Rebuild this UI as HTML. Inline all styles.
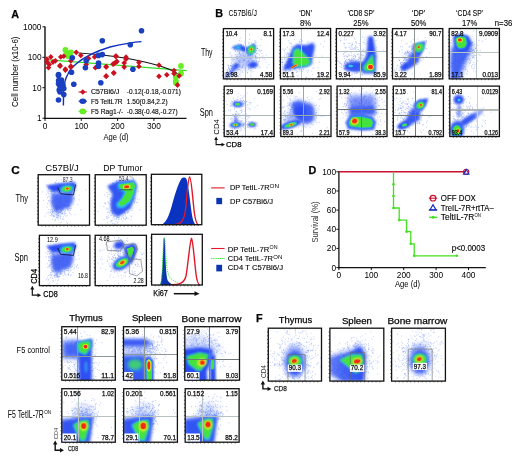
<!DOCTYPE html>
<html><head><meta charset="utf-8"><style>
html,body{margin:0;padding:0;background:#fff;width:520px;height:460px;overflow:hidden}
svg{display:block;font-family:"Liberation Sans", sans-serif;will-change:transform} text.q{stroke:#111;stroke-width:0.25px} text.l{stroke:#111;stroke-width:0.12px}
</style></head><body>
<svg width="520" height="460" viewBox="0 0 520 460">
<rect width="520" height="460" fill="#fff"/>
<defs><filter id="bl25" x="-50%" y="-50%" width="200%" height="200%"><feGaussianBlur stdDeviation="2.5"/></filter><filter id="bl12" x="-50%" y="-50%" width="200%" height="200%"><feGaussianBlur stdDeviation="1.2"/></filter><filter id="bl10" x="-50%" y="-50%" width="200%" height="200%"><feGaussianBlur stdDeviation="1.0"/></filter><filter id="bl11" x="-50%" y="-50%" width="200%" height="200%"><feGaussianBlur stdDeviation="1.1"/></filter><filter id="bl8" x="-50%" y="-50%" width="200%" height="200%"><feGaussianBlur stdDeviation="0.8"/></filter><filter id="bl9" x="-50%" y="-50%" width="200%" height="200%"><feGaussianBlur stdDeviation="0.9"/></filter><filter id="bl5" x="-50%" y="-50%" width="200%" height="200%"><feGaussianBlur stdDeviation="0.5"/></filter><filter id="bl4" x="-50%" y="-50%" width="200%" height="200%"><feGaussianBlur stdDeviation="0.4"/></filter><filter id="bl13" x="-50%" y="-50%" width="200%" height="200%"><feGaussianBlur stdDeviation="1.3"/></filter><filter id="bl16" x="-50%" y="-50%" width="200%" height="200%"><feGaussianBlur stdDeviation="1.6"/></filter><filter id="bl6" x="-50%" y="-50%" width="200%" height="200%"><feGaussianBlur stdDeviation="0.6"/></filter><filter id="bl18" x="-50%" y="-50%" width="200%" height="200%"><feGaussianBlur stdDeviation="1.8"/></filter><filter id="bl7" x="-50%" y="-50%" width="200%" height="200%"><feGaussianBlur stdDeviation="0.7"/></filter><filter id="bl20" x="-50%" y="-50%" width="200%" height="200%"><feGaussianBlur stdDeviation="2.0"/></filter><filter id="bl3" x="-50%" y="-50%" width="200%" height="200%"><feGaussianBlur stdDeviation="0.3"/></filter><filter id="bl15" x="-50%" y="-50%" width="200%" height="200%"><feGaussianBlur stdDeviation="1.5"/></filter><filter id="bl22" x="-50%" y="-50%" width="200%" height="200%"><feGaussianBlur stdDeviation="2.2"/></filter><filter id="bl14" x="-50%" y="-50%" width="200%" height="200%"><feGaussianBlur stdDeviation="1.4"/></filter><filter id="bl30" x="-50%" y="-50%" width="200%" height="200%"><feGaussianBlur stdDeviation="3"/></filter></defs>
<text x="11.2" y="17.9" font-size="10.8" class="q" font-weight="bold">A</text>
<line x1="45.0" y1="26.5" x2="45.0" y2="119.1" stroke="#111" stroke-width="1.4" />
<line x1="44.3" y1="118.4" x2="186.5" y2="118.4" stroke="#111" stroke-width="1.4" />
<line x1="42.5" y1="26.8" x2="45.0" y2="26.8" stroke="#111" stroke-width="1" />
<text x="41.5" y="29.8" font-size="8.3" text-anchor="end">1000</text>
<line x1="42.5" y1="57.3" x2="45.0" y2="57.3" stroke="#111" stroke-width="1" />
<text x="41.5" y="60.3" font-size="8.3" text-anchor="end">100</text>
<line x1="42.5" y1="87.7" x2="45.0" y2="87.7" stroke="#111" stroke-width="1" />
<text x="41.5" y="90.7" font-size="8.3" text-anchor="end">10</text>
<line x1="42.5" y1="118.2" x2="45.0" y2="118.2" stroke="#111" stroke-width="1" />
<text x="41.5" y="121.2" font-size="8.3" text-anchor="end">1</text>
<line x1="45.0" y1="118.4" x2="45.0" y2="120.9" stroke="#111" stroke-width="1" />
<text x="45.0" y="128.5" font-size="8.3" text-anchor="middle">0</text>
<line x1="81.3" y1="118.4" x2="81.3" y2="120.9" stroke="#111" stroke-width="1" />
<text x="81.3" y="128.5" font-size="8.3" text-anchor="middle">100</text>
<line x1="117.6" y1="118.4" x2="117.6" y2="120.9" stroke="#111" stroke-width="1" />
<text x="117.6" y="128.5" font-size="8.3" text-anchor="middle">200</text>
<line x1="153.9" y1="118.4" x2="153.9" y2="120.9" stroke="#111" stroke-width="1" />
<text x="153.9" y="128.5" font-size="8.3" text-anchor="middle">300</text>
<text x="103.5" y="139.6" font-size="8.6" textLength="25.0" lengthAdjust="spacingAndGlyphs">Age (d)</text>
<text x="17.9" y="107.0" font-size="8.4" textLength="70.5" lengthAdjust="spacingAndGlyphs" transform="rotate(-90 17.9 107.0)">Cell number (x10-6)</text>
<path d="M46,59.7 L186.7,70.6" stroke="#33dd22" stroke-width="1.2" fill="none"/>
<path d="M78.5,53 C110,55 140,60 160,66 C168,68.5 174,71 177.5,73.8" stroke="#111" stroke-width="1.2" fill="none"/>
<path d="M63.4,105.4 L63.6,90 C64.5,82 66,77 67.7,74.6 C70,69 72,67 75.4,64.6 C85,56 100,50 110,47 C125,43.5 135,42 141.5,41.6" stroke="#1030c0" stroke-width="1.4" fill="none"/>
<circle cx="65.4" cy="50" r="2.9" fill="#66ee22"/>
<circle cx="70.8" cy="52.3" r="2.9" fill="#66ee22"/>
<circle cx="68.5" cy="56.2" r="2.9" fill="#66ee22"/>
<circle cx="181" cy="66" r="2.9" fill="#66ee22"/>
<circle cx="181" cy="73.5" r="2.9" fill="#66ee22"/>
<circle cx="175.8" cy="76.9" r="2.9" fill="#66ee22"/>
<circle cx="175.8" cy="81" r="2.9" fill="#66ee22"/>
<circle cx="175.8" cy="82.7" r="2.9" fill="#66ee22"/>
<circle cx="67" cy="53" r="2.9" fill="#66ee22"/>
<path d="M46.9,56.300000000000004 L49.699999999999996,59.2 L46.9,62.1 L44.1,59.2 Z" fill="#cc1020"/>
<path d="M50.8,54.0 L53.599999999999994,56.9 L50.8,59.8 L48.0,56.9 Z" fill="#cc1020"/>
<path d="M49.2,61.699999999999996 L52.0,64.6 L49.2,67.5 L46.400000000000006,64.6 Z" fill="#cc1020"/>
<path d="M48.5,64.8 L51.3,67.7 L48.5,70.60000000000001 L45.7,67.7 Z" fill="#cc1020"/>
<path d="M55.4,57.9 L58.199999999999996,60.8 L55.4,63.699999999999996 L52.6,60.8 Z" fill="#cc1020"/>
<path d="M60,62.50000000000001 L62.8,65.4 L60,68.30000000000001 L57.2,65.4 Z" fill="#cc1020"/>
<path d="M60.8,54.0 L63.599999999999994,56.9 L60.8,59.8 L58.0,56.9 Z" fill="#cc1020"/>
<path d="M63.8,53.300000000000004 L66.6,56.2 L63.8,59.1 L61.0,56.2 Z" fill="#cc1020"/>
<path d="M65.4,66.3 L68.2,69.2 L65.4,72.10000000000001 L62.60000000000001,69.2 Z" fill="#cc1020"/>
<path d="M70.8,57.9 L73.6,60.8 L70.8,63.699999999999996 L68.0,60.8 Z" fill="#cc1020"/>
<path d="M70.8,63.300000000000004 L73.6,66.2 L70.8,69.10000000000001 L68.0,66.2 Z" fill="#cc1020"/>
<path d="M76.2,49.4 L79.0,52.3 L76.2,55.199999999999996 L73.4,52.3 Z" fill="#cc1020"/>
<path d="M80.8,52.5 L83.6,55.4 L80.8,58.3 L78.0,55.4 Z" fill="#cc1020"/>
<path d="M86.2,61.699999999999996 L89.0,64.6 L86.2,67.5 L83.4,64.6 Z" fill="#cc1020"/>
<path d="M88.5,55.6 L91.3,58.5 L88.5,61.4 L85.7,58.5 Z" fill="#cc1020"/>
<path d="M94.6,54.0 L97.39999999999999,56.9 L94.6,59.8 L91.8,56.9 Z" fill="#cc1020"/>
<path d="M95.4,64.8 L98.2,67.7 L95.4,70.60000000000001 L92.60000000000001,67.7 Z" fill="#cc1020"/>
<path d="M106.2,64.0 L109.0,66.9 L106.2,69.80000000000001 L103.4,66.9 Z" fill="#cc1020"/>
<path d="M106.2,73.3 L109.0,76.2 L106.2,79.10000000000001 L103.4,76.2 Z" fill="#cc1020"/>
<path d="M113.8,60.9 L116.6,63.8 L113.8,66.7 L111.0,63.8 Z" fill="#cc1020"/>
<path d="M113.8,70.19999999999999 L116.6,73.1 L113.8,76.0 L111.0,73.1 Z" fill="#cc1020"/>
<path d="M116.2,53.300000000000004 L119.0,56.2 L116.2,59.1 L113.4,56.2 Z" fill="#cc1020"/>
<path d="M116.9,58.6 L119.7,61.5 L116.9,64.4 L114.10000000000001,61.5 Z" fill="#cc1020"/>
<path d="M115.6,53.4 L118.39999999999999,56.3 L115.6,59.199999999999996 L112.8,56.3 Z" fill="#cc1020"/>
<path d="M126,54.300000000000004 L128.8,57.2 L126,60.1 L123.2,57.2 Z" fill="#cc1020"/>
<path d="M126,56.1 L128.8,59 L126,61.9 L123.2,59 Z" fill="#cc1020"/>
<path d="M115.6,59.5 L118.39999999999999,62.4 L115.6,65.3 L112.8,62.4 Z" fill="#cc1020"/>
<path d="M113,61.199999999999996 L115.8,64.1 L113,67.0 L110.2,64.1 Z" fill="#cc1020"/>
<path d="M124.2,60.0 L127.0,62.9 L124.2,65.8 L121.4,62.9 Z" fill="#cc1020"/>
<path d="M124.2,64.19999999999999 L127.0,67.1 L124.2,70.0 L121.4,67.1 Z" fill="#cc1020"/>
<path d="M106.1,63.800000000000004 L108.89999999999999,66.7 L106.1,69.60000000000001 L103.3,66.7 Z" fill="#cc1020"/>
<path d="M113.8,69.89999999999999 L116.6,72.8 L113.8,75.7 L111.0,72.8 Z" fill="#cc1020"/>
<path d="M106.1,73.3 L108.89999999999999,76.2 L106.1,79.10000000000001 L103.3,76.2 Z" fill="#cc1020"/>
<path d="M138.9,59.5 L141.70000000000002,62.4 L138.9,65.3 L136.1,62.4 Z" fill="#cc1020"/>
<path d="M138.9,63.50000000000001 L141.70000000000002,66.4 L138.9,69.30000000000001 L136.1,66.4 Z" fill="#cc1020"/>
<path d="M159,62.300000000000004 L161.8,65.2 L159,68.10000000000001 L156.2,65.2 Z" fill="#cc1020"/>
<path d="M159,73.39999999999999 L161.8,76.3 L159,79.2 L156.2,76.3 Z" fill="#cc1020"/>
<path d="M166.8,71.89999999999999 L169.60000000000002,74.8 L166.8,77.7 L164.0,74.8 Z" fill="#cc1020"/>
<path d="M174,67.69999999999999 L176.8,70.6 L174,73.5 L171.2,70.6 Z" fill="#cc1020"/>
<path d="M174,70.6 L176.8,73.5 L174,76.4 L171.2,73.5 Z" fill="#cc1020"/>
<path d="M179.2,72.89999999999999 L182.0,75.8 L179.2,78.7 L176.39999999999998,75.8 Z" fill="#cc1020"/>
<path d="M177.5,82.1 L180.3,85 L177.5,87.9 L174.7,85 Z" fill="#cc1020"/>
<path d="M60,63.300000000000004 L62.8,66.2 L60,69.10000000000001 L57.2,66.2 Z" fill="#cc1020"/>
<path d="M65.4,67.1 L68.2,70 L65.4,72.9 L62.60000000000001,70 Z" fill="#cc1020"/>
<path d="M70.8,64.1 L73.6,67 L70.8,69.9 L68.0,67 Z" fill="#cc1020"/>
<path d="M53,59.1 L55.8,62 L53,64.9 L50.2,62 Z" fill="#cc1020"/>
<path d="M47,59.1 L49.8,62 L47,64.9 L44.2,62 Z" fill="#cc1020"/>
<circle cx="102.3" cy="40.8" r="2.8" fill="#1a3fbf"/>
<circle cx="72.3" cy="57.7" r="2.8" fill="#1a3fbf"/>
<circle cx="71.5" cy="72.3" r="2.8" fill="#1a3fbf"/>
<circle cx="58.5" cy="74.6" r="2.8" fill="#1a3fbf"/>
<circle cx="86.2" cy="60.8" r="2.8" fill="#1a3fbf"/>
<circle cx="85.4" cy="67.7" r="2.8" fill="#1a3fbf"/>
<circle cx="98.5" cy="55.4" r="2.8" fill="#1a3fbf"/>
<circle cx="102.3" cy="54.6" r="2.8" fill="#1a3fbf"/>
<circle cx="98.5" cy="63" r="2.8" fill="#1a3fbf"/>
<circle cx="98.5" cy="66.2" r="2.8" fill="#1a3fbf"/>
<circle cx="58.5" cy="75.4" r="2.8" fill="#1a3fbf"/>
<circle cx="61.5" cy="80" r="2.8" fill="#1a3fbf"/>
<circle cx="58.5" cy="83.8" r="2.8" fill="#1a3fbf"/>
<circle cx="60" cy="86.2" r="2.8" fill="#1a3fbf"/>
<circle cx="63" cy="85.4" r="2.8" fill="#1a3fbf"/>
<circle cx="59.2" cy="90" r="2.8" fill="#1a3fbf"/>
<circle cx="63.8" cy="88.5" r="2.8" fill="#1a3fbf"/>
<circle cx="63.8" cy="94.6" r="2.8" fill="#1a3fbf"/>
<circle cx="58.5" cy="100" r="2.8" fill="#1a3fbf"/>
<circle cx="73.8" cy="84.3" r="2.8" fill="#1a3fbf"/>
<circle cx="100.8" cy="82.8" r="2.8" fill="#1a3fbf"/>
<circle cx="141.5" cy="30.7" r="2.8" fill="#1a3fbf"/>
<circle cx="130.3" cy="44.7" r="2.8" fill="#1a3fbf"/>
<circle cx="132.9" cy="69.3" r="2.8" fill="#1a3fbf"/>
<circle cx="62" cy="83" r="2.8" fill="#1a3fbf"/>
<circle cx="60" cy="92" r="2.8" fill="#1a3fbf"/>
<circle cx="61" cy="88" r="2.8" fill="#1a3fbf"/>
<circle cx="58.6" cy="80.5" r="2.8" fill="#1a3fbf"/>
<line x1="78.5" y1="92.0" x2="87.0" y2="92.0" stroke="#cc1020" stroke-width="1" />
<path d="M82.8,89.2 L85.6,92 L82.8,94.8 L80,92 Z" fill="#cc1020"/>
<text x="90.9" y="94.3" font-size="6.8" class="l" textLength="28.5" lengthAdjust="spacingAndGlyphs">C57Bl6/J</text>
<text x="126.8" y="94.3" font-size="6.8" class="l" textLength="54.0" lengthAdjust="spacingAndGlyphs">-0.12(-0.18,-0.071)</text>
<line x1="78.5" y1="101.2" x2="87.0" y2="101.2" stroke="#1a3fbf" stroke-width="1" />
<ellipse cx="82.8" cy="101.2" rx="3.4" ry="2.8" fill="#1a3fbf"/>
<text x="90.9" y="103.5" font-size="6.8" class="l" textLength="31.7" lengthAdjust="spacingAndGlyphs">F5 TeltL7R</text>
<text x="126.8" y="103.5" font-size="6.8" class="l" textLength="40.9" lengthAdjust="spacingAndGlyphs">1.50(0.84,2.2)</text>
<line x1="78.5" y1="111.4" x2="87.0" y2="111.4" stroke="#66ee22" stroke-width="1" />
<ellipse cx="82.8" cy="111.4" rx="3.4" ry="2.8" fill="#66ee22"/>
<text x="90.9" y="113.7" font-size="6.8" class="l" textLength="32.3" lengthAdjust="spacingAndGlyphs">F5 Rag1-/-</text>
<text x="126.8" y="113.7" font-size="6.8" class="l" textLength="50.8" lengthAdjust="spacingAndGlyphs">-0.38(-0.48,-0.27)</text>
<text x="308.5" y="173.5" font-size="10.8" class="q" font-weight="bold">D</text>
<line x1="338.9" y1="171.3" x2="338.9" y2="268.3" stroke="#111" stroke-width="1.3" />
<line x1="338.2" y1="267.6" x2="485.8" y2="267.6" stroke="#111" stroke-width="1.3" />
<line x1="336.4" y1="267.6" x2="338.9" y2="267.6" stroke="#111" stroke-width="1" />
<text x="336.0" y="270.6" font-size="8.3" text-anchor="end">0</text>
<line x1="336.4" y1="248.4" x2="338.9" y2="248.4" stroke="#111" stroke-width="1" />
<text x="336.0" y="251.4" font-size="8.3" text-anchor="end">20</text>
<line x1="336.4" y1="229.3" x2="338.9" y2="229.3" stroke="#111" stroke-width="1" />
<text x="336.0" y="232.3" font-size="8.3" text-anchor="end">40</text>
<line x1="336.4" y1="210.1" x2="338.9" y2="210.1" stroke="#111" stroke-width="1" />
<text x="336.0" y="213.1" font-size="8.3" text-anchor="end">60</text>
<line x1="336.4" y1="191.0" x2="338.9" y2="191.0" stroke="#111" stroke-width="1" />
<text x="336.0" y="194.0" font-size="8.3" text-anchor="end">80</text>
<line x1="336.4" y1="171.8" x2="338.9" y2="171.8" stroke="#111" stroke-width="1" />
<text x="336.0" y="174.8" font-size="8.3" text-anchor="end">100</text>
<line x1="338.9" y1="267.6" x2="338.9" y2="270.1" stroke="#111" stroke-width="1" />
<text x="338.9" y="277.8" font-size="8.3" text-anchor="middle">0</text>
<line x1="371.3" y1="267.6" x2="371.3" y2="270.1" stroke="#111" stroke-width="1" />
<text x="371.3" y="277.8" font-size="8.3" text-anchor="middle">100</text>
<line x1="403.7" y1="267.6" x2="403.7" y2="270.1" stroke="#111" stroke-width="1" />
<text x="403.7" y="277.8" font-size="8.3" text-anchor="middle">200</text>
<line x1="436.1" y1="267.6" x2="436.1" y2="270.1" stroke="#111" stroke-width="1" />
<text x="436.1" y="277.8" font-size="8.3" text-anchor="middle">300</text>
<line x1="468.5" y1="267.6" x2="468.5" y2="270.1" stroke="#111" stroke-width="1" />
<text x="468.5" y="277.8" font-size="8.3" text-anchor="middle">400</text>
<text x="395.0" y="287.3" font-size="8.6" textLength="25.0" lengthAdjust="spacingAndGlyphs">Age (d)</text>
<text x="317.6" y="242.5" font-size="8.4" fill="#333" textLength="41.0" lengthAdjust="spacingAndGlyphs" transform="rotate(-90 317.6 242.5)">Survival (%)</text>
<line x1="338.9" y1="171.8" x2="466.2" y2="171.8" stroke="#cc1030" stroke-width="1.4" />
<path d="M393.5,171.8 V208 H399.2 V220.1 H406.6 V231.6 H410.8 V243.8 H414.2 V255.8 H456.9" stroke="#44e020" stroke-width="1.3" fill="none"/>
<circle cx="393.5" cy="184.3" r="1.3" fill="#44e020"/>
<circle cx="393.5" cy="196" r="1.3" fill="#44e020"/>
<circle cx="393.5" cy="208" r="1.3" fill="#44e020"/>
<circle cx="399.2" cy="220.1" r="1.3" fill="#44e020"/>
<circle cx="406.6" cy="231.6" r="1.3" fill="#44e020"/>
<circle cx="410.8" cy="243.8" r="1.3" fill="#44e020"/>
<circle cx="414.2" cy="255.8" r="1.3" fill="#44e020"/>
<circle cx="456.9" cy="255.8" r="1.3" fill="#44e020"/>
<circle cx="466.2" cy="171.8" r="2.6" fill="none" stroke="#cc1030" stroke-width="1.1"/>
<path d="M463.4,174.3 L466.2,169.3 L469,174.3 Z" fill="none" stroke="#1a30c0" stroke-width="1.1"/>
<circle cx="433" cy="198.2" r="2.8" fill="none" stroke="#cc1030" stroke-width="1.2"/>
<line x1="428.8" y1="198.2" x2="437.2" y2="198.2" stroke="#cc1030" stroke-width="1.1" />
<text x="440.8" y="201.2" font-size="8.2" class="l" textLength="35.0" lengthAdjust="spacingAndGlyphs">OFF DOX</text>
<path d="M429.8,210.2 L433,204.8 L436.2,210.2 Z" fill="none" stroke="#1a30c0" stroke-width="1.2"/>
<line x1="428.8" y1="209.8" x2="437.2" y2="209.8" stroke="#1a30c0" stroke-width="1.1" />
<text x="440.8" y="210.8" font-size="8.2" class="l" textLength="53.0" lengthAdjust="spacingAndGlyphs">TreIL-7R+rtTA–</text>
<line x1="429.2" y1="217.3" x2="437.3" y2="217.3" stroke="#44e020" stroke-width="1.4" />
<circle cx="433.2" cy="217.3" r="1.5" fill="#44e020"/>
<text x="440.8" y="220.3" font-size="8.2" class="l" textLength="33.5" lengthAdjust="spacingAndGlyphs">TeltIL-7R</text>
<text x="474.5" y="217.3" font-size="4.8" textLength="6.5" lengthAdjust="spacingAndGlyphs">ON</text>
<text x="451.8" y="250.8" font-size="8.2" class="l" textLength="33.3" lengthAdjust="spacingAndGlyphs">p&lt;0.0003</text>
<text x="215.3" y="17.4" font-size="10.8" class="q" font-weight="bold">B</text>
<text x="228.5" y="15.8" font-size="9.8" textLength="28.4" lengthAdjust="spacingAndGlyphs">C57Bl6/J</text>
<text x="305.6" y="16.1" font-size="8.4" class="l" text-anchor="middle" textLength="12.9" lengthAdjust="spacingAndGlyphs">‘DN’</text>
<text x="305.6" y="25.8" font-size="8.4" class="l" text-anchor="middle" textLength="11.2" lengthAdjust="spacingAndGlyphs">8%</text>
<text x="360.9" y="16.1" font-size="8.4" class="l" text-anchor="middle" textLength="27.0" lengthAdjust="spacingAndGlyphs">‘CD8 SP’</text>
<text x="360.9" y="25.8" font-size="8.4" class="l" text-anchor="middle" textLength="15.3" lengthAdjust="spacingAndGlyphs">25%</text>
<text x="418.6" y="16.1" font-size="8.4" class="l" text-anchor="middle" textLength="13.5" lengthAdjust="spacingAndGlyphs">‘DP’</text>
<text x="418.6" y="25.8" font-size="8.4" class="l" text-anchor="middle" textLength="15.3" lengthAdjust="spacingAndGlyphs">50%</text>
<text x="469.6" y="16.1" font-size="8.4" class="l" text-anchor="middle" textLength="27.0" lengthAdjust="spacingAndGlyphs">‘CD4 SP’</text>
<text x="469.6" y="25.8" font-size="8.4" class="l" text-anchor="middle" textLength="15.3" lengthAdjust="spacingAndGlyphs">17%</text>
<text x="494.8" y="25.8" font-size="8.4" class="l" textLength="17.5" lengthAdjust="spacingAndGlyphs">n=36</text>
<text x="201.0" y="56.3" font-size="10.2" textLength="11.5" lengthAdjust="spacingAndGlyphs">Thy</text>
<text x="199.8" y="115.5" font-size="10.2" textLength="13.2" lengthAdjust="spacingAndGlyphs">Spn</text>
<text x="219.0" y="134.7" font-size="7" textLength="15.6" lengthAdjust="spacingAndGlyphs" transform="rotate(-90 219.0 134.7)">CD4</text>
<path d="M216.1,139.5 V144.6 H222" stroke="#111" stroke-width="1.1" fill="none"/>
<path d="M214.2,140 L216.1,136.6 L218,140 Z M221.5,142.7 L225,144.6 L221.5,146.5 Z" fill="#111"/>
<text x="226.0" y="147.4" font-size="7" class="q" textLength="15.5" lengthAdjust="spacingAndGlyphs">CD8</text>
<clipPath id="cp1"><rect x="223.4" y="28.6" width="50.2" height="50.3"/></clipPath>
<g clip-path="url(#cp1)">
<path d="M235.0 63.0h.9M255.0 55.9h.9M234.0 59.5h.9M250.3 68.8h.9M235.1 49.7h.9M252.4 63.8h.9M259.8 67.9h.9M245.1 57.8h.9M269.1 57.7h.9M238.9 50.9h.9M246.9 61.2h.9M242.9 59.5h.9M248.5 65.5h.9M255.9 61.7h.9M229.9 65.6h.9M233.2 58.6h.9M232.7 60.0h.9M239.0 61.7h.9M275.7 59.6h.9M253.6 49.4h.9M243.4 65.3h.9M245.2 63.0h.9M246.9 52.0h.9M251.1 53.5h.9M262.8 56.0h.9M252.2 60.0h.9M254.6 55.2h.9M255.0 59.0h.9M257.4 65.0h.9M247.3 53.8h.9M252.9 63.7h.9M260.8 57.0h.9M251.0 64.1h.9M248.5 61.7h.9M247.6 55.2h.9M236.9 56.8h.9M251.3 72.1h.9M254.8 68.4h.9M253.0 65.6h.9M247.7 66.2h.9M262.0 57.4h.9M239.8 75.7h.9M248.2 67.8h.9M253.9 50.9h.9M267.9 74.2h.9M247.6 66.0h.9M247.1 52.9h.9M245.0 63.0h.9M256.0 65.7h.9M246.5 70.8h.9M239.2 66.3h.9M256.0 57.7h.9M229.9 52.7h.9M248.1 64.2h.9M259.9 52.0h.9M246.0 65.2h.9M244.6 41.0h.9M253.3 78.5h.9M255.0 52.7h.9M242.3 61.8h.9M268.4 64.9h.9M247.0 72.5h.9M245.3 74.9h.9M239.8 56.2h.9M252.5 71.4h.9M251.9 62.4h.9M229.6 54.3h.9M240.5 55.7h.9M251.3 57.3h.9M253.1 60.7h.9M243.0 60.9h.9M249.9 66.9h.9M241.7 58.1h.9M233.7 72.8h.9M259.1 58.6h.9M241.7 50.1h.9M247.5 61.7h.9M265.6 62.0h.9M239.0 40.4h.9M258.7 61.5h.9M231.5 61.4h.9M231.5 87.8h.9M256.1 64.6h.9M244.4 42.9h.9M244.9 47.6h.9M251.4 42.9h.9M237.8 69.8h.9M260.8 50.6h.9M232.2 67.0h.9M253.7 52.1h.9M239.8 54.4h.9M235.3 54.6h.9M257.3 65.5h.9M264.5 59.3h.9M244.8 52.1h.9M244.9 49.5h.9M230.0 65.6h.9M259.0 66.7h.9M258.0 62.0h.9M239.5 60.7h.9M242.6 51.1h.9M230.8 48.1h.9M246.0 61.2h.9M241.7 71.4h.9M247.6 64.7h.9M257.0 53.4h.9M228.3 66.0h.9M239.8 70.5h.9M249.0 68.1h.9M252.9 43.4h.9M252.5 54.6h.9M239.2 56.5h.9M252.9 67.1h.9M255.1 46.7h.9M240.7 41.0h.9M245.1 64.8h.9M239.1 62.0h.9M248.1 68.1h.9M238.6 53.4h.9M239.1 74.0h.9M255.8 59.0h.9M248.0 60.9h.9M247.8 58.3h.9M243.0 49.9h.9M240.2 73.2h.9M250.8 60.5h.9M244.1 60.5h.9M249.2 54.8h.9M247.8 61.9h.9M239.3 53.7h.9M237.0 51.5h.9M254.0 41.1h.9M243.6 55.1h.9M240.4 60.8h.9M256.2 60.6h.9M244.7 55.1h.9M244.8 67.3h.9M242.5 50.8h.9M234.6 51.1h.9M233.5 68.8h.9M249.2 58.1h.9M259.1 54.7h.9M252.8 66.4h.9M232.1 47.5h.9M237.7 67.3h.9M257.7 50.2h.9M255.4 56.9h.9M242.5 55.6h.9M243.1 45.5h.9M237.0 50.1h.9M250.4 76.7h.9M270.6 57.3h.9M230.5 56.7h.9M237.5 75.9h.9M251.1 54.2h.9M254.4 64.3h.9M231.4 55.7h.9M243.8 60.2h.9M247.2 57.3h.9M247.7 55.3h.9M237.9 72.1h.9M249.2 63.5h.9M231.6 58.7h.9M253.4 49.7h.9M255.9 56.9h.9M249.6 58.9h.9M248.0 69.6h.9M242.4 72.5h.9M239.0 52.5h.9M252.4 51.5h.9M242.7 67.3h.9M256.9 45.8h.9M250.6 75.1h.9M256.8 58.1h.9M240.6 57.6h.9M235.6 57.9h.9M244.3 58.8h.9M256.6 58.2h.9M232.9 68.4h.9M236.3 56.4h.9M244.8 57.2h.9M237.0 58.0h.9M265.7 55.1h.9M244.8 69.0h.9M252.7 66.1h.9M253.8 44.3h.9M238.2 61.0h.9M250.5 70.4h.9M250.2 58.1h.9M246.4 58.3h.9M248.2 65.4h.9M242.9 53.5h.9M238.3 68.8h.9M257.5 67.9h.9M253.7 66.7h.9M246.0 65.3h.9M236.5 58.4h.9M239.4 65.8h.9M240.8 59.1h.9M249.6 70.8h.9M238.9 52.5h.9M253.4 51.1h.9M250.1 55.4h.9M245.0 45.4h.9M252.4 56.0h.9M237.9 76.6h.9M252.4 88.1h.9M249.7 57.2h.9M247.0 72.9h.9M245.8 63.6h.9M250.6 52.7h.9M247.2 56.0h.9M234.8 67.0h.9M252.0 60.6h.9M237.8 44.0h.9M250.4 59.2h.9M230.8 59.5h.9M232.3 59.8h.9M247.3 62.8h.9M248.0 61.4h.9M235.7 56.9h.9M241.4 58.1h.9M248.4 65.0h.9M260.7 39.5h.9M249.6 58.4h.9M266.5 67.5h.9M231.1 63.2h.9M241.3 67.9h.9M236.5 59.2h.9M244.8 59.2h.9M240.7 45.3h.9M250.1 68.0h.9M245.4 51.9h.9M247.8 64.5h.9M244.4 59.9h.9M258.7 51.1h.9M241.0 44.8h.9M239.7 54.1h.9M237.4 54.4h.9M262.2 58.4h.9M245.0 77.6h.9M245.5 46.1h.9M249.6 52.5h.9M260.7 50.0h.9M240.8 47.2h.9M246.9 51.9h.9M245.4 57.0h.9M240.5 67.5h.9M254.4 60.5h.9M237.9 51.4h.9M248.4 79.1h.9M241.9 53.7h.9M239.7 51.2h.9M237.2 58.4h.9M258.9 60.0h.9M241.4 47.1h.9M247.9 59.8h.9M235.0 51.3h.9M245.6 68.1h.9M251.6 61.6h.9" stroke="#5577f5" stroke-opacity="0.45" stroke-width="0.9" fill="none"/>
<path d="M231.1 72.0h.9M236.1 75.0h.9M226.1 73.5h.9M237.3 64.5h.9M238.5 64.4h.9M232.0 68.6h.9M223.8 73.1h.9M243.4 62.9h.9M236.6 69.9h.9M236.6 70.2h.9M230.3 70.5h.9M235.8 65.4h.9M225.4 74.6h.9M230.7 73.5h.9M226.6 70.3h.9M233.5 74.8h.9M232.1 70.6h.9M232.6 70.6h.9M239.0 69.6h.9M227.1 79.5h.9M231.4 69.3h.9M242.7 60.4h.9M242.8 64.7h.9M228.2 75.1h.9M235.1 66.9h.9M220.6 78.2h.9M229.0 68.2h.9M239.9 62.4h.9M229.6 70.8h.9M226.9 71.2h.9M233.0 70.4h.9M229.5 71.7h.9M226.6 76.6h.9M229.0 73.4h.9M226.8 72.3h.9M230.7 66.4h.9M243.3 60.4h.9M230.2 68.6h.9M242.0 67.0h.9M230.7 65.7h.9M230.9 73.4h.9M227.4 69.3h.9M225.1 72.8h.9M230.8 68.5h.9M237.5 76.3h.9M238.1 60.8h.9M233.7 68.9h.9M233.4 72.9h.9M229.8 70.5h.9M230.1 71.2h.9M239.4 66.8h.9M225.0 74.2h.9M229.9 75.0h.9M234.7 71.2h.9M228.0 65.9h.9M234.5 68.8h.9M231.8 65.0h.9M231.0 68.1h.9M229.5 73.5h.9M231.9 66.6h.9M219.4 70.9h.9M231.5 74.8h.9M227.4 65.0h.9M228.8 74.3h.9M241.9 66.2h.9M234.1 69.0h.9M226.3 73.0h.9M229.0 69.5h.9M231.5 68.9h.9M236.3 72.0h.9M236.2 68.1h.9M228.0 67.4h.9M232.5 71.7h.9M229.8 76.8h.9M231.2 72.1h.9M228.1 68.4h.9M239.3 59.4h.9M235.1 65.2h.9M231.7 67.1h.9M231.9 73.7h.9" stroke="#5577f5" stroke-opacity="0.55" stroke-width="0.9" fill="none"/>
<path d="M259.7 45.8h.9M250.1 54.7h.9M246.8 53.6h.9M246.1 53.0h.9M252.2 56.1h.9M251.8 44.0h.9M253.3 44.5h.9M253.8 57.6h.9M253.0 47.2h.9M256.0 50.8h.9M243.8 48.2h.9M257.1 48.5h.9M250.6 48.3h.9M241.6 47.4h.9M251.8 51.0h.9M249.1 39.3h.9M256.1 53.6h.9M255.1 56.5h.9M247.8 47.0h.9M251.6 58.4h.9M241.6 48.9h.9M246.4 52.8h.9M257.3 48.5h.9M243.8 50.2h.9M248.6 42.3h.9M254.4 47.4h.9M253.4 43.4h.9M255.5 42.8h.9M255.3 40.9h.9M256.9 48.1h.9M242.2 48.8h.9M251.7 45.0h.9M247.5 51.3h.9M249.2 34.7h.9M247.9 52.1h.9M251.5 55.0h.9M246.5 62.8h.9M254.0 51.6h.9M255.4 54.8h.9M250.5 46.9h.9M255.1 52.1h.9M240.5 44.5h.9M252.3 50.5h.9M251.4 53.2h.9M250.7 57.9h.9M247.1 48.0h.9M251.6 53.7h.9M253.9 57.4h.9M247.6 55.8h.9M252.3 44.8h.9M249.3 60.4h.9M253.9 47.7h.9M238.0 46.3h.9M246.5 50.4h.9M261.6 53.7h.9M251.6 45.3h.9M244.1 49.0h.9M247.7 65.0h.9M248.0 46.9h.9M255.6 50.4h.9M243.8 56.4h.9M248.4 43.4h.9M251.6 52.4h.9M248.3 53.5h.9M254.1 45.6h.9M239.7 38.0h.9M249.4 56.2h.9M255.0 57.0h.9M259.3 50.1h.9M255.3 42.4h.9M253.4 52.0h.9M249.5 47.8h.9M244.4 50.7h.9M256.4 48.2h.9M252.7 46.7h.9M251.3 45.0h.9M251.9 48.9h.9M251.6 47.0h.9M244.1 48.4h.9M255.2 57.9h.9" stroke="#5577f5" stroke-opacity="0.5" stroke-width="0.9" fill="none"/>
<ellipse cx="244.0" cy="60.0" rx="11.0" ry="8.0" transform="rotate(-30 244.0 60.0)" fill="#6a88f6" fill-opacity="0.45" filter="url(#bl25)"/>
<path d="M224.0,77.5 L233.0,67.5 L238.0,64.0 L239.0,67.0 L228.0,77.0 L225.0,79.0 Z" fill="#4060f2" fill-opacity="0.75" filter="url(#bl12)"/>
<ellipse cx="235.5" cy="65.8" rx="3.5" ry="2.0" transform="rotate(-30 235.5 65.8)" fill="#2a4cf2" fill-opacity="0.9" filter="url(#bl10)"/>
<path d="M233.0,46.5 L240.0,44.5 L246.0,47.5 L248.0,51.0 L241.0,50.0 L233.0,49.0 Z" fill="#2a4cf2" fill-opacity="1" filter="url(#bl11)"/>
<ellipse cx="238.0" cy="47.4" rx="3.2" ry="1.6" transform="rotate(5 238.0 47.4)" fill="#2ec4ea" fill-opacity="1" filter="url(#bl8)"/>
<path d="M245.7,48.5 L255.2,44.2 L255.0,50.5 L249.6,55.6 Z" fill="#3356f2" fill-opacity="1" filter="url(#bl12)"/>
<path d="M246.5,48.8 L254.8,44.8 L254.5,50.2 L249.8,55.0 Z" fill="#2a4cf2" fill-opacity="1" filter="url(#bl9)"/>
<ellipse cx="251.2" cy="49.8" rx="3.8" ry="4.8" transform="rotate(30 251.2 49.8)" fill="#2ec4ea" fill-opacity="1" filter="url(#bl9)"/>
<ellipse cx="251.2" cy="49.8" rx="3.1" ry="4.1" transform="rotate(30 251.2 49.8)" fill="#44e23e" fill-opacity="1" filter="url(#bl8)"/>
<ellipse cx="244.0" cy="49.5" rx="3.0" ry="1.8" transform="rotate(15 244.0 49.5)" fill="#2a4cf2" fill-opacity="0.85" filter="url(#bl10)"/>
<ellipse cx="251.3" cy="49.3" rx="1.4" ry="1.5" transform="rotate(0 251.3 49.3)" fill="#e6ee22" fill-opacity="1" filter="url(#bl5)"/>
<ellipse cx="251.3" cy="49.3" rx="1.0" ry="1.1" transform="rotate(0 251.3 49.3)" fill="#f22a14" fill-opacity="1" filter="url(#bl4)"/>
<ellipse cx="253.0" cy="64.8" rx="5.0" ry="3.2" transform="rotate(-10 253.0 64.8)" fill="#4a6cf4" fill-opacity="0.85" filter="url(#bl13)"/>
<ellipse cx="253.0" cy="65.0" rx="3.5" ry="2.2" transform="rotate(-10 253.0 65.0)" fill="#2a4cf2" fill-opacity="1" filter="url(#bl10)"/>
<line x1="245.5" y1="28.6" x2="245.5" y2="78.9" stroke="#b8c6c6" stroke-width="1" />
<line x1="223.4" y1="57.5" x2="273.6" y2="57.5" stroke="#b8c6c6" stroke-width="1" />
</g>
<rect x="223.4" y="28.6" width="50.2" height="50.3" fill="none" stroke="#111" stroke-width="1.3"/>
<path d="M222.1 32.2h1.3M222.1 35.8h1.3M222.1 39.4h1.3M222.1 43.0h1.3M222.1 46.6h1.3M222.1 50.2h1.3M222.1 53.8h1.3M222.1 57.3h1.3M222.1 60.9h1.3M222.1 64.5h1.3M222.1 68.1h1.3M222.1 71.7h1.3M222.1 75.3h1.3M227.0 78.9v1.3M230.6 78.9v1.3M234.2 78.9v1.3M237.7 78.9v1.3M241.3 78.9v1.3M244.9 78.9v1.3M248.5 78.9v1.3M252.1 78.9v1.3M255.7 78.9v1.3M259.3 78.9v1.3M262.8 78.9v1.3M266.4 78.9v1.3M270.0 78.9v1.3" stroke="#222" stroke-width="0.7"/>
<text x="225.4" y="36.0" font-size="6.6" class="q" textLength="12.2" lengthAdjust="spacingAndGlyphs">10.4</text>
<text x="272.3" y="36.0" font-size="6.6" class="q" text-anchor="end" textLength="8.7" lengthAdjust="spacingAndGlyphs">8.1</text>
<text x="225.4" y="77.1" font-size="6.6" class="q" textLength="12.2" lengthAdjust="spacingAndGlyphs">3.98</text>
<text x="272.3" y="77.1" font-size="6.6" class="q" text-anchor="end" textLength="12.2" lengthAdjust="spacingAndGlyphs">4.58</text>
<clipPath id="cp2"><rect x="280.4" y="28.5" width="50.2" height="50.4"/></clipPath>
<g clip-path="url(#cp2)">
<path d="M294.8 66.0h.9M305.6 61.9h.9M282.5 61.2h.9M288.3 69.8h.9M305.9 64.2h.9M272.6 64.2h.9M305.0 45.2h.9M307.7 58.8h.9M296.2 50.9h.9M287.8 53.7h.9M328.9 60.0h.9M300.1 51.5h.9M291.8 52.5h.9M289.1 66.8h.9M295.3 66.7h.9M286.4 67.3h.9M297.7 64.7h.9M297.0 49.1h.9M310.1 53.6h.9M296.5 49.1h.9M300.0 54.1h.9M300.8 61.4h.9M291.1 43.9h.9M302.3 67.2h.9M305.0 46.5h.9M304.1 61.8h.9M300.8 62.3h.9M294.8 60.1h.9M307.3 53.0h.9M283.6 57.0h.9M300.0 39.6h.9M291.2 63.9h.9M296.5 58.9h.9M285.4 67.1h.9M315.5 56.0h.9M290.7 46.4h.9M306.9 59.0h.9M290.1 70.1h.9M305.6 64.0h.9M280.4 57.0h.9M304.3 45.8h.9M307.3 72.3h.9M308.3 50.8h.9M290.9 67.4h.9M307.9 70.3h.9M310.0 57.0h.9M293.9 39.4h.9M305.8 80.8h.9M293.4 53.2h.9M304.5 61.7h.9M284.3 50.9h.9M287.0 78.2h.9M290.8 66.5h.9M317.2 76.9h.9M312.3 74.3h.9M285.6 54.5h.9M290.7 55.1h.9M324.2 41.2h.9M303.6 45.6h.9M311.4 71.0h.9M292.9 78.7h.9M298.7 71.0h.9M301.1 52.4h.9M294.2 56.8h.9M304.2 59.3h.9M321.6 56.1h.9M293.3 50.8h.9M290.2 43.6h.9M288.1 67.1h.9M298.6 56.3h.9M301.5 68.7h.9M304.2 65.7h.9M292.4 55.4h.9M290.2 57.0h.9M289.8 54.3h.9M296.3 55.8h.9M295.3 53.1h.9M311.1 54.6h.9M287.9 59.9h.9M287.1 47.3h.9M298.8 41.3h.9M265.8 60.9h.9M308.3 41.3h.9M289.0 63.8h.9M278.1 49.3h.9M286.0 56.0h.9M278.3 66.9h.9M296.6 61.0h.9M294.7 36.8h.9M296.5 44.6h.9M298.1 49.5h.9M294.8 55.9h.9M305.7 65.7h.9M287.9 57.8h.9M312.6 62.9h.9M290.7 56.8h.9M294.5 67.4h.9M298.3 61.8h.9M320.1 44.2h.9M287.9 40.7h.9M282.1 66.6h.9M300.9 74.3h.9M278.3 49.2h.9M312.4 68.3h.9M306.8 66.7h.9M298.3 57.9h.9M298.3 66.4h.9M296.4 61.2h.9M312.5 46.7h.9M290.5 63.6h.9M295.4 56.4h.9M319.0 62.2h.9M293.8 69.0h.9M323.2 46.9h.9M291.3 59.2h.9M291.6 79.7h.9M303.3 54.0h.9M302.9 50.0h.9M291.9 59.1h.9M321.9 35.5h.9M302.2 71.5h.9M305.4 77.2h.9M302.5 59.5h.9M296.7 49.4h.9M314.4 46.2h.9M296.8 52.8h.9M290.1 35.8h.9M294.2 59.4h.9M299.4 66.4h.9M296.4 51.6h.9M301.1 64.6h.9M289.0 42.8h.9M287.7 68.6h.9M308.0 49.1h.9M299.1 66.4h.9M311.3 51.4h.9M295.6 72.1h.9M322.1 73.3h.9M286.6 62.5h.9M295.0 57.4h.9M291.4 53.2h.9M297.9 76.0h.9M305.0 62.3h.9M298.3 50.5h.9M295.7 70.4h.9M306.3 77.6h.9M300.6 57.8h.9M281.8 62.0h.9M280.8 73.3h.9M291.7 58.0h.9M284.5 53.0h.9M288.7 69.3h.9M300.5 46.2h.9M278.7 57.3h.9M293.1 46.9h.9M303.9 56.1h.9M299.1 52.1h.9M292.3 53.4h.9M282.0 64.3h.9M302.0 40.8h.9M299.0 69.5h.9M300.4 71.0h.9M295.3 58.0h.9M285.0 48.9h.9M279.8 49.0h.9M300.4 63.2h.9M309.6 59.3h.9M288.1 62.3h.9M296.5 75.8h.9M317.6 67.6h.9M286.6 52.7h.9M299.9 50.9h.9M303.2 64.9h.9M306.4 60.3h.9M289.2 49.6h.9M296.8 71.3h.9M313.7 67.8h.9M301.6 64.8h.9M306.2 70.9h.9M306.6 42.6h.9M307.5 61.9h.9M293.4 63.3h.9M300.9 57.5h.9M281.1 59.1h.9M303.6 57.5h.9M282.1 62.6h.9M305.2 59.8h.9M302.3 54.5h.9M291.4 63.2h.9M294.5 59.8h.9M330.6 65.1h.9M299.4 41.8h.9M299.0 65.6h.9M291.0 55.6h.9M275.5 63.6h.9M292.0 64.8h.9M311.6 56.4h.9M307.8 60.5h.9M296.0 55.2h.9M289.5 70.8h.9M306.8 47.9h.9M306.4 50.7h.9M282.9 70.0h.9M285.2 69.8h.9M300.0 67.0h.9M303.1 69.5h.9M301.5 63.8h.9M300.5 69.0h.9M294.1 68.2h.9M313.1 57.4h.9M302.4 52.9h.9M295.1 60.6h.9M294.6 49.1h.9M297.7 59.9h.9M301.2 65.1h.9M280.3 72.1h.9M296.3 50.3h.9M294.3 62.4h.9M306.7 54.3h.9M299.6 42.0h.9" stroke="#5577f5" stroke-opacity="0.45" stroke-width="0.9" fill="none"/>
<path d="M291.0 61.3h.9M287.4 67.3h.9M300.8 68.2h.9M285.3 71.2h.9M288.0 61.8h.9M286.5 64.7h.9M293.3 62.9h.9M288.7 61.1h.9M287.6 67.8h.9M286.9 61.1h.9M288.7 57.5h.9M288.6 53.2h.9M292.4 65.2h.9M288.2 71.3h.9M285.1 65.3h.9M292.9 58.8h.9M288.6 67.3h.9M290.4 63.7h.9M298.4 63.3h.9M280.0 57.6h.9M295.0 61.2h.9M283.6 50.2h.9M291.9 71.0h.9M282.5 49.1h.9M293.0 58.8h.9M288.2 60.1h.9M284.6 64.6h.9M295.5 64.2h.9M286.7 68.2h.9M289.3 65.5h.9M284.4 65.9h.9M294.4 69.7h.9M290.2 64.6h.9M286.6 67.3h.9M294.6 68.4h.9M287.7 54.7h.9M289.6 60.8h.9M285.6 65.6h.9M295.6 64.4h.9M296.6 64.4h.9M284.2 58.5h.9M287.9 66.1h.9M295.5 62.8h.9M296.0 57.1h.9M289.3 70.9h.9M292.6 68.2h.9M278.8 52.1h.9M284.9 68.0h.9M299.6 58.3h.9M284.2 56.0h.9M284.7 65.3h.9M288.2 73.1h.9M294.3 58.0h.9M291.4 61.1h.9M294.7 67.4h.9M288.0 67.3h.9M293.4 61.5h.9M291.5 66.0h.9M288.1 58.0h.9M297.5 62.0h.9M286.5 64.7h.9M281.3 62.3h.9M282.0 59.5h.9M279.5 57.8h.9M295.3 60.9h.9M282.9 72.3h.9M286.3 70.8h.9M286.9 53.4h.9M300.9 59.5h.9M294.5 69.0h.9M282.3 62.5h.9M286.6 65.6h.9M290.0 54.6h.9M290.4 66.5h.9M288.3 65.3h.9M286.9 61.7h.9M292.1 62.9h.9M297.5 67.6h.9M295.0 66.3h.9M291.0 55.2h.9M296.3 72.3h.9M291.4 60.5h.9M289.8 69.1h.9M291.7 56.3h.9M289.0 57.5h.9M288.9 56.8h.9M284.9 70.8h.9M296.2 52.6h.9M284.3 59.4h.9M287.8 53.9h.9M295.3 52.6h.9M294.1 66.1h.9M287.9 58.2h.9M290.4 62.9h.9M277.7 54.7h.9M293.2 61.4h.9M287.6 56.2h.9M285.9 57.6h.9M306.4 54.7h.9M299.0 64.9h.9" stroke="#5577f5" stroke-opacity="0.5" stroke-width="0.9" fill="none"/>
<path d="M282.2,70.5 L290.0,53.5 L292.3,47.4 L297.7,44.0 L305.5,45.2 L313.8,42.2 L315.0,47.4 L312.8,56.8 L311.6,64.6 L304.4,67.4 L296.6,68.5 L286.7,70.0 Z" fill="#5575f5" fill-opacity="0.7" filter="url(#bl16)"/>
<path d="M283.5,69.8 L291.0,53.5 L293.3,47.8 L297.7,45.0 L305.5,46.0 L313.0,43.5 L314.0,47.4 L312.0,56.8 L310.8,64.2 L304.4,66.5 L296.6,67.5 L287.0,69.0 Z" fill="#2a4cf2" fill-opacity="0.95" filter="url(#bl10)"/>
<path d="M293.0,50.0 L298.0,47.5 L303.0,52.0 L311.0,61.0 L308.5,66.0 L296.6,67.0 L292.5,64.0 Z" fill="#2ec4ea" fill-opacity="1" filter="url(#bl9)"/>
<path d="M294.0,51.5 L298.0,49.0 L302.5,53.0 L310.0,61.3 L307.7,65.1 L296.6,66.2 L293.3,63.5 Z" fill="#44e23e" fill-opacity="1" filter="url(#bl8)"/>
<path d="M290.5,67.6 L296.6,63.8 L297.8,65.4 L291.8,68.8 Z" fill="#e6ee22" fill-opacity="1" filter="url(#bl6)"/>
<path d="M291.0,67.5 L296.4,64.2 L297.2,65.3 L291.6,68.4 Z" fill="#f22a14" fill-opacity="1" filter="url(#bl4)"/>
<line x1="301.5" y1="28.5" x2="301.5" y2="78.9" stroke="#b8c6c6" stroke-width="1" />
<line x1="280.4" y1="57.5" x2="330.6" y2="57.5" stroke="#b8c6c6" stroke-width="1" />
</g>
<rect x="280.4" y="28.5" width="50.2" height="50.4" fill="none" stroke="#111" stroke-width="1.3"/>
<path d="M279.1 32.1h1.3M279.1 35.7h1.3M279.1 39.3h1.3M279.1 42.9h1.3M279.1 46.5h1.3M279.1 50.1h1.3M279.1 53.7h1.3M279.1 57.3h1.3M279.1 60.9h1.3M279.1 64.5h1.3M279.1 68.1h1.3M279.1 71.7h1.3M279.1 75.3h1.3M284.0 78.9v1.3M287.6 78.9v1.3M291.2 78.9v1.3M294.7 78.9v1.3M298.3 78.9v1.3M301.9 78.9v1.3M305.5 78.9v1.3M309.1 78.9v1.3M312.7 78.9v1.3M316.3 78.9v1.3M319.8 78.9v1.3M323.4 78.9v1.3M327.0 78.9v1.3" stroke="#222" stroke-width="0.7"/>
<text x="282.4" y="35.9" font-size="6.6" class="q" textLength="12.2" lengthAdjust="spacingAndGlyphs">17.3</text>
<text x="329.3" y="35.9" font-size="6.6" class="q" text-anchor="end" textLength="12.2" lengthAdjust="spacingAndGlyphs">12.4</text>
<text x="282.4" y="77.1" font-size="6.6" class="q" textLength="12.2" lengthAdjust="spacingAndGlyphs">51.1</text>
<text x="329.3" y="77.1" font-size="6.6" class="q" text-anchor="end" textLength="12.2" lengthAdjust="spacingAndGlyphs">19.2</text>
<clipPath id="cp3"><rect x="336.4" y="28.6" width="50.6" height="50.3"/></clipPath>
<g clip-path="url(#cp3)">
<path d="M358.2 57.0h.9M352.4 70.8h.9M361.1 54.8h.9M354.9 57.0h.9M344.9 52.0h.9M350.0 61.1h.9M362.0 36.9h.9M353.9 64.7h.9M343.4 43.5h.9M365.9 53.8h.9M351.7 43.2h.9M357.7 49.6h.9M358.2 59.2h.9M363.0 51.9h.9M350.9 55.4h.9M355.1 56.8h.9M350.9 52.8h.9M350.4 49.3h.9M357.6 66.4h.9M350.8 60.8h.9M359.5 56.2h.9M362.7 49.6h.9M361.6 58.0h.9M321.9 58.6h.9M361.9 74.2h.9M345.7 56.0h.9M359.5 45.6h.9M367.8 59.5h.9M348.3 43.4h.9M352.0 78.3h.9M377.2 30.8h.9M338.3 61.6h.9M355.0 48.9h.9M362.0 56.0h.9M358.9 57.7h.9M345.4 68.0h.9M351.6 66.2h.9M362.9 55.5h.9M357.4 54.6h.9M338.0 51.9h.9M360.3 39.3h.9M341.5 65.7h.9M364.0 39.9h.9M360.6 54.6h.9M365.7 51.9h.9M353.9 47.7h.9M357.8 53.8h.9M349.6 51.7h.9M348.7 61.2h.9M345.9 39.8h.9M346.6 65.7h.9M351.1 61.4h.9M363.3 50.1h.9M363.5 60.0h.9M355.6 48.1h.9M355.5 42.4h.9M353.3 49.3h.9M360.4 58.4h.9M349.7 63.6h.9M367.8 55.7h.9M348.8 60.0h.9M332.0 49.3h.9M361.8 74.8h.9M348.8 70.1h.9M379.0 73.6h.9M332.8 65.9h.9M357.9 65.1h.9M354.3 49.0h.9M353.8 69.9h.9M364.3 52.2h.9M359.8 63.6h.9M361.7 54.6h.9M349.5 47.7h.9M351.7 49.6h.9M340.4 41.0h.9M364.7 44.0h.9M343.1 54.6h.9M370.4 67.5h.9M351.9 44.8h.9M350.7 46.0h.9M350.6 59.8h.9M345.5 47.3h.9M353.5 54.8h.9M348.4 47.2h.9M344.8 47.6h.9M361.2 52.6h.9M325.2 61.1h.9M355.3 46.4h.9M353.5 24.9h.9M339.6 66.6h.9M377.2 76.7h.9M348.7 55.4h.9M363.8 42.8h.9M373.4 47.8h.9M359.5 43.6h.9M359.7 54.9h.9M366.8 43.5h.9M355.9 73.1h.9M344.1 58.5h.9M360.4 50.1h.9M353.3 69.1h.9M367.4 60.7h.9M358.7 43.7h.9M356.9 72.9h.9M366.5 41.4h.9M335.3 48.4h.9M357.7 49.5h.9M352.9 58.4h.9M365.0 57.1h.9M368.5 40.8h.9M360.7 59.3h.9M341.1 67.5h.9M340.0 40.5h.9M382.7 68.0h.9M359.8 68.6h.9M367.5 43.7h.9M360.9 69.0h.9M354.4 55.7h.9M351.4 62.4h.9M350.5 49.1h.9M343.7 45.7h.9M358.2 59.7h.9M352.1 44.5h.9M359.4 58.6h.9M368.8 50.0h.9M351.9 60.2h.9M371.3 54.5h.9M355.2 45.6h.9M352.2 64.5h.9M364.6 66.2h.9M339.5 63.4h.9M346.7 61.0h.9M332.2 54.0h.9M347.1 67.8h.9M357.2 68.1h.9M351.6 74.8h.9M351.5 74.1h.9M351.1 45.1h.9M365.1 51.0h.9M355.4 41.5h.9M352.5 56.2h.9M348.9 59.0h.9M332.8 64.0h.9M351.9 69.9h.9M352.5 48.4h.9M351.5 57.8h.9M362.0 50.3h.9M348.0 59.4h.9M364.4 37.4h.9M345.4 48.2h.9M373.3 67.5h.9M364.1 60.0h.9M344.7 66.4h.9M351.5 47.0h.9M375.6 40.4h.9M370.0 57.1h.9M346.7 56.8h.9M347.5 56.9h.9M349.5 43.0h.9M382.9 49.9h.9M366.0 54.5h.9M362.9 42.2h.9M345.5 21.9h.9M366.2 59.5h.9M344.1 63.5h.9M362.0 84.7h.9M358.4 64.3h.9M362.2 62.8h.9M355.8 50.8h.9M363.2 67.5h.9M344.2 43.5h.9M355.6 73.3h.9M353.9 37.8h.9M364.2 62.7h.9M375.7 57.0h.9M376.0 47.7h.9M365.2 56.4h.9M344.0 52.2h.9M369.5 66.4h.9M352.2 66.3h.9M365.2 64.1h.9M359.0 58.1h.9M347.7 54.4h.9M357.3 47.6h.9M353.1 56.7h.9M358.2 65.7h.9M345.6 51.0h.9M358.8 51.2h.9M359.4 50.3h.9M368.0 52.7h.9M344.5 62.6h.9M372.9 35.6h.9M354.7 55.8h.9M366.5 70.2h.9M354.5 39.3h.9M362.8 65.2h.9M360.8 55.9h.9M347.8 79.7h.9M343.9 39.8h.9M365.9 58.0h.9M362.9 58.7h.9M373.1 69.5h.9M350.5 65.2h.9M344.2 37.8h.9M368.2 50.7h.9M334.4 54.9h.9M349.4 60.2h.9M355.5 47.3h.9M348.9 62.8h.9M346.7 56.4h.9M346.1 59.6h.9M374.1 60.8h.9M367.3 59.6h.9M346.3 52.0h.9M356.8 59.5h.9M350.0 61.3h.9M348.8 55.7h.9M356.0 43.4h.9M366.2 55.6h.9M357.2 54.7h.9" stroke="#5577f5" stroke-opacity="0.45" stroke-width="0.9" fill="none"/>
<path d="M337.2 58.4h.9M345.7 68.0h.9M348.0 66.5h.9M344.8 60.6h.9M348.7 68.3h.9M340.3 63.3h.9M354.9 64.6h.9M351.9 67.2h.9M354.1 60.0h.9M356.5 60.9h.9M349.6 69.9h.9M369.3 69.9h.9M355.1 60.9h.9M346.7 70.7h.9M354.4 58.4h.9M363.1 66.4h.9M361.4 65.7h.9M336.8 61.1h.9M351.0 63.3h.9M362.7 61.3h.9M351.4 63.8h.9M351.4 59.8h.9M343.4 53.6h.9M354.4 63.2h.9M353.5 59.8h.9M352.1 60.1h.9M344.9 65.4h.9M356.5 66.4h.9M351.7 62.5h.9M361.9 69.0h.9M347.6 59.6h.9M354.7 65.3h.9M345.6 73.2h.9M337.3 60.7h.9M353.8 68.0h.9M339.0 62.3h.9M362.2 69.7h.9M350.3 64.2h.9M345.8 65.6h.9M344.6 55.8h.9M341.3 64.2h.9M342.7 68.5h.9M361.1 68.0h.9M356.7 68.6h.9M353.9 67.5h.9M355.3 67.2h.9M344.9 61.4h.9M345.0 67.4h.9M355.6 60.8h.9M345.1 61.7h.9M358.2 63.6h.9M350.3 61.2h.9M351.2 70.5h.9M347.2 62.6h.9M364.0 66.9h.9M344.0 68.4h.9M343.1 66.3h.9M334.2 60.0h.9M358.5 61.6h.9M346.9 64.2h.9M352.1 62.1h.9M347.3 71.3h.9M362.6 65.4h.9M343.9 61.9h.9M350.0 66.0h.9M363.3 61.9h.9M353.1 62.3h.9M353.0 61.3h.9M354.7 68.7h.9M349.3 62.7h.9M352.9 58.7h.9M364.8 58.6h.9M349.5 60.5h.9M362.6 62.1h.9M348.5 71.6h.9M351.2 60.9h.9M352.0 64.8h.9M346.8 63.3h.9M350.6 66.9h.9M357.5 67.4h.9M351.2 67.2h.9M350.6 68.7h.9M354.9 62.3h.9M360.7 57.9h.9M345.2 60.8h.9M351.1 59.1h.9M343.6 56.4h.9M352.9 60.9h.9M367.5 67.1h.9M344.0 69.3h.9M352.8 68.4h.9M344.2 68.7h.9M359.8 62.4h.9M346.1 62.5h.9M353.9 73.7h.9M364.8 70.1h.9M350.5 62.7h.9M354.6 62.9h.9M348.8 63.2h.9M358.0 63.8h.9" stroke="#5577f5" stroke-opacity="0.5" stroke-width="0.9" fill="none"/>
<ellipse cx="354.0" cy="66.0" rx="10.0" ry="5.0" transform="rotate(-5 354.0 66.0)" fill="#5575f5" fill-opacity="0.6" filter="url(#bl18)"/>
<path d="M345.0,64.0 L356.0,61.5 L364.0,63.0 L364.0,71.0 L356.0,72.0 L345.0,70.0 Z" fill="#2a4cf2" fill-opacity="0.9" filter="url(#bl13)"/>
<ellipse cx="350.7" cy="66.0" rx="2.5" ry="1.3" transform="rotate(0 350.7 66.0)" fill="#2ec4ea" fill-opacity="1" filter="url(#bl7)"/>
<path d="M368.0,36.0 L373.0,36.0 L377.0,56.0 L376.0,74.0 L362.0,74.0 L360.0,66.0 L366.0,56.0 Z" fill="#5575f5" fill-opacity="0.65" filter="url(#bl16)"/>
<path d="M368.8,37.0 L372.5,37.0 L375.5,56.0 L375.0,72.5 L364.0,72.5 L361.5,66.5 L367.0,56.0 Z" fill="#2a4cf2" fill-opacity="1" filter="url(#bl10)"/>
<path d="M363.0,67.5 L372.7,53.5 L374.5,71.0 L364.8,71.2 Z" fill="#2ec4ea" fill-opacity="1" filter="url(#bl9)"/>
<path d="M363.7,67.4 L372.7,55.1 L373.9,70.4 L365.4,70.4 Z" fill="#44e23e" fill-opacity="1" filter="url(#bl8)"/>
<ellipse cx="370.3" cy="67.0" rx="3.3" ry="2.9" transform="rotate(0 370.3 67.0)" fill="#e6ee22" fill-opacity="1" filter="url(#bl6)"/>
<ellipse cx="370.5" cy="67.0" rx="2.5" ry="2.2" transform="rotate(0 370.5 67.0)" fill="#f22a14" fill-opacity="1" filter="url(#bl4)"/>
<line x1="360.5" y1="28.6" x2="360.5" y2="78.9" stroke="#b0c0c0" stroke-width="1" />
<line x1="336.4" y1="51.5" x2="387.0" y2="51.5" stroke="#b0c0c0" stroke-width="1" />
</g>
<rect x="336.4" y="28.6" width="50.6" height="50.3" fill="none" stroke="#111" stroke-width="1.3"/>
<path d="M335.1 32.2h1.3M335.1 35.8h1.3M335.1 39.4h1.3M335.1 43.0h1.3M335.1 46.6h1.3M335.1 50.2h1.3M335.1 53.8h1.3M335.1 57.3h1.3M335.1 60.9h1.3M335.1 64.5h1.3M335.1 68.1h1.3M335.1 71.7h1.3M335.1 75.3h1.3M340.0 78.9v1.3M343.6 78.9v1.3M347.2 78.9v1.3M350.9 78.9v1.3M354.5 78.9v1.3M358.1 78.9v1.3M361.7 78.9v1.3M365.3 78.9v1.3M368.9 78.9v1.3M372.5 78.9v1.3M376.2 78.9v1.3M379.8 78.9v1.3M383.4 78.9v1.3" stroke="#222" stroke-width="0.7"/>
<text x="338.4" y="36.0" font-size="6.6" class="q" textLength="15.7" lengthAdjust="spacingAndGlyphs">0.227</text>
<text x="385.7" y="36.0" font-size="6.6" class="q" text-anchor="end" textLength="12.2" lengthAdjust="spacingAndGlyphs">3.92</text>
<text x="338.4" y="77.1" font-size="6.6" class="q" textLength="12.2" lengthAdjust="spacingAndGlyphs">9.94</text>
<text x="385.7" y="77.1" font-size="6.6" class="q" text-anchor="end" textLength="12.2" lengthAdjust="spacingAndGlyphs">85.9</text>
<clipPath id="cp4"><rect x="392.5" y="28.6" width="50.3" height="50.3"/></clipPath>
<g clip-path="url(#cp4)">
<path d="M413.2 55.0h.9M411.7 53.3h.9M415.1 61.2h.9M417.9 59.3h.9M421.8 50.0h.9M409.6 54.5h.9M408.9 53.5h.9M407.9 52.3h.9M408.3 54.1h.9M414.4 48.6h.9M409.2 55.1h.9M405.3 53.0h.9M417.2 58.2h.9M410.4 61.8h.9M401.6 62.5h.9M426.1 56.6h.9M423.1 57.6h.9M425.4 48.3h.9M415.0 60.3h.9M409.5 46.9h.9M410.8 47.1h.9M413.4 56.0h.9M402.1 46.8h.9M412.5 58.0h.9M426.4 48.8h.9M411.9 57.0h.9M420.2 49.3h.9M406.4 51.2h.9M419.7 44.4h.9M412.5 57.1h.9M426.1 41.0h.9M417.2 51.7h.9M405.4 59.8h.9M417.3 62.0h.9M404.5 64.4h.9M408.0 52.5h.9M413.5 48.1h.9M402.4 70.1h.9M409.7 60.1h.9M405.7 63.4h.9M415.8 50.8h.9M404.8 65.8h.9M405.1 63.7h.9M401.4 69.2h.9M409.1 61.2h.9M405.9 60.7h.9M416.9 45.7h.9M417.8 49.0h.9M413.4 65.6h.9M407.9 60.7h.9M393.2 58.7h.9M405.2 58.6h.9M429.0 52.8h.9M407.7 57.1h.9M420.5 46.1h.9M400.3 63.2h.9M406.0 58.0h.9M409.6 46.1h.9M402.2 52.6h.9M415.3 60.0h.9M408.8 56.9h.9M414.3 55.5h.9M404.3 70.5h.9M422.8 58.7h.9M396.9 65.1h.9M409.4 66.9h.9M414.5 56.3h.9M409.9 66.3h.9M420.9 52.3h.9M416.9 56.7h.9M407.9 57.4h.9M398.9 70.4h.9M412.1 59.5h.9M409.1 57.2h.9M407.4 59.3h.9M410.7 64.1h.9M407.4 50.3h.9M417.0 48.3h.9M413.2 56.2h.9M409.5 58.8h.9M401.2 64.6h.9M417.8 55.5h.9M409.5 62.3h.9M409.5 51.5h.9M425.8 41.1h.9M404.0 54.5h.9M417.8 51.8h.9M404.3 73.2h.9M412.0 56.4h.9M416.0 49.6h.9M412.4 58.9h.9M407.5 67.7h.9M410.3 57.4h.9M404.3 68.5h.9M405.0 51.9h.9M407.8 55.1h.9M414.1 59.0h.9M413.2 59.5h.9M411.1 49.7h.9M404.3 53.6h.9M405.5 60.5h.9M419.1 53.1h.9M403.7 57.0h.9M406.4 55.0h.9M415.3 55.3h.9M421.9 56.1h.9M414.6 54.6h.9M399.9 46.7h.9M407.7 59.5h.9M413.8 50.9h.9M410.3 52.6h.9M415.4 56.5h.9M412.1 65.3h.9M403.2 60.8h.9M401.6 49.8h.9M407.4 52.6h.9M415.7 59.4h.9M404.4 64.1h.9M411.7 48.5h.9M412.2 63.0h.9M404.4 53.0h.9M415.0 57.3h.9M408.7 55.8h.9M415.1 52.1h.9M421.7 48.1h.9M400.8 70.0h.9M406.8 52.8h.9M405.5 44.1h.9M406.0 53.2h.9M400.5 66.8h.9M407.3 53.3h.9M408.9 61.0h.9M421.9 48.4h.9M421.4 60.4h.9M415.6 43.2h.9M417.3 43.2h.9M414.5 52.7h.9M416.0 51.8h.9M401.0 70.9h.9M415.1 60.5h.9M400.2 62.9h.9M410.5 41.9h.9M419.1 55.9h.9M413.9 63.7h.9M411.7 74.1h.9M416.3 53.6h.9M407.0 67.0h.9M424.9 37.5h.9M411.1 52.6h.9M412.4 53.6h.9M421.5 51.0h.9M421.9 44.3h.9M406.7 43.2h.9M412.0 48.0h.9M405.3 58.1h.9M413.0 58.2h.9M415.0 52.1h.9M413.5 43.9h.9M414.5 47.4h.9M406.3 59.9h.9M407.1 66.3h.9M417.3 38.9h.9M397.3 65.9h.9M415.9 55.2h.9M418.3 57.1h.9M419.7 58.2h.9M406.1 59.4h.9M407.1 51.6h.9M416.9 64.5h.9M407.6 51.2h.9M414.4 51.0h.9M406.9 65.4h.9M407.1 62.0h.9M411.6 57.8h.9M403.5 60.2h.9M418.6 56.9h.9M405.0 56.9h.9M406.2 63.7h.9M413.6 56.6h.9M402.5 56.1h.9M417.2 48.0h.9M413.3 39.7h.9M415.6 54.9h.9M401.4 40.7h.9M408.9 53.4h.9M412.7 53.9h.9M409.3 64.8h.9M402.8 65.7h.9M414.5 49.9h.9M418.2 47.0h.9M414.6 48.2h.9M408.3 56.0h.9M399.1 51.5h.9M413.1 55.3h.9M412.4 60.3h.9M414.1 48.3h.9M410.5 63.1h.9M408.3 47.0h.9M402.3 58.0h.9M414.4 46.1h.9M415.1 63.3h.9M410.8 58.3h.9M410.1 55.7h.9M412.6 61.4h.9M408.7 55.3h.9M421.2 57.7h.9M405.1 52.9h.9M394.2 69.9h.9M410.9 61.6h.9M403.4 70.0h.9M407.1 52.7h.9M398.4 59.3h.9M402.5 67.4h.9M414.7 48.3h.9M404.4 59.2h.9M406.4 55.3h.9M411.3 49.2h.9M401.2 65.0h.9M405.1 54.9h.9M417.7 53.3h.9" stroke="#5577f5" stroke-opacity="0.45" stroke-width="0.9" fill="none"/>
<path d="M403.2 72.4h.9M409.8 59.9h.9M402.9 70.1h.9M403.2 63.2h.9M399.1 60.5h.9M400.1 64.3h.9M402.0 69.8h.9M409.1 68.2h.9M395.4 70.4h.9M404.9 70.2h.9M408.4 62.6h.9M403.8 63.0h.9M402.5 65.3h.9M400.8 75.9h.9M411.2 67.9h.9M409.7 63.0h.9M404.2 58.9h.9M403.5 69.6h.9M400.6 62.2h.9M402.4 62.0h.9M408.0 68.6h.9M400.5 66.9h.9M406.6 63.5h.9M403.8 62.6h.9M399.2 60.4h.9M406.9 68.4h.9M401.1 67.5h.9M409.5 66.0h.9M406.8 59.9h.9M407.0 70.2h.9M404.0 66.9h.9M401.0 65.7h.9M394.6 71.5h.9M396.1 68.4h.9M404.5 70.7h.9M408.0 64.0h.9M400.6 63.1h.9M404.8 61.8h.9M406.4 67.5h.9M404.2 65.4h.9M403.8 70.0h.9M407.9 65.3h.9M406.7 57.0h.9M406.2 66.4h.9M406.5 64.9h.9M403.3 60.2h.9M406.9 67.9h.9M404.3 64.7h.9M404.1 58.7h.9M409.1 67.5h.9M402.5 63.8h.9M405.6 62.6h.9M402.6 67.5h.9M401.0 70.9h.9M400.1 66.8h.9M407.1 63.0h.9M408.4 67.5h.9M413.7 65.9h.9M405.0 68.6h.9M401.3 71.2h.9" stroke="#5577f5" stroke-opacity="0.5" stroke-width="0.9" fill="none"/>
<path d="M411.0,51.0 L419.0,54.0 L420.0,61.0 L413.0,67.0 L405.0,71.0 L401.0,68.5 L407.0,61.0 Z" fill="#5f7ef6" fill-opacity="0.6" filter="url(#bl16)"/>
<path d="M412.0,53.0 L418.0,55.0 L418.5,61.0 L412.5,66.0 L405.0,70.0 L402.0,68.0 L408.0,61.0 Z" fill="#2a4cf2" fill-opacity="0.85" filter="url(#bl11)"/>
<ellipse cx="404.4" cy="66.6" rx="4.2" ry="2.4" transform="rotate(-40 404.4 66.6)" fill="#2a4cf2" fill-opacity="1" filter="url(#bl9)"/>
<path d="M412.5,44.5 L426.0,41.0 L423.0,51.0 L419.5,57.0 L414.5,55.0 L412.5,50.6 Z" fill="#5575f5" fill-opacity="0.7" filter="url(#bl13)"/>
<path d="M413.5,45.0 L425.3,41.6 L422.5,50.6 L419.1,56.3 L415.2,54.0 L413.5,50.6 Z" fill="#2a4cf2" fill-opacity="1" filter="url(#bl9)"/>
<ellipse cx="419.0" cy="47.6" rx="5.6" ry="4.3" transform="rotate(-30 419.0 47.6)" fill="#2ec4ea" fill-opacity="1" filter="url(#bl9)"/>
<ellipse cx="419.0" cy="47.6" rx="4.8" ry="3.7" transform="rotate(-30 419.0 47.6)" fill="#44e23e" fill-opacity="1" filter="url(#bl8)"/>
<ellipse cx="418.7" cy="47.1" rx="1.9" ry="1.6" transform="rotate(-20 418.7 47.1)" fill="#e6ee22" fill-opacity="1" filter="url(#bl5)"/>
<ellipse cx="418.7" cy="47.1" rx="1.3" ry="1.1" transform="rotate(-20 418.7 47.1)" fill="#f22a14" fill-opacity="1" filter="url(#bl4)"/>
<line x1="414.5" y1="28.6" x2="414.5" y2="78.9" stroke="#909898" stroke-width="1" />
<line x1="392.5" y1="57.5" x2="442.8" y2="57.5" stroke="#909898" stroke-width="1" />
</g>
<rect x="392.5" y="28.6" width="50.3" height="50.3" fill="none" stroke="#111" stroke-width="1.3"/>
<path d="M391.2 32.2h1.3M391.2 35.8h1.3M391.2 39.4h1.3M391.2 43.0h1.3M391.2 46.6h1.3M391.2 50.2h1.3M391.2 53.8h1.3M391.2 57.3h1.3M391.2 60.9h1.3M391.2 64.5h1.3M391.2 68.1h1.3M391.2 71.7h1.3M391.2 75.3h1.3M396.1 78.9v1.3M399.7 78.9v1.3M403.3 78.9v1.3M406.9 78.9v1.3M410.5 78.9v1.3M414.1 78.9v1.3M417.6 78.9v1.3M421.2 78.9v1.3M424.8 78.9v1.3M428.4 78.9v1.3M432.0 78.9v1.3M435.6 78.9v1.3M439.2 78.9v1.3" stroke="#222" stroke-width="0.7"/>
<text x="394.5" y="36.0" font-size="6.6" class="q" textLength="12.2" lengthAdjust="spacingAndGlyphs">4.17</text>
<text x="441.5" y="36.0" font-size="6.6" class="q" text-anchor="end" textLength="12.2" lengthAdjust="spacingAndGlyphs">90.7</text>
<text x="394.5" y="77.1" font-size="6.6" class="q" textLength="12.2" lengthAdjust="spacingAndGlyphs">3.22</text>
<text x="441.5" y="77.1" font-size="6.6" class="q" text-anchor="end" textLength="12.2" lengthAdjust="spacingAndGlyphs">1.89</text>
<clipPath id="cp5"><rect x="449.2" y="28.5" width="50.2" height="50.4"/></clipPath>
<g clip-path="url(#cp5)">
<path d="M474.2 51.6h.9M463.1 66.7h.9M462.5 49.5h.9M477.5 45.6h.9M460.4 67.3h.9M459.1 74.2h.9M472.1 64.8h.9M473.6 68.5h.9M453.2 50.6h.9M463.4 59.3h.9M442.0 77.9h.9M452.9 41.2h.9M464.8 59.8h.9M473.3 62.3h.9M462.7 65.3h.9M459.9 41.2h.9M455.3 66.7h.9M456.0 69.6h.9M455.4 63.7h.9M459.7 65.8h.9M461.4 58.9h.9M454.6 69.2h.9M460.2 62.0h.9M469.6 48.5h.9M455.5 54.5h.9M474.9 48.0h.9M456.8 44.0h.9M461.9 44.4h.9M454.0 60.7h.9M453.4 54.4h.9M453.3 52.1h.9M471.8 36.3h.9M461.7 59.3h.9M460.7 59.4h.9M468.9 43.7h.9M459.1 63.5h.9M475.9 44.8h.9M461.2 40.8h.9M464.8 45.2h.9M452.0 63.0h.9M485.4 39.3h.9M477.4 50.4h.9M466.2 62.0h.9M472.2 57.1h.9M455.6 54.4h.9M470.6 48.8h.9M465.1 57.6h.9M463.3 57.3h.9M464.3 66.7h.9M460.7 52.4h.9M447.7 42.9h.9M448.1 60.9h.9M455.5 47.0h.9M463.2 68.6h.9M473.9 50.2h.9M460.7 68.8h.9M456.0 52.6h.9M454.2 47.4h.9M467.2 59.3h.9M460.7 50.1h.9M471.6 68.1h.9M446.0 77.5h.9M459.1 54.3h.9M459.7 49.7h.9M471.1 42.6h.9M463.1 53.4h.9M474.4 64.7h.9M463.8 63.4h.9M466.2 59.4h.9M441.6 56.3h.9M457.4 63.7h.9M465.9 51.6h.9M457.9 44.1h.9M464.5 56.3h.9M456.1 51.1h.9M466.6 50.5h.9M462.7 50.1h.9M441.5 52.4h.9M460.1 65.7h.9M474.2 51.8h.9M465.8 61.0h.9M460.2 65.9h.9M472.4 45.1h.9M473.9 58.0h.9M458.7 48.1h.9M463.4 44.4h.9M469.2 63.7h.9M452.6 63.8h.9M463.5 58.2h.9M469.7 57.9h.9M458.5 61.7h.9M451.1 40.2h.9M462.8 69.4h.9M448.8 53.5h.9M457.6 52.5h.9M462.3 74.1h.9M472.9 70.7h.9M466.5 59.7h.9M446.3 57.2h.9M455.9 42.5h.9M467.4 40.3h.9M474.0 67.0h.9M463.4 62.8h.9M463.6 58.1h.9M469.4 51.2h.9M463.6 59.2h.9M471.1 46.7h.9M464.2 56.0h.9M465.3 64.0h.9M462.1 62.2h.9M461.5 72.4h.9M462.8 63.2h.9M455.3 52.8h.9M464.9 69.7h.9M454.5 54.4h.9M459.7 56.9h.9M459.4 51.4h.9M461.1 58.1h.9M472.3 49.9h.9M452.2 63.3h.9M466.4 55.9h.9M450.0 65.7h.9M450.4 66.7h.9M464.3 55.8h.9M458.3 65.3h.9M467.0 38.4h.9M462.7 32.6h.9M462.4 67.6h.9M473.8 44.7h.9M473.2 80.7h.9M466.8 35.5h.9M452.2 66.2h.9M479.5 55.5h.9M450.4 42.8h.9M476.8 60.8h.9M457.1 31.7h.9M464.6 66.8h.9M458.8 53.8h.9M463.5 53.4h.9M459.3 49.6h.9M453.8 68.8h.9M462.1 68.6h.9M482.7 36.4h.9M458.7 66.9h.9M462.0 50.1h.9M466.5 52.1h.9M456.3 51.9h.9M462.3 57.1h.9M468.9 59.0h.9M449.6 88.3h.9M461.0 53.5h.9M462.8 49.1h.9M449.2 55.7h.9M478.5 40.5h.9M454.9 59.8h.9M455.2 61.1h.9M464.7 45.0h.9M461.8 50.9h.9M473.4 31.0h.9M461.3 71.9h.9M462.4 59.7h.9M456.9 59.3h.9M464.5 42.9h.9M459.4 29.7h.9M464.8 59.6h.9M469.7 61.9h.9M471.1 44.0h.9M449.1 46.9h.9M458.4 60.0h.9M461.4 54.8h.9M461.6 59.7h.9M462.6 60.7h.9M458.3 54.8h.9M453.7 41.9h.9M458.6 60.9h.9M460.1 40.3h.9M471.7 50.0h.9M451.4 43.0h.9M459.7 28.6h.9M454.1 74.0h.9M458.5 46.6h.9M470.6 60.2h.9M457.3 71.1h.9M453.0 53.8h.9M465.3 60.1h.9M455.5 44.5h.9M476.0 59.5h.9M456.8 67.8h.9M448.2 52.6h.9M444.3 68.0h.9M454.0 56.0h.9M454.5 56.3h.9M464.4 57.6h.9M458.8 58.9h.9M461.5 51.0h.9M464.4 67.3h.9M454.4 43.4h.9M455.1 58.4h.9M446.7 70.5h.9M461.8 58.6h.9M470.8 50.8h.9M463.7 62.0h.9M474.9 48.4h.9M471.0 66.1h.9M460.9 68.8h.9M460.6 54.4h.9M469.4 54.9h.9M466.4 73.8h.9M463.2 59.3h.9M459.6 45.9h.9M476.0 49.0h.9M461.8 60.3h.9M457.0 47.9h.9M450.5 78.0h.9M460.9 72.5h.9M474.8 71.9h.9M473.4 55.1h.9M452.6 71.0h.9M476.2 49.2h.9M470.0 62.6h.9M465.4 69.0h.9M478.5 54.4h.9M458.5 70.5h.9M458.5 62.4h.9M466.3 38.9h.9M455.3 65.4h.9M462.2 39.7h.9M457.9 57.2h.9M464.9 61.7h.9M469.1 47.1h.9M459.6 47.8h.9M457.4 61.0h.9M473.0 57.5h.9M467.1 71.2h.9M455.6 46.2h.9M467.2 42.9h.9M481.9 41.2h.9M450.4 63.0h.9M454.3 63.3h.9M451.5 66.4h.9" stroke="#5577f5" stroke-opacity="0.5" stroke-width="0.9" fill="none"/>
<path d="M465.8 53.7h.9M472.1 42.6h.9M464.6 41.4h.9M463.7 54.7h.9M468.0 54.4h.9M473.8 55.3h.9M471.0 48.0h.9M466.6 51.7h.9M471.6 55.6h.9M469.3 48.7h.9M467.8 58.4h.9M469.2 60.1h.9M465.3 54.5h.9M469.0 54.0h.9M465.1 51.8h.9M467.9 48.8h.9M463.4 43.1h.9M466.8 52.9h.9M469.2 51.4h.9M469.4 43.4h.9M472.4 50.5h.9M465.1 47.5h.9M472.1 51.1h.9M461.5 60.7h.9M462.2 58.7h.9M471.5 45.2h.9M473.1 56.5h.9M472.3 53.4h.9M469.4 51.3h.9M466.0 51.6h.9M473.2 49.7h.9M476.0 42.5h.9M468.3 42.8h.9M461.2 51.5h.9M466.9 47.4h.9M463.9 49.0h.9M461.7 49.2h.9M466.1 44.0h.9M469.8 40.9h.9M469.9 51.5h.9M470.3 50.9h.9M471.3 48.9h.9M463.8 52.1h.9M465.0 48.4h.9M468.6 45.6h.9M472.1 42.6h.9M473.0 50.0h.9M474.9 55.7h.9M470.9 51.7h.9M468.6 43.4h.9M465.9 45.5h.9M465.3 49.6h.9M465.0 50.9h.9M467.1 47.9h.9M469.7 52.5h.9M462.8 48.6h.9M479.8 50.3h.9M470.0 45.8h.9M472.1 57.9h.9M470.5 49.5h.9" stroke="#5577f5" stroke-opacity="0.5" stroke-width="0.9" fill="none"/>
<path d="M451.0,45.0 L470.0,38.0 L474.0,47.0 L470.0,56.0 L464.0,70.0 L461.0,79.5 L451.0,79.5 L450.0,60.0 Z" fill="#5f7ef6" fill-opacity="0.6" filter="url(#bl20)"/>
<path d="M452.0,48.0 L468.0,46.0 L470.0,52.0 L465.0,60.0 L461.0,70.0 L459.0,79.5 L451.0,79.5 L451.0,62.0 Z" fill="#2a4cf2" fill-opacity="0.75" filter="url(#bl16)"/>
<path d="M453.0,36.5 L460.4,33.5 L468.5,36.0 L472.0,44.0 L467.5,50.5 L459.3,51.5 L454.5,48.0 Z" fill="#2a4cf2" fill-opacity="1" filter="url(#bl12)"/>
<path d="M455.3,38.2 L460.4,35.9 L466.1,37.6 L467.2,43.8 L465.0,47.8 L459.3,48.9 L456.5,46.1 Z" fill="#2ec4ea" fill-opacity="1" filter="url(#bl8)"/>
<path d="M455.8,38.5 L460.4,36.5 L465.6,38.0 L466.5,43.6 L464.5,47.2 L459.5,48.2 L457.0,45.8 Z" fill="#44e23e" fill-opacity="1" filter="url(#bl7)"/>
<ellipse cx="459.9" cy="40.0" rx="2.8" ry="2.3" transform="rotate(0 459.9 40.0)" fill="#e6ee22" fill-opacity="1" filter="url(#bl6)"/>
<ellipse cx="459.9" cy="39.9" rx="2.0" ry="1.7" transform="rotate(0 459.9 39.9)" fill="#f22a14" fill-opacity="1" filter="url(#bl4)"/>
<line x1="476.5" y1="28.5" x2="476.5" y2="78.9" stroke="#b8c6c6" stroke-width="1" />
<line x1="449.2" y1="52.5" x2="499.4" y2="52.5" stroke="#b8c6c6" stroke-width="1" />
</g>
<rect x="449.2" y="28.5" width="50.2" height="50.4" fill="none" stroke="#111" stroke-width="1.3"/>
<path d="M447.9 32.1h1.3M447.9 35.7h1.3M447.9 39.3h1.3M447.9 42.9h1.3M447.9 46.5h1.3M447.9 50.1h1.3M447.9 53.7h1.3M447.9 57.3h1.3M447.9 60.9h1.3M447.9 64.5h1.3M447.9 68.1h1.3M447.9 71.7h1.3M447.9 75.3h1.3M452.8 78.9v1.3M456.4 78.9v1.3M460.0 78.9v1.3M463.5 78.9v1.3M467.1 78.9v1.3M470.7 78.9v1.3M474.3 78.9v1.3M477.9 78.9v1.3M481.5 78.9v1.3M485.1 78.9v1.3M488.6 78.9v1.3M492.2 78.9v1.3M495.8 78.9v1.3" stroke="#222" stroke-width="0.7"/>
<text x="451.2" y="35.9" font-size="6.6" class="q" textLength="12.2" lengthAdjust="spacingAndGlyphs">82.8</text>
<text x="498.1" y="35.9" font-size="6.6" class="q" text-anchor="end" textLength="19.2" lengthAdjust="spacingAndGlyphs">9.0909</text>
<text x="451.2" y="77.1" font-size="6.6" class="q" textLength="12.2" lengthAdjust="spacingAndGlyphs">17.1</text>
<text x="498.1" y="77.1" font-size="6.6" class="q" text-anchor="end" textLength="15.7" lengthAdjust="spacingAndGlyphs">0.013</text>
<clipPath id="cp6"><rect x="224.2" y="86.1" width="50.1" height="50.4"/></clipPath>
<g clip-path="url(#cp6)">
<path d="M240.6 95.6h.9M245.1 111.4h.9M243.5 118.1h.9M242.0 135.3h.9M247.7 107.9h.9M245.2 120.7h.9M240.6 128.4h.9M237.4 97.0h.9M231.8 118.3h.9M232.5 115.9h.9M228.3 118.2h.9M238.3 105.4h.9M235.9 111.7h.9M247.6 116.8h.9M238.7 116.0h.9M247.4 119.0h.9M254.3 107.2h.9M246.9 115.6h.9M235.3 120.3h.9M247.0 124.1h.9M244.2 105.7h.9M241.7 118.2h.9M253.6 115.6h.9M241.5 129.9h.9M240.8 110.0h.9M242.6 122.1h.9M241.5 97.8h.9M237.1 124.4h.9M234.5 122.9h.9M241.7 106.5h.9M246.7 93.1h.9M223.7 99.0h.9M244.5 111.7h.9M245.3 113.6h.9M241.4 109.2h.9M237.2 124.2h.9M246.4 101.2h.9M244.9 134.5h.9M246.3 105.1h.9M246.2 116.6h.9M237.8 124.0h.9M250.1 109.3h.9M241.3 110.5h.9M240.4 130.2h.9M236.9 120.1h.9M242.4 115.2h.9M231.4 120.6h.9M231.7 121.6h.9M239.6 115.8h.9M236.7 106.0h.9M232.2 114.5h.9M239.7 117.2h.9M238.1 122.1h.9M241.5 115.6h.9M238.4 114.2h.9M245.5 107.5h.9M230.8 118.2h.9M243.7 114.7h.9M242.2 101.6h.9M232.7 114.4h.9M240.1 102.2h.9M244.0 95.7h.9M250.1 104.0h.9M235.9 104.1h.9M229.7 111.3h.9M225.4 111.1h.9M241.6 111.5h.9M240.1 100.2h.9M225.7 101.3h.9M248.6 117.5h.9M226.2 131.2h.9M245.3 125.1h.9M248.3 127.2h.9M227.0 115.1h.9M234.2 133.4h.9M245.7 114.3h.9M238.3 93.6h.9M241.1 106.1h.9M251.0 121.7h.9M239.7 110.5h.9M249.0 109.1h.9M248.9 116.4h.9M238.0 118.0h.9M254.0 98.6h.9M246.2 121.6h.9M238.2 128.8h.9M245.6 119.7h.9M232.3 120.0h.9M230.1 119.3h.9M257.2 105.5h.9" stroke="#5577f5" stroke-opacity="0.4" stroke-width="0.9" fill="none"/>
<path d="M245.3 101.4h.9M238.0 105.9h.9M230.5 104.9h.9M233.9 102.6h.9M241.8 103.9h.9M239.7 104.1h.9M239.5 107.9h.9M238.3 103.4h.9M237.8 105.9h.9M239.9 98.8h.9M237.3 105.2h.9M250.5 102.6h.9M236.3 101.2h.9M237.3 99.7h.9M233.5 103.9h.9M230.2 103.4h.9M234.3 107.2h.9M245.5 109.3h.9M238.4 105.7h.9M249.4 102.5h.9M246.1 101.8h.9M242.9 100.2h.9M235.7 103.6h.9M236.4 99.3h.9M238.3 103.4h.9M245.0 105.5h.9M226.9 104.4h.9M242.9 103.8h.9M234.2 100.7h.9M235.8 101.8h.9M236.3 103.3h.9M244.0 101.6h.9M239.3 101.4h.9M239.0 106.6h.9M234.8 101.1h.9M237.8 104.1h.9M234.5 105.1h.9M238.0 105.8h.9M230.8 105.9h.9M243.9 102.0h.9M247.5 104.7h.9M231.2 101.4h.9M234.0 102.5h.9M236.5 104.8h.9M236.6 103.3h.9M232.9 99.0h.9M234.1 101.0h.9M242.0 98.1h.9M243.3 97.0h.9M236.7 104.1h.9M232.1 101.7h.9M242.0 101.4h.9M237.2 104.2h.9M240.9 100.9h.9M244.2 103.7h.9M242.7 100.6h.9M243.1 103.8h.9M241.5 102.5h.9M241.9 104.2h.9M228.2 110.3h.9M234.3 105.2h.9M236.7 102.9h.9M235.8 106.4h.9M242.3 106.4h.9M229.5 106.1h.9M230.2 109.8h.9M239.6 106.9h.9M237.6 104.4h.9M234.1 109.0h.9M236.0 106.8h.9" stroke="#5577f5" stroke-opacity="0.5" stroke-width="0.9" fill="none"/>
<path d="M234.4 120.4h.9M235.3 120.6h.9M235.0 124.3h.9M237.4 113.1h.9M235.2 114.6h.9M238.2 114.9h.9M237.0 121.9h.9M235.9 111.4h.9M239.4 120.4h.9M237.4 126.4h.9M234.1 116.2h.9M239.5 130.8h.9M234.4 120.7h.9M238.0 120.4h.9M238.7 124.2h.9M235.9 124.5h.9M235.1 127.5h.9M234.7 127.7h.9M241.1 112.4h.9M239.5 113.8h.9M235.9 130.3h.9M238.2 124.5h.9M236.8 122.0h.9M237.0 120.2h.9M235.5 115.0h.9M239.6 121.1h.9M239.9 124.9h.9M237.0 115.7h.9M235.6 121.4h.9M235.8 119.7h.9M231.5 119.1h.9M235.6 118.8h.9M235.4 113.4h.9M234.4 128.5h.9M234.2 118.5h.9M234.4 120.4h.9M235.0 131.2h.9M234.0 128.0h.9M235.1 123.4h.9M241.1 121.1h.9M236.1 106.8h.9M235.4 120.0h.9M236.3 122.4h.9M233.9 116.5h.9M237.6 119.8h.9M236.1 124.5h.9M236.3 122.0h.9M233.9 121.2h.9M232.7 130.1h.9M234.5 129.6h.9" stroke="#5577f5" stroke-opacity="0.5" stroke-width="0.9" fill="none"/>
<path d="M242.3 124.8h.9M253.1 125.5h.9M246.4 124.5h.9M243.7 123.6h.9M240.6 121.5h.9M244.4 123.5h.9M253.7 129.3h.9M256.7 122.7h.9M243.1 124.8h.9M236.1 128.2h.9M249.6 125.7h.9M256.9 126.1h.9M243.5 125.7h.9M242.5 126.1h.9M237.4 126.1h.9M243.5 124.2h.9M243.0 124.9h.9M234.8 126.3h.9M244.1 128.7h.9M245.2 127.0h.9M245.1 124.8h.9M238.0 124.2h.9M241.8 120.3h.9M243.5 123.7h.9M247.2 127.2h.9M243.5 127.5h.9M252.8 126.6h.9M243.3 125.3h.9M255.2 128.2h.9M252.2 121.6h.9M231.7 128.7h.9M249.6 127.8h.9M248.8 124.5h.9M248.1 125.0h.9M254.4 126.8h.9M239.6 123.6h.9M251.5 126.9h.9M247.1 125.8h.9M237.8 123.4h.9M248.5 121.4h.9" stroke="#5577f5" stroke-opacity="0.45" stroke-width="0.9" fill="none"/>
<ellipse cx="237.7" cy="104.2" rx="5.8" ry="3.0" transform="rotate(0 237.7 104.2)" fill="#5f7ef6" fill-opacity="0.6" filter="url(#bl13)"/>
<ellipse cx="237.7" cy="104.2" rx="4.4" ry="2.2" transform="rotate(0 237.7 104.2)" fill="#2a4cf2" fill-opacity="1" filter="url(#bl9)"/>
<ellipse cx="237.7" cy="104.2" rx="2.8" ry="1.5" transform="rotate(0 237.7 104.2)" fill="#2ec4ea" fill-opacity="1" filter="url(#bl6)"/>
<ellipse cx="237.7" cy="104.2" rx="2.3" ry="1.2" transform="rotate(0 237.7 104.2)" fill="#44e23e" fill-opacity="1" filter="url(#bl5)"/>
<ellipse cx="235.8" cy="119.0" rx="1.3" ry="5.0" transform="rotate(0 235.8 119.0)" fill="#4a6cf4" fill-opacity="0.8" filter="url(#bl8)"/>
<ellipse cx="236.5" cy="125.0" rx="7.5" ry="2.8" transform="rotate(-3 236.5 125.0)" fill="#5f7ef6" fill-opacity="0.65" filter="url(#bl12)"/>
<ellipse cx="235.6" cy="124.8" rx="5.2" ry="2.3" transform="rotate(-5 235.6 124.8)" fill="#2a4cf2" fill-opacity="1" filter="url(#bl9)"/>
<ellipse cx="235.5" cy="124.8" rx="3.4" ry="1.7" transform="rotate(-5 235.5 124.8)" fill="#2ec4ea" fill-opacity="1" filter="url(#bl6)"/>
<ellipse cx="235.5" cy="124.9" rx="2.8" ry="1.4" transform="rotate(-5 235.5 124.9)" fill="#44e23e" fill-opacity="1" filter="url(#bl5)"/>
<ellipse cx="235.4" cy="125.0" rx="1.4" ry="1.1" transform="rotate(0 235.4 125.0)" fill="#e6ee22" fill-opacity="1" filter="url(#bl4)"/>
<ellipse cx="235.4" cy="125.0" rx="1.0" ry="0.8" transform="rotate(0 235.4 125.0)" fill="#f22a14" fill-opacity="1" filter="url(#bl3)"/>
<ellipse cx="252.2" cy="124.6" rx="4.4" ry="2.4" transform="rotate(0 252.2 124.6)" fill="#5f7ef6" fill-opacity="0.7" filter="url(#bl11)"/>
<ellipse cx="252.2" cy="124.6" rx="3.5" ry="1.9" transform="rotate(0 252.2 124.6)" fill="#2a4cf2" fill-opacity="1" filter="url(#bl8)"/>
<ellipse cx="252.2" cy="124.6" rx="2.3" ry="1.3" transform="rotate(0 252.2 124.6)" fill="#44e23e" fill-opacity="1" filter="url(#bl5)"/>
<line x1="245.5" y1="86.1" x2="245.5" y2="136.5" stroke="#a8b6b6" stroke-width="1" />
<line x1="224.2" y1="115.5" x2="274.3" y2="115.5" stroke="#a8b6b6" stroke-width="1" />
</g>
<rect x="224.2" y="86.1" width="50.1" height="50.4" fill="none" stroke="#111" stroke-width="1.3"/>
<path d="M222.9 89.7h1.3M222.9 93.3h1.3M222.9 96.9h1.3M222.9 100.5h1.3M222.9 104.1h1.3M222.9 107.7h1.3M222.9 111.3h1.3M222.9 114.9h1.3M222.9 118.5h1.3M222.9 122.1h1.3M222.9 125.7h1.3M222.9 129.3h1.3M222.9 132.9h1.3M227.8 136.5v1.3M231.4 136.5v1.3M234.9 136.5v1.3M238.5 136.5v1.3M242.1 136.5v1.3M245.7 136.5v1.3M249.2 136.5v1.3M252.8 136.5v1.3M256.4 136.5v1.3M260.0 136.5v1.3M263.6 136.5v1.3M267.1 136.5v1.3M270.7 136.5v1.3" stroke="#222" stroke-width="0.7"/>
<text x="226.2" y="93.5" font-size="6.6" class="q" textLength="7.0" lengthAdjust="spacingAndGlyphs">29</text>
<text x="273.0" y="93.5" font-size="6.6" class="q" text-anchor="end" textLength="15.7" lengthAdjust="spacingAndGlyphs">0.169</text>
<text x="226.2" y="134.7" font-size="6.6" class="q" textLength="12.2" lengthAdjust="spacingAndGlyphs">53.4</text>
<text x="273.0" y="134.7" font-size="6.6" class="q" text-anchor="end" textLength="12.2" lengthAdjust="spacingAndGlyphs">17.4</text>
<clipPath id="cp7"><rect x="280.8" y="86.1" width="50.2" height="50.4"/></clipPath>
<g clip-path="url(#cp7)">
<path d="M307.5 118.8h.9M309.2 121.2h.9M321.8 116.2h.9M294.4 98.1h.9M280.0 114.4h.9M311.6 98.4h.9M304.4 107.1h.9M300.1 115.5h.9M303.0 102.8h.9M310.2 112.4h.9M283.8 120.6h.9M318.5 110.1h.9M318.8 99.3h.9M300.1 125.3h.9M315.8 118.3h.9M313.3 109.9h.9M309.9 122.3h.9M312.2 117.0h.9M311.1 117.5h.9M308.8 99.6h.9M308.7 105.1h.9M298.9 114.1h.9M305.2 101.7h.9M297.3 115.8h.9M298.5 113.8h.9M305.0 115.5h.9M297.2 115.2h.9M308.4 102.1h.9M310.5 104.5h.9M306.3 119.1h.9M309.1 102.9h.9M293.4 102.9h.9M308.4 114.8h.9M284.5 120.2h.9M314.5 108.8h.9M301.8 115.8h.9M292.4 109.7h.9M308.2 110.4h.9M302.5 114.5h.9M319.9 115.9h.9M306.0 109.2h.9M315.0 114.1h.9M302.3 125.4h.9M316.1 105.1h.9M299.4 125.1h.9M297.8 127.7h.9M301.0 131.1h.9M292.8 95.9h.9M288.0 131.4h.9M295.3 109.6h.9M296.8 106.8h.9M304.2 114.7h.9M296.3 108.7h.9M316.0 122.2h.9M312.5 124.7h.9M300.6 121.5h.9M319.1 106.0h.9M316.2 91.3h.9M283.4 100.2h.9M292.5 104.7h.9M297.6 120.9h.9M295.2 110.1h.9M289.5 99.0h.9M300.7 106.7h.9M311.4 114.5h.9M284.3 120.0h.9M290.4 109.8h.9M292.0 106.0h.9M296.4 102.7h.9M295.1 110.9h.9M309.7 119.8h.9M320.3 98.7h.9M298.5 124.3h.9M291.1 111.9h.9M309.7 127.3h.9M308.2 116.3h.9M300.8 119.0h.9M303.4 116.4h.9M295.9 112.2h.9M293.5 103.5h.9M293.9 105.7h.9M295.6 108.1h.9M287.1 116.1h.9M305.5 127.3h.9M278.7 100.5h.9M292.6 105.4h.9M302.9 105.6h.9M294.6 119.9h.9M300.5 98.7h.9M311.8 133.5h.9M313.6 111.8h.9M315.9 112.6h.9M298.8 115.5h.9M315.3 114.3h.9M299.3 100.8h.9M304.2 103.6h.9M301.3 100.8h.9M293.6 104.5h.9M295.6 103.0h.9M314.6 120.3h.9M299.0 103.9h.9M313.2 111.1h.9M308.0 122.3h.9M298.2 117.2h.9M306.8 109.4h.9M300.6 107.7h.9M268.3 109.7h.9M318.8 122.4h.9M329.5 113.9h.9M311.2 107.7h.9M294.8 105.4h.9M306.8 120.2h.9M283.2 119.6h.9M311.4 120.4h.9M289.5 115.0h.9M305.6 101.3h.9M290.9 133.1h.9M295.5 108.8h.9M282.8 107.7h.9M315.8 116.7h.9M293.8 113.6h.9M305.9 118.5h.9M292.3 116.6h.9M295.6 108.7h.9M293.7 106.0h.9M307.1 97.4h.9M304.2 137.6h.9M293.3 110.7h.9M301.5 127.2h.9M288.0 118.3h.9M301.3 130.8h.9M300.2 131.1h.9M292.6 116.4h.9M291.3 107.9h.9M289.8 109.6h.9M317.7 108.4h.9M326.8 127.7h.9M305.3 113.3h.9M305.3 106.4h.9M308.1 114.0h.9M282.7 113.5h.9M308.0 113.7h.9M305.3 113.2h.9M297.4 122.6h.9M316.2 110.5h.9M310.2 103.5h.9M314.6 105.8h.9M302.6 121.7h.9M297.2 113.6h.9M312.2 108.3h.9M305.6 123.0h.9M304.7 106.2h.9M298.3 110.9h.9M302.3 118.8h.9M286.8 112.5h.9M304.2 126.6h.9M287.7 105.3h.9M311.0 112.8h.9M313.0 112.8h.9M295.8 112.7h.9M314.4 119.6h.9M304.1 114.4h.9M312.8 118.7h.9M304.6 119.6h.9M303.2 103.3h.9M311.1 123.8h.9M315.9 112.6h.9M290.3 116.8h.9M296.4 96.6h.9M303.7 106.4h.9M302.9 108.9h.9M310.2 120.7h.9M307.1 123.6h.9M296.9 134.1h.9M285.2 119.7h.9M312.3 109.6h.9M303.4 102.6h.9M297.8 115.7h.9M289.7 95.9h.9M298.7 105.7h.9M292.7 111.7h.9M288.6 122.8h.9M313.5 113.4h.9M296.4 112.6h.9M301.1 106.2h.9M295.8 116.9h.9M293.3 107.5h.9M297.7 104.3h.9M304.7 101.9h.9M311.2 119.4h.9M301.8 120.6h.9M312.8 109.7h.9M301.6 107.8h.9M298.6 109.7h.9M302.9 117.6h.9M323.6 116.0h.9M311.3 111.1h.9M318.2 114.2h.9M300.4 110.7h.9M302.4 109.7h.9" stroke="#5577f5" stroke-opacity="0.45" stroke-width="0.9" fill="none"/>
<path d="M283.9 124.4h.9M293.2 107.2h.9M282.6 106.9h.9M288.8 104.4h.9M289.3 114.8h.9M287.5 121.0h.9M288.6 105.3h.9M290.2 103.2h.9M290.5 104.8h.9M297.0 106.5h.9M307.2 103.5h.9M299.6 103.5h.9M292.7 102.7h.9M288.2 115.2h.9M290.8 106.6h.9M289.1 103.9h.9M289.1 105.4h.9M286.8 118.0h.9M294.9 96.7h.9M285.3 116.5h.9M284.3 111.9h.9M290.1 100.6h.9M298.1 100.0h.9M298.8 92.7h.9M284.2 111.8h.9M290.6 105.8h.9M295.8 106.9h.9M286.8 106.2h.9M289.1 112.5h.9M284.7 119.3h.9M292.9 112.2h.9M305.7 106.8h.9M294.0 107.1h.9M297.9 118.8h.9M291.9 116.3h.9M298.3 111.6h.9M300.4 102.4h.9M288.0 120.7h.9M291.3 117.8h.9M281.8 107.7h.9M282.7 121.1h.9M289.7 117.3h.9M293.4 118.4h.9M287.4 103.0h.9M276.5 114.7h.9M294.1 102.6h.9M293.7 110.0h.9M283.7 119.6h.9M287.1 96.8h.9M290.5 109.7h.9M296.1 112.0h.9M285.5 124.5h.9M289.8 98.8h.9M287.8 108.5h.9M284.4 110.7h.9M282.4 117.4h.9M289.5 117.4h.9M290.1 113.5h.9M284.0 106.2h.9M277.4 116.2h.9M288.8 102.8h.9M279.6 125.2h.9M278.9 120.1h.9M280.5 129.3h.9M291.2 107.4h.9M292.0 107.8h.9M284.3 114.6h.9M284.7 116.5h.9M288.9 119.3h.9M292.5 122.5h.9M280.8 118.3h.9M274.7 114.1h.9M299.2 107.4h.9M302.6 102.1h.9M295.8 111.3h.9M289.5 109.8h.9M284.8 115.2h.9M290.0 111.2h.9M291.6 109.3h.9M283.4 113.2h.9" stroke="#5577f5" stroke-opacity="0.45" stroke-width="0.9" fill="none"/>
<path d="M283.0,122.0 L292.0,108.0 L290.5,102.5 L298.1,99.5 L313.5,104.5 L315.5,115.5 L313.5,122.0 L307.1,124.5 L300.3,123.5 L294.0,121.0 Z" fill="#6a88f6" fill-opacity="0.6" filter="url(#bl20)"/>
<path d="M291.8,103.5 L298.1,101.0 L312.5,105.5 L314.0,115.5 L312.3,121.0 L307.1,123.0 L300.3,122.3 L295.0,115.5 L292.8,108.7 Z" fill="#2a4cf2" fill-opacity="0.8" filter="url(#bl15)"/>
<ellipse cx="300.0" cy="112.0" rx="6.0" ry="6.0" transform="rotate(0 300.0 112.0)" fill="#2a4cf2" fill-opacity="1" filter="url(#bl15)"/>
<ellipse cx="290.8" cy="124.5" rx="11.5" ry="3.8" transform="rotate(-18 290.8 124.5)" fill="#5f7ef6" fill-opacity="0.7" filter="url(#bl12)"/>
<ellipse cx="290.8" cy="124.5" rx="10.2" ry="3.0" transform="rotate(-18 290.8 124.5)" fill="#2a4cf2" fill-opacity="1" filter="url(#bl8)"/>
<ellipse cx="290.5" cy="124.8" rx="6.8" ry="2.1" transform="rotate(-18 290.5 124.8)" fill="#2ec4ea" fill-opacity="1" filter="url(#bl7)"/>
<ellipse cx="290.5" cy="124.8" rx="5.5" ry="1.6" transform="rotate(-18 290.5 124.8)" fill="#44e23e" fill-opacity="1" filter="url(#bl6)"/>
<ellipse cx="291.3" cy="124.8" rx="1.9" ry="1.2" transform="rotate(-18 291.3 124.8)" fill="#e6ee22" fill-opacity="1" filter="url(#bl5)"/>
<ellipse cx="291.3" cy="124.8" rx="1.3" ry="0.9" transform="rotate(-18 291.3 124.8)" fill="#f22a14" fill-opacity="1" filter="url(#bl4)"/>
<line x1="303.5" y1="86.1" x2="303.5" y2="136.5" stroke="#98a8a8" stroke-width="1" />
<line x1="280.8" y1="115.5" x2="331.0" y2="115.5" stroke="#98a8a8" stroke-width="1" />
</g>
<rect x="280.8" y="86.1" width="50.2" height="50.4" fill="none" stroke="#111" stroke-width="1.3"/>
<path d="M279.5 89.7h1.3M279.5 93.3h1.3M279.5 96.9h1.3M279.5 100.5h1.3M279.5 104.1h1.3M279.5 107.7h1.3M279.5 111.3h1.3M279.5 114.9h1.3M279.5 118.5h1.3M279.5 122.1h1.3M279.5 125.7h1.3M279.5 129.3h1.3M279.5 132.9h1.3M284.4 136.5v1.3M288.0 136.5v1.3M291.6 136.5v1.3M295.1 136.5v1.3M298.7 136.5v1.3M302.3 136.5v1.3M305.9 136.5v1.3M309.5 136.5v1.3M313.1 136.5v1.3M316.7 136.5v1.3M320.2 136.5v1.3M323.8 136.5v1.3M327.4 136.5v1.3" stroke="#222" stroke-width="0.7"/>
<text x="282.8" y="93.5" font-size="6.4" class="q" textLength="10.5" lengthAdjust="spacingAndGlyphs">5.56</text>
<text x="329.7" y="93.5" font-size="6.4" class="q" text-anchor="end" textLength="10.5" lengthAdjust="spacingAndGlyphs">2.92</text>
<text x="282.8" y="134.7" font-size="6.4" class="q" textLength="10.5" lengthAdjust="spacingAndGlyphs">89.3</text>
<text x="329.7" y="134.7" font-size="6.4" class="q" text-anchor="end" textLength="10.5" lengthAdjust="spacingAndGlyphs">2.21</text>
<clipPath id="cp8"><rect x="337.1" y="86.1" width="49.9" height="50.4"/></clipPath>
<g clip-path="url(#cp8)">
<path d="M369.5 97.0h.9M370.8 123.0h.9M362.4 125.2h.9M337.5 124.2h.9M352.7 112.8h.9M350.8 135.7h.9M356.2 116.7h.9M345.0 106.4h.9M365.2 108.4h.9M352.6 125.5h.9M344.1 110.5h.9M358.8 105.7h.9M367.5 112.1h.9M358.7 116.6h.9M359.8 115.3h.9M374.2 112.2h.9M361.3 103.5h.9M375.7 119.9h.9M366.3 112.9h.9M351.8 110.5h.9M363.8 97.2h.9M350.5 108.4h.9M381.1 113.5h.9M345.2 123.2h.9M370.2 117.2h.9M354.8 108.4h.9M384.0 121.6h.9M409.6 90.2h.9M343.8 105.1h.9M350.9 102.5h.9M368.4 123.9h.9M345.5 115.8h.9M369.9 112.4h.9M375.2 122.1h.9M352.0 111.2h.9M363.6 96.9h.9M358.2 120.6h.9M364.9 110.0h.9M388.4 116.4h.9M371.0 100.5h.9M373.8 105.0h.9M358.8 105.3h.9M347.1 115.9h.9M347.5 118.7h.9M352.1 123.4h.9M364.3 122.3h.9M348.9 115.9h.9M368.7 112.8h.9M359.6 103.5h.9M325.9 115.2h.9M347.2 98.6h.9M364.8 81.3h.9M352.6 117.2h.9M361.1 107.5h.9M352.4 111.7h.9M344.3 103.8h.9M369.4 100.0h.9M359.4 105.8h.9M347.4 88.6h.9M351.4 101.5h.9M349.7 109.2h.9M364.1 116.6h.9M364.7 97.3h.9M375.8 113.6h.9M368.7 96.0h.9M372.5 134.5h.9M366.4 121.9h.9M354.6 111.6h.9M360.3 117.0h.9M362.6 112.8h.9M351.1 97.1h.9M360.7 137.1h.9M350.2 115.6h.9M375.3 103.0h.9M343.2 113.9h.9M360.4 100.6h.9M377.2 117.6h.9M360.8 95.1h.9M374.5 122.2h.9M369.9 127.5h.9M349.7 99.2h.9M370.3 114.8h.9M360.4 104.7h.9M372.0 112.7h.9M370.3 97.6h.9M361.6 114.5h.9M372.0 91.9h.9M358.7 102.9h.9M361.0 108.5h.9M365.5 118.5h.9M363.9 109.2h.9M370.5 125.2h.9M361.7 101.3h.9M380.1 119.9h.9M384.6 105.5h.9M356.8 108.1h.9M360.0 94.1h.9M370.1 93.8h.9M330.9 109.5h.9M349.4 112.8h.9M348.4 95.3h.9M338.7 96.3h.9M357.8 133.2h.9M368.3 103.0h.9M375.7 112.7h.9M340.6 90.9h.9M344.5 103.7h.9M361.4 103.3h.9M355.1 99.8h.9M362.9 118.6h.9M349.3 123.6h.9M351.8 106.9h.9M379.2 116.6h.9M361.5 89.1h.9M361.9 106.1h.9M358.6 122.0h.9M355.0 129.6h.9M361.5 111.8h.9M357.6 111.1h.9M375.8 112.7h.9M350.1 101.6h.9M373.8 116.0h.9M351.7 108.7h.9M362.1 116.3h.9M350.5 111.1h.9M346.8 101.6h.9M358.5 124.8h.9M360.0 128.2h.9M365.2 124.2h.9M359.3 90.4h.9M337.2 105.3h.9M380.4 108.3h.9M355.5 116.7h.9M357.0 105.9h.9M363.2 114.4h.9M354.6 101.2h.9M378.6 100.6h.9M351.2 108.0h.9M359.5 113.3h.9M378.1 124.3h.9M360.6 111.4h.9M371.7 108.7h.9M362.9 98.1h.9M365.4 109.1h.9M345.3 112.7h.9M385.3 113.8h.9M352.3 124.1h.9M364.9 112.1h.9M377.6 120.0h.9M383.9 101.3h.9M356.3 109.1h.9M363.2 97.1h.9M364.2 94.7h.9M354.8 107.3h.9M363.8 113.6h.9M352.7 113.8h.9M364.3 109.0h.9M361.3 104.5h.9M380.8 125.0h.9M363.8 124.5h.9M351.4 104.4h.9M357.4 114.9h.9M357.4 100.0h.9M344.6 98.0h.9M371.3 115.3h.9M345.6 130.4h.9M355.7 105.0h.9M359.2 110.5h.9M356.8 109.6h.9M369.5 120.0h.9M353.6 108.2h.9M352.8 105.2h.9M359.9 106.6h.9M367.5 99.9h.9M365.2 118.1h.9M357.6 106.5h.9M367.6 105.9h.9M357.4 112.3h.9M334.0 117.6h.9M363.7 116.4h.9M346.0 105.4h.9M365.8 116.1h.9M354.5 105.0h.9M377.7 112.9h.9M374.5 95.3h.9M365.7 104.0h.9M355.5 123.8h.9M349.5 99.7h.9M353.4 107.4h.9M361.3 114.6h.9M374.6 115.1h.9M380.3 121.6h.9M367.0 108.4h.9M376.0 106.7h.9M371.8 110.4h.9M354.9 117.2h.9M368.5 113.4h.9M372.9 111.3h.9M353.1 110.9h.9M381.4 99.5h.9M341.2 110.1h.9M349.9 124.6h.9M362.8 99.9h.9M360.4 99.8h.9M366.3 120.2h.9M374.2 121.5h.9M360.9 122.9h.9M366.4 96.1h.9M375.9 100.4h.9M354.6 93.1h.9M352.0 87.0h.9M347.6 100.9h.9M348.1 105.8h.9M369.7 106.6h.9M365.8 122.1h.9M354.4 126.1h.9M360.5 109.5h.9M364.9 124.8h.9M347.8 120.1h.9M355.8 111.0h.9M350.0 82.5h.9M373.8 118.3h.9M349.5 100.1h.9M347.9 109.6h.9M383.3 108.5h.9M342.5 118.0h.9M351.1 92.7h.9M365.2 109.9h.9M362.9 117.8h.9M371.4 87.3h.9M362.9 122.5h.9M374.5 98.7h.9M341.1 97.9h.9M365.3 107.8h.9M369.9 108.1h.9M347.2 97.9h.9M358.4 119.1h.9M377.1 99.1h.9M365.8 109.3h.9M348.4 97.1h.9" stroke="#5577f5" stroke-opacity="0.45" stroke-width="0.9" fill="none"/>
<path d="M374.4 101.8h.9M361.3 106.3h.9M364.9 107.4h.9M355.6 102.1h.9M364.0 105.7h.9M356.2 95.6h.9M368.9 108.2h.9M369.5 103.4h.9M347.7 102.0h.9M378.1 105.5h.9M364.0 95.9h.9M356.9 108.9h.9M364.7 103.4h.9M371.9 107.5h.9M366.3 103.2h.9M365.3 109.1h.9M364.5 97.8h.9M360.6 102.6h.9M365.3 110.3h.9M361.4 101.8h.9M367.9 106.3h.9M355.8 106.3h.9M363.5 105.7h.9M349.9 94.2h.9M350.1 95.6h.9M369.7 108.9h.9M351.8 111.3h.9M353.0 100.0h.9M379.2 97.6h.9M367.6 108.1h.9M370.8 107.3h.9M364.0 111.6h.9M361.4 104.5h.9M365.2 102.3h.9M360.9 110.0h.9M374.9 107.0h.9M361.2 101.6h.9M359.0 102.2h.9M358.5 103.6h.9M360.3 109.4h.9M350.8 102.0h.9M368.5 102.0h.9M358.8 106.8h.9M361.4 99.2h.9M363.2 107.2h.9M348.6 108.6h.9M348.4 107.5h.9M351.6 105.2h.9M361.7 109.1h.9M361.5 101.9h.9M356.1 105.1h.9M360.2 108.4h.9M365.4 110.2h.9M367.7 104.9h.9M361.6 107.1h.9M368.2 97.4h.9M365.3 102.3h.9M364.6 108.0h.9M346.9 103.5h.9M370.0 95.5h.9M363.9 104.1h.9M357.6 108.5h.9M369.4 104.2h.9M373.3 111.3h.9M363.7 108.2h.9M369.1 112.6h.9M368.5 107.5h.9M363.1 107.7h.9M374.7 103.7h.9M361.4 99.3h.9M382.5 102.2h.9M358.2 101.3h.9M371.6 105.9h.9M346.1 104.8h.9M376.7 103.9h.9M363.1 118.4h.9M360.3 103.1h.9M367.3 116.2h.9M365.7 96.1h.9M361.1 103.1h.9M368.2 102.4h.9M363.3 97.8h.9M352.2 104.5h.9M375.2 99.4h.9M349.7 110.0h.9M365.4 108.1h.9M360.9 105.4h.9M361.6 104.2h.9M376.5 102.2h.9M359.2 104.2h.9M360.9 112.6h.9M361.0 106.1h.9M352.6 106.9h.9M367.5 107.5h.9M349.6 101.1h.9M341.4 112.5h.9M361.5 112.3h.9M377.6 109.3h.9M357.3 103.1h.9M368.6 94.5h.9M373.3 111.5h.9M369.3 102.8h.9M365.2 96.3h.9M354.8 102.0h.9M356.3 112.5h.9M365.9 92.2h.9M371.5 106.7h.9M360.5 100.6h.9M378.8 105.4h.9M364.4 96.2h.9M357.7 108.7h.9M363.4 102.0h.9M359.9 96.3h.9M342.8 106.9h.9M350.8 96.4h.9M364.8 108.8h.9M359.5 109.7h.9M362.6 88.6h.9M375.2 98.8h.9M374.9 102.8h.9M361.7 101.8h.9M354.2 107.2h.9M375.6 110.6h.9M357.8 106.7h.9M370.6 107.1h.9M351.9 114.4h.9M356.4 100.0h.9M363.4 105.3h.9M357.8 97.6h.9M352.5 104.2h.9M347.3 109.8h.9M367.5 105.2h.9M363.9 99.8h.9M357.8 108.6h.9M358.2 112.1h.9M370.4 107.6h.9M360.4 99.5h.9M361.0 99.4h.9M359.3 102.4h.9M357.8 109.8h.9M355.2 100.4h.9M371.7 105.4h.9M366.2 101.0h.9M364.9 110.7h.9M362.4 106.3h.9M372.0 107.1h.9M372.1 98.2h.9M348.2 98.6h.9M365.7 100.8h.9M346.2 113.2h.9" stroke="#5577f5" stroke-opacity="0.5" stroke-width="0.9" fill="none"/>
<path d="M348.0,94.5 L375.0,94.5 L377.0,114.0 L348.0,116.0 Z" fill="#6a88f6" fill-opacity="0.45" filter="url(#bl22)"/>
<path d="M350.0,97.0 L373.5,96.5 L375.0,113.0 L350.0,114.0 Z" fill="#2a4cf2" fill-opacity="0.45" filter="url(#bl20)"/>
<path d="M350.0,107.0 L374.0,106.0 L375.0,115.0 L350.0,116.0 Z" fill="#2a4cf2" fill-opacity="0.7" filter="url(#bl18)"/>
<path d="M345.5,122.3 L350.0,114.5 L361.0,113.6 L372.5,116.2 L376.5,122.3 L374.5,130.0 L362.0,130.7 L347.5,129.5 Z" fill="#5f7ef6" fill-opacity="0.7" filter="url(#bl12)"/>
<path d="M346.7,122.3 L350.7,115.5 L360.9,114.6 L372.2,117.2 L375.0,122.3 L373.3,129.1 L362.0,129.7 L348.4,128.0 Z" fill="#2a4cf2" fill-opacity="1" filter="url(#bl9)"/>
<path d="M348.2,122.3 L351.5,116.8 L361.0,116.0 L371.5,118.5 L373.5,122.5 L372.0,127.7 L362.0,128.3 L349.5,126.8 Z" fill="#2ec4ea" fill-opacity="1" filter="url(#bl8)"/>
<path d="M349.0,122.3 L352.0,117.5 L361.0,117.0 L371.0,119.2 L372.8,122.6 L371.3,127.0 L362.0,127.5 L350.3,126.0 Z" fill="#44e23e" fill-opacity="1" filter="url(#bl7)"/>
<ellipse cx="354.7" cy="121.2" rx="3.9" ry="3.5" transform="rotate(-20 354.7 121.2)" fill="#e6ee22" fill-opacity="1" filter="url(#bl6)"/>
<ellipse cx="354.7" cy="121.1" rx="2.7" ry="2.5" transform="rotate(-20 354.7 121.1)" fill="#f22a14" fill-opacity="1" filter="url(#bl4)"/>
<line x1="361.5" y1="86.1" x2="361.5" y2="136.5" stroke="#707878" stroke-width="1" />
<line x1="337.1" y1="109.5" x2="387.0" y2="109.5" stroke="#707878" stroke-width="1" />
</g>
<rect x="337.1" y="86.1" width="49.9" height="50.4" fill="none" stroke="#111" stroke-width="1.3"/>
<path d="M335.8 89.7h1.3M335.8 93.3h1.3M335.8 96.9h1.3M335.8 100.5h1.3M335.8 104.1h1.3M335.8 107.7h1.3M335.8 111.3h1.3M335.8 114.9h1.3M335.8 118.5h1.3M335.8 122.1h1.3M335.8 125.7h1.3M335.8 129.3h1.3M335.8 132.9h1.3M340.7 136.5v1.3M344.2 136.5v1.3M347.8 136.5v1.3M351.4 136.5v1.3M354.9 136.5v1.3M358.5 136.5v1.3M362.1 136.5v1.3M365.6 136.5v1.3M369.2 136.5v1.3M372.7 136.5v1.3M376.3 136.5v1.3M379.9 136.5v1.3M383.4 136.5v1.3" stroke="#222" stroke-width="0.7"/>
<text x="339.1" y="93.5" font-size="6.4" class="q" textLength="10.5" lengthAdjust="spacingAndGlyphs">1.32</text>
<text x="385.7" y="93.5" font-size="6.4" class="q" text-anchor="end" textLength="10.5" lengthAdjust="spacingAndGlyphs">2.55</text>
<text x="339.1" y="134.7" font-size="6.4" class="q" textLength="10.5" lengthAdjust="spacingAndGlyphs">57.9</text>
<text x="385.7" y="134.7" font-size="6.4" class="q" text-anchor="end" textLength="10.5" lengthAdjust="spacingAndGlyphs">38.3</text>
<clipPath id="cp9"><rect x="393.3" y="86.1" width="50.1" height="50.4"/></clipPath>
<g clip-path="url(#cp9)">
<path d="M414.3 103.6h.9M401.3 112.6h.9M416.4 113.5h.9M418.2 122.8h.9M397.4 110.0h.9M409.1 113.7h.9M412.3 116.4h.9M409.1 132.9h.9M400.3 125.5h.9M416.3 117.9h.9M405.9 107.2h.9M400.2 105.6h.9M407.0 113.3h.9M410.6 138.8h.9M408.8 120.9h.9M417.2 107.1h.9M400.4 108.5h.9M400.6 112.9h.9M413.0 120.3h.9M419.2 123.4h.9M413.1 113.6h.9M389.7 128.6h.9M402.3 102.5h.9M404.9 109.5h.9M407.8 114.9h.9M407.3 115.1h.9M413.3 114.4h.9M410.5 123.8h.9M411.8 116.3h.9M429.6 116.6h.9M421.3 101.2h.9M414.6 115.2h.9M409.1 112.5h.9M421.0 117.6h.9M419.7 99.1h.9M407.8 106.5h.9M394.0 99.1h.9M413.1 92.2h.9M399.7 101.2h.9M401.3 108.7h.9M390.4 117.6h.9M407.2 114.4h.9M401.1 128.4h.9M400.8 107.9h.9M414.5 101.4h.9M419.4 123.3h.9M409.0 113.0h.9M412.6 106.1h.9M408.8 112.6h.9M411.2 121.2h.9M419.1 122.4h.9M403.5 102.3h.9M410.0 110.0h.9M413.3 122.0h.9M402.5 100.9h.9M420.7 102.8h.9M397.3 120.1h.9M405.7 103.8h.9M393.6 106.1h.9M407.8 109.0h.9M420.1 108.1h.9M407.2 108.6h.9M407.3 99.5h.9M413.7 115.9h.9M397.6 109.9h.9M426.8 120.7h.9M422.2 124.7h.9M410.9 110.4h.9M399.7 107.7h.9M411.5 105.4h.9M407.4 119.8h.9M407.9 106.4h.9M409.6 111.9h.9M409.2 112.4h.9M392.6 99.5h.9M412.4 125.3h.9M408.2 116.9h.9M407.1 104.0h.9M408.0 111.8h.9M414.9 116.3h.9M408.4 112.2h.9M415.7 110.0h.9M407.3 130.3h.9M408.5 107.6h.9M403.3 107.8h.9M401.5 103.2h.9M418.0 112.1h.9M405.9 122.6h.9M397.2 117.8h.9M407.0 123.9h.9M405.6 101.2h.9M413.1 116.5h.9M421.1 132.5h.9M407.2 131.3h.9M416.3 103.9h.9M409.1 128.1h.9M393.7 126.5h.9M400.2 121.2h.9M398.1 108.0h.9M419.2 119.1h.9M404.5 125.5h.9M405.7 108.8h.9M409.0 120.6h.9M414.3 106.3h.9M398.6 132.2h.9M400.3 98.6h.9M405.8 116.6h.9M409.0 117.6h.9M407.3 123.0h.9M394.2 130.6h.9M404.7 116.2h.9M420.9 120.0h.9M402.1 118.5h.9M402.9 119.6h.9M398.4 108.7h.9M417.9 110.7h.9M416.6 123.1h.9M401.2 125.2h.9M416.7 103.2h.9M399.0 113.0h.9M422.6 115.0h.9M416.3 118.7h.9M402.6 114.8h.9M408.5 103.2h.9M410.1 112.7h.9M404.9 119.8h.9M397.3 116.1h.9M389.4 115.4h.9M405.5 121.0h.9M401.6 105.2h.9M420.3 130.8h.9M411.6 116.4h.9M392.9 121.4h.9M407.5 98.2h.9M398.9 113.4h.9M411.4 118.8h.9M402.0 127.7h.9M387.2 121.2h.9M404.5 103.8h.9M400.4 114.6h.9M412.6 98.7h.9M426.0 122.6h.9M401.5 110.3h.9M402.7 107.0h.9M400.1 108.4h.9M390.1 110.5h.9M410.2 104.4h.9M407.6 127.3h.9M405.4 112.5h.9M403.8 117.8h.9M404.0 112.5h.9M411.8 120.2h.9M414.8 124.0h.9M408.5 101.7h.9M394.9 110.0h.9M407.9 122.8h.9M403.4 112.2h.9M396.2 98.2h.9M409.2 110.9h.9M410.7 108.4h.9M420.7 116.1h.9M409.8 119.4h.9M398.6 113.6h.9M400.3 118.1h.9M394.4 112.6h.9M398.4 104.9h.9M406.5 104.4h.9M404.9 113.0h.9M418.0 112.8h.9M403.3 111.0h.9M412.7 108.5h.9M402.5 120.2h.9M411.9 110.4h.9M417.1 123.8h.9M409.4 121.9h.9M427.8 117.6h.9M404.2 123.5h.9M423.0 129.8h.9M422.0 114.3h.9M418.8 111.6h.9M414.8 134.8h.9M402.3 128.0h.9M414.2 111.2h.9M414.4 108.5h.9M414.7 111.4h.9M409.5 124.5h.9M408.5 121.2h.9M403.2 121.0h.9M418.4 119.1h.9M398.4 115.8h.9M402.2 106.8h.9M425.9 127.2h.9M416.2 114.7h.9M406.5 122.1h.9M423.1 124.8h.9M413.4 124.3h.9M404.6 113.8h.9M407.3 118.0h.9M397.0 119.1h.9M407.0 93.6h.9M418.3 114.7h.9M401.2 110.7h.9M413.4 105.6h.9M409.0 110.8h.9M407.5 126.9h.9M407.0 104.0h.9M407.9 99.5h.9M405.5 126.5h.9M405.7 116.2h.9M412.0 98.1h.9M409.8 107.9h.9M407.7 111.9h.9M403.8 118.4h.9M402.8 118.8h.9M400.9 116.9h.9M401.0 103.5h.9M412.1 119.1h.9M414.5 119.8h.9M405.7 123.1h.9M394.3 93.1h.9" stroke="#5577f5" stroke-opacity="0.45" stroke-width="0.9" fill="none"/>
<path d="M412.0,107.0 L421.0,111.0 L420.0,120.0 L411.0,125.0 L403.0,130.0 L397.0,128.0 L405.0,120.0 Z" fill="#5f7ef6" fill-opacity="0.6" filter="url(#bl16)"/>
<path d="M413.0,108.5 L420.0,112.0 L419.0,119.5 L411.0,124.0 L404.0,128.0 L399.0,127.0 L406.0,120.0 Z" fill="#2a4cf2" fill-opacity="0.85" filter="url(#bl12)"/>
<path d="M413.6,103.5 L419.1,99.5 L428.5,98.0 L426.0,105.3 L421.8,111.5 L415.8,111.5 L413.6,107.6 Z" fill="#5f7ef6" fill-opacity="0.7" filter="url(#bl12)"/>
<path d="M414.6,103.7 L419.1,100.3 L427.6,99.1 L425.3,105.3 L421.4,110.4 L416.3,110.4 L414.6,107.6 Z" fill="#2a4cf2" fill-opacity="1" filter="url(#bl9)"/>
<ellipse cx="420.3" cy="105.3" rx="4.6" ry="3.6" transform="rotate(-30 420.3 105.3)" fill="#2ec4ea" fill-opacity="1" filter="url(#bl8)"/>
<ellipse cx="420.3" cy="105.3" rx="3.9" ry="3.0" transform="rotate(-30 420.3 105.3)" fill="#44e23e" fill-opacity="1" filter="url(#bl7)"/>
<ellipse cx="420.9" cy="105.0" rx="1.9" ry="1.6" transform="rotate(-20 420.9 105.0)" fill="#e6ee22" fill-opacity="1" filter="url(#bl5)"/>
<ellipse cx="420.9" cy="105.0" rx="1.3" ry="1.1" transform="rotate(-20 420.9 105.0)" fill="#f22a14" fill-opacity="1" filter="url(#bl4)"/>
<ellipse cx="403.9" cy="125.0" rx="7.2" ry="3.3" transform="rotate(-22 403.9 125.0)" fill="#5f7ef6" fill-opacity="0.7" filter="url(#bl11)"/>
<ellipse cx="403.9" cy="125.0" rx="6.2" ry="2.7" transform="rotate(-22 403.9 125.0)" fill="#2a4cf2" fill-opacity="1" filter="url(#bl8)"/>
<ellipse cx="404.5" cy="124.9" rx="2.9" ry="1.5" transform="rotate(-15 404.5 124.9)" fill="#2ec4ea" fill-opacity="1" filter="url(#bl5)"/>
<ellipse cx="404.5" cy="124.9" rx="2.4" ry="1.2" transform="rotate(-15 404.5 124.9)" fill="#44e23e" fill-opacity="1" filter="url(#bl4)"/>
<line x1="415.5" y1="86.1" x2="415.5" y2="136.5" stroke="#707878" stroke-width="1" />
<line x1="393.3" y1="115.5" x2="443.4" y2="115.5" stroke="#707878" stroke-width="1" />
</g>
<rect x="393.3" y="86.1" width="50.1" height="50.4" fill="none" stroke="#111" stroke-width="1.3"/>
<path d="M392.0 89.7h1.3M392.0 93.3h1.3M392.0 96.9h1.3M392.0 100.5h1.3M392.0 104.1h1.3M392.0 107.7h1.3M392.0 111.3h1.3M392.0 114.9h1.3M392.0 118.5h1.3M392.0 122.1h1.3M392.0 125.7h1.3M392.0 129.3h1.3M392.0 132.9h1.3M396.9 136.5v1.3M400.5 136.5v1.3M404.0 136.5v1.3M407.6 136.5v1.3M411.2 136.5v1.3M414.8 136.5v1.3M418.4 136.5v1.3M421.9 136.5v1.3M425.5 136.5v1.3M429.1 136.5v1.3M432.7 136.5v1.3M436.2 136.5v1.3M439.8 136.5v1.3" stroke="#222" stroke-width="0.7"/>
<text x="395.3" y="93.5" font-size="6.4" class="q" textLength="10.5" lengthAdjust="spacingAndGlyphs">2.15</text>
<text x="442.1" y="93.5" font-size="6.4" class="q" text-anchor="end" textLength="10.5" lengthAdjust="spacingAndGlyphs">81.4</text>
<text x="395.3" y="134.7" font-size="6.4" class="q" textLength="10.5" lengthAdjust="spacingAndGlyphs">15.7</text>
<text x="442.1" y="134.7" font-size="6.4" class="q" text-anchor="end" textLength="13.5" lengthAdjust="spacingAndGlyphs">0.792</text>
<clipPath id="cp10"><rect x="449.8" y="86.1" width="49.6" height="50.4"/></clipPath>
<g clip-path="url(#cp10)">
<path d="M468.7 125.5h.9M464.0 118.4h.9M462.5 117.0h.9M452.7 116.6h.9M457.6 146.0h.9M465.3 119.8h.9M471.8 119.4h.9M455.8 104.4h.9M463.4 137.9h.9M471.0 121.6h.9M453.7 118.4h.9M462.5 109.8h.9M469.9 105.7h.9M455.1 109.7h.9M473.6 127.4h.9M466.0 116.7h.9M465.5 126.4h.9M473.2 133.1h.9M460.3 115.7h.9M450.6 103.5h.9M466.8 117.9h.9M445.9 114.8h.9M454.4 119.9h.9M460.2 129.0h.9M470.4 106.7h.9M459.2 108.4h.9M469.2 102.4h.9M458.2 121.4h.9M471.4 144.8h.9M461.6 116.5h.9M456.2 121.5h.9M457.4 116.9h.9M469.1 108.1h.9M464.4 110.4h.9M468.4 106.6h.9M455.5 120.0h.9M472.1 108.6h.9M456.7 120.4h.9M460.1 123.3h.9M460.6 123.6h.9M473.8 118.0h.9M477.6 113.6h.9M485.1 120.5h.9M466.1 125.8h.9M457.6 119.3h.9M459.7 111.4h.9M466.3 115.6h.9M483.7 115.5h.9M459.1 113.1h.9M456.7 114.3h.9M458.6 121.2h.9M452.3 121.2h.9M465.2 110.6h.9M453.1 118.5h.9M467.2 107.3h.9M468.1 96.4h.9M461.1 126.7h.9M473.8 110.0h.9M450.1 122.8h.9M453.8 115.9h.9M458.4 114.3h.9M464.7 119.2h.9M453.2 103.7h.9M449.9 96.0h.9M462.8 113.8h.9M467.5 140.0h.9M483.9 121.9h.9M463.6 112.6h.9M476.0 129.8h.9M462.9 116.9h.9M459.4 119.8h.9M466.3 106.2h.9M473.2 114.2h.9M482.6 109.5h.9M469.2 103.6h.9M483.6 107.7h.9M471.2 131.1h.9M459.5 106.5h.9M471.9 119.8h.9M462.0 113.9h.9M460.2 139.5h.9M462.8 122.9h.9M457.0 113.9h.9M462.2 108.9h.9M463.7 99.8h.9M474.9 125.3h.9M462.1 121.7h.9M468.7 110.4h.9M461.8 117.2h.9M481.5 98.6h.9M460.9 114.8h.9M455.6 112.3h.9M460.2 122.1h.9M481.6 126.6h.9M449.7 115.2h.9M459.4 109.6h.9M457.4 119.4h.9M456.0 113.1h.9M462.3 110.2h.9M464.0 121.8h.9M471.1 116.4h.9M473.7 114.3h.9M460.4 137.1h.9M490.6 112.1h.9M482.4 120.2h.9M464.2 125.2h.9M456.4 116.0h.9M469.4 116.1h.9M452.4 108.6h.9M470.8 114.3h.9M461.3 109.6h.9M458.3 120.9h.9M456.2 136.6h.9M470.2 127.2h.9M469.2 108.7h.9M463.0 106.0h.9M464.2 133.4h.9M456.6 113.6h.9M468.4 116.0h.9M465.8 102.6h.9M457.3 109.8h.9M463.5 115.4h.9M448.7 107.1h.9M458.8 132.0h.9M456.4 110.1h.9M460.4 107.5h.9M476.1 121.2h.9M462.1 112.8h.9M452.9 130.2h.9M481.3 110.5h.9M464.4 127.2h.9M455.6 109.1h.9M466.8 123.5h.9M455.6 135.0h.9M477.1 110.4h.9M453.9 107.8h.9M467.4 113.1h.9M481.8 125.9h.9M475.2 113.9h.9M457.1 137.4h.9M458.5 115.9h.9M475.3 117.2h.9M454.9 119.7h.9M461.7 117.9h.9M463.0 136.0h.9M466.9 124.1h.9M483.6 131.8h.9M466.7 108.4h.9M465.6 127.3h.9M470.2 98.0h.9M476.8 104.5h.9M461.1 115.0h.9M468.3 113.6h.9M459.8 110.2h.9M477.8 114.5h.9M475.0 136.4h.9M476.6 126.8h.9M463.4 120.3h.9M467.9 126.1h.9M458.6 102.1h.9M468.1 113.5h.9M471.5 125.1h.9M465.8 124.6h.9M464.5 117.1h.9M460.3 119.3h.9M466.3 126.1h.9M449.8 133.1h.9M459.0 109.3h.9M470.7 114.1h.9M475.8 127.0h.9M458.6 103.3h.9M452.2 124.6h.9M466.1 141.7h.9M455.2 103.0h.9M445.3 123.0h.9M448.5 132.9h.9M451.3 135.8h.9M466.6 129.7h.9M453.5 119.2h.9M465.3 99.2h.9M477.2 127.4h.9M456.3 121.1h.9M485.0 123.3h.9M476.9 109.8h.9M461.2 118.1h.9M466.0 126.7h.9M474.0 118.6h.9M463.5 127.8h.9M469.9 117.8h.9M472.5 109.2h.9M471.3 126.9h.9M463.5 128.9h.9M478.1 127.6h.9M472.1 107.2h.9M476.5 106.0h.9M454.4 120.9h.9M457.8 111.8h.9M475.1 118.0h.9M462.9 103.4h.9M481.4 113.9h.9" stroke="#5577f5" stroke-opacity="0.45" stroke-width="0.9" fill="none"/>
<ellipse cx="458.7" cy="99.6" rx="5.5" ry="5.0" transform="rotate(0 458.7 99.6)" fill="#5f7ef6" fill-opacity="0.7" filter="url(#bl13)"/>
<ellipse cx="458.7" cy="99.6" rx="4.3" ry="3.9" transform="rotate(0 458.7 99.6)" fill="#2a4cf2" fill-opacity="1" filter="url(#bl9)"/>
<ellipse cx="459.0" cy="100.0" rx="1.6" ry="1.6" transform="rotate(0 459.0 100.0)" fill="#2ec4ea" fill-opacity="1" filter="url(#bl6)"/>
<ellipse cx="459.0" cy="111.0" rx="2.3" ry="7.0" transform="rotate(0 459.0 111.0)" fill="#4a6cf4" fill-opacity="0.6" filter="url(#bl13)"/>
<ellipse cx="470.0" cy="118.5" rx="16.0" ry="3.4" transform="rotate(-33 470.0 118.5)" fill="#5f7ef6" fill-opacity="0.65" filter="url(#bl13)"/>
<ellipse cx="467.0" cy="120.5" rx="11.0" ry="2.8" transform="rotate(-33 467.0 120.5)" fill="#2a4cf2" fill-opacity="0.9" filter="url(#bl10)"/>
<ellipse cx="457.2" cy="129.5" rx="7.5" ry="9.0" transform="rotate(0 457.2 129.5)" fill="#5f7ef6" fill-opacity="0.7" filter="url(#bl13)"/>
<ellipse cx="457.0" cy="130.0" rx="6.2" ry="7.8" transform="rotate(0 457.0 130.0)" fill="#2a4cf2" fill-opacity="1" filter="url(#bl9)"/>
<ellipse cx="457.0" cy="130.5" rx="4.5" ry="5.5" transform="rotate(0 457.0 130.5)" fill="#2ec4ea" fill-opacity="1" filter="url(#bl8)"/>
<ellipse cx="457.0" cy="130.5" rx="3.9" ry="4.9" transform="rotate(0 457.0 130.5)" fill="#44e23e" fill-opacity="1" filter="url(#bl7)"/>
<ellipse cx="458.0" cy="130.8" rx="1.7" ry="2.5" transform="rotate(0 458.0 130.8)" fill="#e6ee22" fill-opacity="1" filter="url(#bl5)"/>
<ellipse cx="458.0" cy="130.8" rx="1.1" ry="1.8" transform="rotate(0 458.0 130.8)" fill="#f22a14" fill-opacity="1" filter="url(#bl4)"/>
<line x1="477.5" y1="86.1" x2="477.5" y2="136.5" stroke="#c8d2d2" stroke-width="1" />
<line x1="449.8" y1="109.5" x2="499.4" y2="109.5" stroke="#c8d2d2" stroke-width="1" />
</g>
<rect x="449.8" y="86.1" width="49.6" height="50.4" fill="none" stroke="#111" stroke-width="1.3"/>
<path d="M448.5 89.7h1.3M448.5 93.3h1.3M448.5 96.9h1.3M448.5 100.5h1.3M448.5 104.1h1.3M448.5 107.7h1.3M448.5 111.3h1.3M448.5 114.9h1.3M448.5 118.5h1.3M448.5 122.1h1.3M448.5 125.7h1.3M448.5 129.3h1.3M448.5 132.9h1.3M453.3 136.5v1.3M456.9 136.5v1.3M460.4 136.5v1.3M464.0 136.5v1.3M467.5 136.5v1.3M471.1 136.5v1.3M474.6 136.5v1.3M478.1 136.5v1.3M481.7 136.5v1.3M485.2 136.5v1.3M488.8 136.5v1.3M492.3 136.5v1.3M495.9 136.5v1.3" stroke="#222" stroke-width="0.7"/>
<line x1="449.8" y1="110.1" x2="499.4" y2="110.1" stroke="#8a9090" stroke-width="1" />
<text x="451.8" y="93.5" font-size="6.4" class="q" textLength="10.5" lengthAdjust="spacingAndGlyphs">6.43</text>
<text x="498.1" y="93.5" font-size="6.4" class="q" text-anchor="end" textLength="16.4" lengthAdjust="spacingAndGlyphs">0.0129</text>
<text x="451.8" y="134.7" font-size="6.4" class="q" textLength="10.5" lengthAdjust="spacingAndGlyphs">93.4</text>
<text x="498.1" y="134.7" font-size="6.4" class="q" text-anchor="end" textLength="13.5" lengthAdjust="spacingAndGlyphs">0.126</text>
<text x="11.2" y="174.2" font-size="11.8" class="q" font-weight="bold">C</text>
<text x="45.3" y="170.8" font-size="9.2" textLength="33.5" lengthAdjust="spacingAndGlyphs">C57Bl/J</text>
<text x="103.3" y="171.3" font-size="9" textLength="39.0" lengthAdjust="spacingAndGlyphs">DP Tumor</text>
<text x="15.5" y="201.5" font-size="10.2" textLength="12.5" lengthAdjust="spacingAndGlyphs">Thy</text>
<text x="14.5" y="260.5" font-size="10.2" textLength="13.5" lengthAdjust="spacingAndGlyphs">Spn</text>
<text x="36.6" y="283.8" font-size="8.5" class="q" textLength="15.0" lengthAdjust="spacingAndGlyphs" transform="rotate(-90 36.6 283.8)">CD4</text>
<path d="M32.3,289 V295.2 H38" stroke="#111" stroke-width="1.2" fill="none"/>
<path d="M30.3,289.5 L32.3,285.8 L34.3,289.5 Z M37.5,293.2 L41.2,295.2 L37.5,297.2 Z" fill="#111"/>
<text x="43.3" y="297.1" font-size="8.2" class="q" textLength="14.4" lengthAdjust="spacingAndGlyphs">CD8</text>
<clipPath id="cp11"><rect x="38.2" y="174.7" width="51.3" height="50.5"/></clipPath>
<g clip-path="url(#cp11)">
<path d="M66.7 208.4h.9M60.4 209.6h.9M57.3 213.7h.9M62.2 186.6h.9M57.7 202.1h.9M62.4 204.7h.9M61.6 207.4h.9M57.4 206.7h.9M65.8 198.6h.9M48.0 200.5h.9M60.4 212.2h.9M66.5 207.9h.9M69.2 201.6h.9M53.3 212.0h.9M52.3 200.1h.9M56.5 191.6h.9M78.7 195.0h.9M72.8 203.9h.9M59.6 188.9h.9M59.8 208.2h.9M66.3 197.7h.9M70.2 208.5h.9M61.9 208.7h.9M64.6 202.1h.9M64.3 198.6h.9M64.3 196.5h.9M52.4 195.3h.9M60.9 197.7h.9M59.6 198.3h.9M55.6 216.2h.9M61.6 210.8h.9M64.2 211.9h.9M60.5 210.4h.9M67.5 204.5h.9M58.3 202.4h.9M58.5 206.5h.9M58.3 199.0h.9M60.3 207.3h.9M63.4 191.9h.9M56.2 208.8h.9M55.2 211.8h.9M57.4 200.1h.9M62.1 213.6h.9M54.2 213.3h.9M60.2 206.5h.9M69.5 213.6h.9M58.9 202.2h.9M51.2 209.3h.9M57.4 217.8h.9M67.9 206.2h.9M57.0 199.4h.9M68.5 205.2h.9M64.2 215.0h.9M69.1 208.6h.9M68.1 195.5h.9M62.2 204.3h.9M70.8 192.5h.9M51.9 219.4h.9M62.4 200.1h.9M61.1 202.5h.9M56.3 206.9h.9M58.8 212.3h.9M74.4 214.5h.9M58.4 214.9h.9M46.3 213.3h.9M54.0 197.1h.9M64.1 193.6h.9M55.6 203.0h.9M66.5 194.0h.9M39.0 201.1h.9M48.5 201.9h.9M61.0 210.2h.9M58.1 197.5h.9M80.3 209.8h.9M57.0 191.2h.9M53.8 215.3h.9M67.0 198.3h.9M52.8 195.4h.9M59.2 205.3h.9M60.3 212.6h.9M55.6 188.7h.9M57.9 207.4h.9M55.8 203.9h.9M56.4 211.5h.9M59.9 199.3h.9M60.7 211.8h.9M56.2 200.9h.9M58.4 193.2h.9M77.4 204.5h.9M58.9 200.0h.9M55.1 200.3h.9M58.5 205.8h.9M60.3 191.5h.9M57.3 208.1h.9M68.5 205.6h.9M60.3 197.1h.9M71.3 202.3h.9M56.9 201.6h.9M58.4 203.2h.9M58.2 216.7h.9M62.2 207.5h.9M44.6 216.1h.9M61.1 211.0h.9M58.2 201.8h.9M58.1 201.1h.9M55.4 208.1h.9M67.1 205.4h.9M55.9 208.7h.9M57.2 206.8h.9M52.1 212.1h.9M55.6 206.3h.9M70.1 210.2h.9M56.4 208.1h.9M75.9 190.5h.9M58.0 201.2h.9M69.7 194.2h.9M65.1 205.6h.9M66.5 197.0h.9M61.4 225.6h.9M59.3 208.0h.9M60.9 179.8h.9M60.2 201.4h.9M64.3 205.3h.9M57.5 183.5h.9M64.6 213.1h.9M59.9 201.1h.9M66.0 201.0h.9M48.3 209.5h.9M52.1 196.9h.9M67.2 209.8h.9M63.1 216.9h.9M65.4 192.8h.9M54.9 182.7h.9M68.8 194.3h.9M59.0 203.7h.9M62.4 203.9h.9M67.5 208.8h.9M67.3 205.2h.9M59.8 204.6h.9M61.1 210.3h.9M55.2 206.7h.9M85.5 189.8h.9M64.6 203.9h.9M60.3 198.3h.9M51.7 202.3h.9M51.0 213.4h.9M57.4 217.1h.9M64.8 192.8h.9M62.3 205.8h.9M72.2 187.3h.9M56.6 214.4h.9M66.2 188.1h.9M61.5 207.9h.9M67.7 210.8h.9M50.3 209.7h.9M61.4 214.0h.9M56.1 210.6h.9M50.0 188.1h.9M59.7 216.8h.9M63.4 205.9h.9M60.2 199.7h.9M72.3 192.5h.9M57.8 215.3h.9M55.3 182.4h.9M53.6 200.9h.9M65.2 200.3h.9M66.7 201.2h.9M46.7 207.1h.9M61.9 198.3h.9M56.2 180.2h.9M51.1 206.2h.9M57.8 190.9h.9M53.3 205.9h.9M60.6 213.9h.9M50.2 212.5h.9M69.4 210.4h.9M62.4 218.4h.9M65.0 197.7h.9M62.6 207.4h.9M57.5 224.9h.9M61.1 201.6h.9M68.2 206.6h.9M51.0 202.8h.9M71.2 193.4h.9M66.1 222.0h.9M52.0 202.5h.9M61.2 208.5h.9M60.0 209.4h.9M55.7 199.6h.9M58.3 206.5h.9M70.6 214.7h.9M52.2 203.7h.9M67.1 223.5h.9M71.1 208.2h.9M64.6 206.6h.9M52.5 201.1h.9M61.0 192.7h.9M60.2 200.1h.9M56.5 208.3h.9M52.9 201.4h.9M61.8 206.5h.9M61.7 204.7h.9M55.4 183.8h.9M57.4 198.9h.9M56.2 195.2h.9M52.7 215.4h.9M57.2 209.2h.9M64.1 206.3h.9M68.1 201.4h.9M62.1 194.0h.9M56.9 209.8h.9M54.5 200.6h.9M58.6 202.3h.9M56.6 204.5h.9M51.5 201.3h.9M74.3 199.0h.9M67.4 200.0h.9M51.4 215.7h.9M62.9 209.7h.9M69.2 212.3h.9M65.8 185.7h.9M60.1 217.9h.9M60.6 193.1h.9M47.1 203.7h.9M43.2 200.4h.9M66.8 201.8h.9M53.9 198.6h.9M73.6 198.3h.9M53.4 205.3h.9M52.3 211.7h.9M58.6 192.3h.9M50.8 198.0h.9M67.4 206.1h.9M60.5 190.3h.9M63.7 198.7h.9M78.7 199.8h.9M54.6 190.2h.9M59.7 208.1h.9M58.3 212.7h.9M66.4 200.4h.9" stroke="#5577f5" stroke-opacity="0.45" stroke-width="0.9" fill="none"/>
<path d="M64.8 210.8h.9M57.8 212.6h.9M61.5 213.5h.9M61.7 203.3h.9M56.5 212.7h.9M65.8 206.0h.9M51.1 214.5h.9M65.6 216.0h.9M52.1 200.8h.9M57.2 207.4h.9M57.1 217.8h.9M61.7 208.7h.9M54.7 210.3h.9M57.7 215.4h.9M53.8 216.5h.9M60.3 211.7h.9M55.1 220.0h.9M60.0 211.6h.9M54.1 216.2h.9M58.3 213.3h.9M54.7 209.9h.9M54.6 220.7h.9M51.9 210.9h.9M55.9 204.3h.9M67.9 209.3h.9M59.9 218.7h.9M58.7 213.0h.9M56.0 214.4h.9M57.6 215.4h.9M62.3 205.3h.9M52.3 210.2h.9M59.2 205.7h.9M59.8 215.8h.9M56.4 217.5h.9M59.6 212.5h.9M52.8 216.8h.9M56.5 208.0h.9M52.3 214.1h.9M58.3 211.8h.9M62.1 209.5h.9M61.1 210.8h.9M56.8 211.0h.9M55.5 219.0h.9M53.0 216.2h.9M62.0 213.1h.9M56.6 205.9h.9M51.8 225.7h.9M56.1 212.5h.9M52.7 212.9h.9M56.3 217.2h.9M63.2 219.8h.9M54.1 210.4h.9M52.9 208.4h.9M49.8 215.6h.9M47.8 212.0h.9M60.2 205.0h.9M57.8 219.4h.9M64.2 213.4h.9M59.6 214.1h.9M62.5 214.1h.9M63.0 208.9h.9M56.4 206.1h.9M58.5 205.9h.9M58.6 209.6h.9M51.4 211.3h.9M60.5 216.1h.9M58.8 211.5h.9M59.1 204.3h.9M67.4 206.9h.9M55.5 206.0h.9M52.7 211.4h.9M55.2 208.5h.9M60.5 206.9h.9M52.0 212.7h.9M58.3 202.7h.9M61.8 206.1h.9M57.0 212.1h.9M57.7 213.8h.9M55.5 211.4h.9M50.3 211.1h.9M48.6 212.9h.9M52.7 215.2h.9M55.9 214.4h.9M55.7 210.2h.9M57.7 215.8h.9M60.3 198.6h.9M56.3 215.6h.9M62.3 212.6h.9M67.2 196.6h.9M56.6 208.5h.9M65.3 213.7h.9M66.8 215.8h.9M56.4 208.7h.9M53.6 211.5h.9M59.3 207.5h.9M61.9 219.5h.9M54.9 214.1h.9M57.2 209.4h.9M54.9 207.7h.9M60.8 222.5h.9" stroke="#5577f5" stroke-opacity="0.45" stroke-width="0.9" fill="none"/>
<path d="M51.5 191.0h.9M56.6 189.5h.9M55.0 187.4h.9M53.7 194.3h.9M55.4 196.8h.9M56.9 190.7h.9M46.5 184.9h.9M47.7 191.6h.9M49.7 200.6h.9M53.9 193.4h.9M52.6 191.4h.9M53.6 195.5h.9M52.3 194.9h.9M57.9 192.7h.9M55.0 193.1h.9M57.0 194.8h.9M53.0 195.7h.9M57.1 192.8h.9M47.2 197.5h.9M53.2 194.4h.9M53.0 191.2h.9M47.4 192.2h.9M51.4 193.8h.9M51.0 192.0h.9M55.3 192.1h.9M49.8 193.6h.9M51.0 189.0h.9M47.9 189.5h.9M49.7 185.3h.9M46.3 190.3h.9M50.5 191.6h.9M54.5 188.8h.9M58.4 193.2h.9M42.3 191.9h.9M48.1 193.7h.9M59.3 187.8h.9M52.6 188.8h.9M46.1 194.0h.9M55.5 190.0h.9M50.5 188.3h.9M49.4 191.3h.9M51.4 194.3h.9M52.9 191.9h.9M52.5 194.0h.9M54.4 187.9h.9M51.3 193.3h.9M48.9 187.6h.9M48.0 188.3h.9M51.2 191.6h.9M54.3 186.2h.9M53.9 194.6h.9M62.9 191.2h.9M55.1 186.7h.9M56.5 197.1h.9M53.2 190.2h.9M58.2 189.1h.9M59.4 188.8h.9M54.0 193.0h.9M52.8 190.3h.9M47.9 196.3h.9" stroke="#5577f5" stroke-opacity="0.45" stroke-width="0.9" fill="none"/>
<path d="M46.0,185.5 L60.0,183.0 L75.0,181.5 L76.5,186.0 L74.0,192.0 L52.0,192.5 Z" fill="#5f7ef6" fill-opacity="0.7" filter="url(#bl13)"/>
<path d="M47.0,186.0 L60.0,184.0 L74.2,182.8 L75.5,186.0 L73.0,191.0 L53.0,191.5 Z" fill="#2a4cf2" fill-opacity="1" filter="url(#bl10)"/>
<path d="M51.0,194.0 L73.0,190.0 L73.5,201.0 L70.0,207.5 L64.6,209.5 L57.0,213.0 L53.0,210.0 L51.0,203.0 Z" fill="#5f7ef6" fill-opacity="0.65" filter="url(#bl16)"/>
<path d="M52.5,195.0 L72.5,191.0 L72.5,200.0 L69.1,206.8 L64.6,208.0 L57.0,211.3 L54.0,209.0 L52.0,203.4 Z" fill="#2a4cf2" fill-opacity="0.7" filter="url(#bl15)"/>
<ellipse cx="66.8" cy="188.6" rx="6.8" ry="3.6" transform="rotate(-8 66.8 188.6)" fill="#2ec4ea" fill-opacity="1" filter="url(#bl9)"/>
<ellipse cx="66.8" cy="188.8" rx="4.8" ry="2.6" transform="rotate(-8 66.8 188.8)" fill="#44e23e" fill-opacity="1" filter="url(#bl7)"/>
<ellipse cx="67.3" cy="188.6" rx="2.2" ry="1.6" transform="rotate(-5 67.3 188.6)" fill="#e6ee22" fill-opacity="1" filter="url(#bl5)"/>
<ellipse cx="67.3" cy="188.6" rx="1.5" ry="1.1" transform="rotate(-5 67.3 188.6)" fill="#f22a14" fill-opacity="1" filter="url(#bl4)"/>
<path d="M57.8,187.6 L60.5,193.8 L73.5,194.9 L75.5,184.5" transform="translate(0 0)" fill="none" stroke="#0a1850" stroke-width="0.9"/>
</g>
<rect x="38.2" y="174.7" width="51.3" height="50.5" fill="none" stroke="#111" stroke-width="1.3"/>
<path d="M36.9 178.3h1.3M36.9 181.9h1.3M36.9 185.5h1.3M36.9 189.1h1.3M36.9 192.7h1.3M36.9 196.3h1.3M36.9 199.9h1.3M36.9 203.6h1.3M36.9 207.2h1.3M36.9 210.8h1.3M36.9 214.4h1.3M36.9 218.0h1.3M36.9 221.6h1.3M41.9 225.2v1.3M45.5 225.2v1.3M49.2 225.2v1.3M52.9 225.2v1.3M56.5 225.2v1.3M60.2 225.2v1.3M63.9 225.2v1.3M67.5 225.2v1.3M71.2 225.2v1.3M74.8 225.2v1.3M78.5 225.2v1.3M82.2 225.2v1.3M85.8 225.2v1.3" stroke="#222" stroke-width="0.7"/>
<text x="62.7" y="181.7" font-size="6.4" fill="#333" textLength="10.0" lengthAdjust="spacingAndGlyphs">87.3</text>
<clipPath id="cp12"><rect x="39.4" y="235.3" width="50.5" height="50.3"/></clipPath>
<g clip-path="url(#cp12)">
<path d="M65.6 258.0h.9M49.1 266.4h.9M69.4 266.6h.9M55.5 267.1h.9M60.0 274.3h.9M61.0 257.9h.9M63.4 253.1h.9M54.3 256.8h.9M58.8 263.8h.9M51.5 257.5h.9M78.2 255.3h.9M59.0 259.1h.9M66.5 259.0h.9M76.9 265.0h.9M61.3 265.5h.9M68.1 270.4h.9M50.6 260.7h.9M52.7 271.0h.9M62.7 267.7h.9M61.5 257.9h.9M64.6 273.3h.9M76.0 267.2h.9M70.6 258.2h.9M63.7 265.1h.9M54.6 256.4h.9M61.4 262.2h.9M59.0 260.8h.9M61.3 260.3h.9M48.3 260.5h.9M72.1 266.5h.9M63.4 257.7h.9M57.3 254.4h.9M51.0 260.6h.9M53.1 263.8h.9M64.7 253.0h.9M75.8 266.2h.9M62.3 260.4h.9M52.4 260.5h.9M69.4 248.8h.9M59.9 264.6h.9M77.7 253.0h.9M52.2 270.5h.9M53.4 266.6h.9M56.6 252.4h.9M66.6 261.2h.9M52.7 261.2h.9M68.2 265.6h.9M78.6 259.2h.9M70.3 269.9h.9M63.8 271.3h.9M59.0 260.6h.9M53.1 254.8h.9M52.5 269.4h.9M56.0 265.0h.9M53.0 281.2h.9M57.2 254.4h.9M69.2 251.6h.9M63.0 256.0h.9M55.0 259.8h.9M71.3 275.2h.9M64.3 269.0h.9M65.3 259.5h.9M61.5 263.1h.9M61.8 271.7h.9M56.0 250.7h.9M72.8 258.6h.9M60.2 287.8h.9M66.2 268.5h.9M58.7 264.5h.9M57.7 288.6h.9M66.4 264.4h.9M70.8 267.4h.9M68.0 268.8h.9M59.4 269.9h.9M60.9 258.1h.9M59.3 264.0h.9M55.5 268.4h.9M61.4 266.5h.9M57.1 264.4h.9M65.5 262.9h.9M57.7 264.9h.9M63.3 259.6h.9M64.4 268.9h.9M75.7 259.3h.9M50.8 262.5h.9M70.1 275.3h.9M62.2 257.9h.9M63.4 260.5h.9M54.4 262.2h.9M56.3 259.5h.9M55.7 260.2h.9M63.1 265.0h.9M64.6 256.2h.9M50.7 259.1h.9M58.1 268.3h.9M48.3 267.0h.9M62.2 254.9h.9M57.4 258.5h.9M70.2 263.3h.9M64.6 257.5h.9M52.9 254.6h.9M50.0 257.0h.9M53.7 276.0h.9M53.7 270.5h.9M62.0 271.0h.9M61.7 262.7h.9M59.9 273.3h.9M58.0 251.9h.9M60.0 251.0h.9M57.9 259.8h.9M55.5 260.0h.9M67.7 266.7h.9M67.8 264.8h.9M64.4 253.2h.9M67.3 268.6h.9M69.8 266.2h.9M50.1 277.6h.9M58.1 245.5h.9M68.0 257.2h.9M51.4 262.5h.9M49.7 274.9h.9M67.9 284.8h.9M53.7 269.0h.9M57.1 257.8h.9M58.9 261.3h.9M63.1 261.7h.9M73.0 256.2h.9M66.9 252.2h.9M60.0 273.7h.9M68.4 271.9h.9M62.9 258.9h.9M56.9 263.7h.9M58.6 251.6h.9M67.0 270.4h.9M64.2 261.3h.9M65.6 261.8h.9M62.6 264.8h.9M62.0 258.7h.9M66.7 258.9h.9M68.0 274.2h.9M57.1 266.4h.9M65.5 265.7h.9M51.8 262.9h.9M58.2 261.1h.9M73.6 268.8h.9M48.6 265.6h.9M69.2 259.8h.9M61.7 258.1h.9M58.7 272.9h.9M78.1 268.1h.9M57.2 274.5h.9M56.0 269.8h.9M47.0 286.2h.9M52.5 267.1h.9M68.2 275.0h.9M68.0 274.6h.9M58.3 269.1h.9M65.3 267.5h.9M66.7 263.7h.9M50.7 272.4h.9M56.8 276.6h.9M73.8 265.0h.9M69.9 270.8h.9M67.6 251.6h.9M57.9 260.8h.9M59.4 253.2h.9M48.4 260.6h.9M60.2 271.1h.9M54.8 248.2h.9M74.0 267.6h.9M56.6 271.1h.9M53.3 259.6h.9M64.3 268.9h.9M66.9 262.5h.9M74.0 256.3h.9M45.9 256.7h.9M61.0 263.7h.9M49.9 248.4h.9M55.3 269.3h.9M63.3 279.0h.9M53.3 256.6h.9M51.8 250.1h.9M52.1 259.5h.9M53.6 263.7h.9M70.1 264.8h.9M57.1 262.6h.9M59.4 261.3h.9M55.2 262.8h.9M55.2 265.5h.9M58.2 271.9h.9M62.2 268.7h.9M60.7 259.9h.9M66.2 258.5h.9M58.1 277.0h.9M53.7 266.9h.9M64.1 265.0h.9M68.3 262.7h.9M50.5 264.5h.9M62.4 267.0h.9M69.0 257.6h.9M49.6 275.1h.9M55.3 270.7h.9M68.0 250.2h.9M48.8 283.1h.9M59.2 269.7h.9M51.9 259.6h.9M53.6 258.8h.9M63.0 258.2h.9M49.3 264.7h.9M65.2 261.3h.9M53.0 268.5h.9M55.9 272.1h.9M65.2 263.1h.9M71.7 252.2h.9M53.7 261.8h.9M63.8 272.1h.9M65.8 258.7h.9M54.5 277.5h.9M61.7 273.3h.9M64.1 254.9h.9M54.1 272.4h.9M51.5 271.2h.9M68.1 251.7h.9M61.9 259.9h.9M54.8 274.1h.9M55.2 248.2h.9M57.5 263.7h.9M61.5 265.2h.9M54.9 259.9h.9M72.6 272.4h.9M64.6 268.3h.9M65.7 252.8h.9M56.4 283.6h.9M46.8 263.8h.9M49.8 265.6h.9M62.5 263.6h.9M53.5 256.4h.9M69.5 264.6h.9M58.2 267.5h.9M56.8 260.7h.9" stroke="#5577f5" stroke-opacity="0.45" stroke-width="0.9" fill="none"/>
<path d="M47.9 280.0h.9M57.0 275.8h.9M56.6 266.8h.9M60.6 271.2h.9M59.0 267.7h.9M65.6 275.2h.9M56.7 277.2h.9M52.5 271.8h.9M53.6 266.8h.9M58.2 279.2h.9M60.3 268.8h.9M55.4 275.9h.9M56.1 270.5h.9M56.4 276.6h.9M57.3 264.5h.9M55.2 271.0h.9M55.7 273.5h.9M61.2 273.9h.9M59.6 270.0h.9M55.7 275.0h.9M51.0 275.5h.9M54.3 270.0h.9M58.1 276.0h.9M58.3 269.7h.9M64.3 274.6h.9M57.0 272.9h.9M58.0 271.4h.9M56.6 266.9h.9M51.6 274.2h.9M62.9 275.6h.9M58.0 271.6h.9M52.4 280.8h.9M56.8 275.2h.9M65.7 260.5h.9M59.5 273.2h.9M57.2 273.1h.9M58.4 276.2h.9M63.8 272.8h.9M57.0 277.4h.9M55.2 270.9h.9M58.9 274.4h.9M56.2 273.6h.9M67.7 274.1h.9M52.7 271.9h.9M51.3 267.1h.9M47.8 275.5h.9M60.3 272.5h.9M50.7 263.9h.9M48.1 284.8h.9M51.4 270.4h.9M59.1 276.3h.9M56.6 269.3h.9M61.0 273.0h.9M52.3 267.0h.9M52.3 278.4h.9M59.2 264.2h.9M54.2 275.9h.9M54.4 268.7h.9M51.8 271.8h.9M58.1 269.9h.9M56.6 275.0h.9M54.6 271.2h.9M59.8 272.0h.9M50.0 272.9h.9M56.0 274.3h.9M55.0 280.0h.9M48.4 279.8h.9M57.6 276.5h.9M53.6 271.4h.9M55.7 274.4h.9M50.9 270.0h.9M46.0 279.7h.9M55.6 268.5h.9M53.9 274.6h.9M59.4 276.8h.9M51.1 268.3h.9M57.6 273.3h.9M60.9 271.1h.9M59.2 262.6h.9M55.5 275.2h.9M59.0 268.8h.9M56.8 272.4h.9M54.4 268.7h.9M56.5 275.7h.9M65.8 270.7h.9M54.4 275.9h.9M53.8 275.5h.9M47.0 277.9h.9M60.4 274.3h.9M52.8 268.8h.9M51.6 277.9h.9M54.6 273.0h.9M59.8 271.6h.9M58.3 261.2h.9M57.5 280.5h.9M59.2 268.5h.9M59.2 271.9h.9M47.2 267.2h.9M50.0 268.2h.9M51.1 274.8h.9" stroke="#5577f5" stroke-opacity="0.45" stroke-width="0.9" fill="none"/>
<path d="M45.7 252.9h.9M51.4 247.7h.9M52.2 250.4h.9M47.9 248.1h.9M51.9 250.6h.9M51.3 252.3h.9M57.7 251.7h.9M52.1 256.6h.9M50.0 256.0h.9M53.8 246.7h.9M57.8 252.0h.9M47.3 251.6h.9M52.6 253.1h.9M60.3 247.3h.9M53.2 250.8h.9M50.1 251.1h.9M48.9 257.3h.9M52.6 252.3h.9M53.2 247.9h.9M51.3 250.9h.9M48.1 256.5h.9M52.7 254.3h.9M49.6 252.7h.9M51.8 254.2h.9M52.4 253.9h.9M48.9 253.9h.9M53.6 253.9h.9M50.7 253.2h.9M51.6 253.4h.9M51.9 251.0h.9M49.9 252.8h.9M47.6 245.1h.9M51.5 251.3h.9M52.8 254.2h.9M53.3 251.7h.9M52.6 247.4h.9M54.1 249.8h.9M48.8 253.9h.9M49.4 249.7h.9M50.8 249.4h.9M55.0 249.1h.9M51.5 255.6h.9M53.0 259.1h.9M55.9 253.4h.9M47.1 254.3h.9M56.8 255.2h.9M54.2 254.3h.9M51.4 253.6h.9M53.4 252.5h.9M57.0 249.9h.9M56.8 250.8h.9M47.8 251.5h.9M48.6 251.7h.9M54.4 256.1h.9M55.0 244.6h.9M56.6 250.3h.9M53.4 256.2h.9M56.1 257.6h.9M52.1 249.6h.9M48.3 258.1h.9" stroke="#5577f5" stroke-opacity="0.45" stroke-width="0.9" fill="none"/>
<path d="M46.0,246.0 L60.0,243.5 L75.0,242.0 L76.5,246.5 L74.0,252.5 L52.0,253.0 Z" fill="#5f7ef6" fill-opacity="0.7" filter="url(#bl13)"/>
<path d="M47.0,246.5 L60.0,244.5 L74.2,243.3 L75.5,246.5 L73.0,251.5 L53.0,252.0 Z" fill="#2a4cf2" fill-opacity="1" filter="url(#bl10)"/>
<path d="M51.0,254.5 L73.0,250.5 L73.5,261.5 L70.0,268.0 L64.6,270.0 L57.0,273.5 L53.0,270.5 L51.0,263.5 Z" fill="#5f7ef6" fill-opacity="0.65" filter="url(#bl16)"/>
<path d="M52.5,255.5 L72.5,251.5 L72.5,260.5 L69.1,267.3 L64.6,268.5 L57.0,271.8 L54.0,269.5 L52.0,263.9 Z" fill="#2a4cf2" fill-opacity="0.7" filter="url(#bl15)"/>
<ellipse cx="66.8" cy="249.1" rx="6.8" ry="3.6" transform="rotate(-8 66.8 249.1)" fill="#2ec4ea" fill-opacity="1" filter="url(#bl9)"/>
<ellipse cx="66.8" cy="249.3" rx="4.8" ry="2.6" transform="rotate(-8 66.8 249.3)" fill="#44e23e" fill-opacity="1" filter="url(#bl7)"/>
<ellipse cx="67.3" cy="249.1" rx="2.2" ry="1.6" transform="rotate(-5 67.3 249.1)" fill="#e6ee22" fill-opacity="1" filter="url(#bl5)"/>
<ellipse cx="67.3" cy="249.1" rx="1.5" ry="1.1" transform="rotate(-5 67.3 249.1)" fill="#f22a14" fill-opacity="1" filter="url(#bl4)"/>
<path d="M57.8,187.6 L60.5,193.8 L73.5,194.9 L75.5,184.5" transform="translate(0 60.5)" fill="none" stroke="#0a1850" stroke-width="0.9"/>
</g>
<rect x="39.4" y="235.3" width="50.5" height="50.3" fill="none" stroke="#111" stroke-width="1.3"/>
<path d="M38.1 238.9h1.3M38.1 242.5h1.3M38.1 246.1h1.3M38.1 249.7h1.3M38.1 253.3h1.3M38.1 256.9h1.3M38.1 260.5h1.3M38.1 264.0h1.3M38.1 267.6h1.3M38.1 271.2h1.3M38.1 274.8h1.3M38.1 278.4h1.3M38.1 282.0h1.3M43.0 285.6v1.3M46.6 285.6v1.3M50.2 285.6v1.3M53.8 285.6v1.3M57.4 285.6v1.3M61.0 285.6v1.3M64.7 285.6v1.3M68.3 285.6v1.3M71.9 285.6v1.3M75.5 285.6v1.3M79.1 285.6v1.3M82.7 285.6v1.3M86.3 285.6v1.3" stroke="#222" stroke-width="0.7"/>
<text x="47.0" y="241.6" font-size="6.3" textLength="10.7" lengthAdjust="spacingAndGlyphs">12.9</text>
<text x="77.9" y="278.1" font-size="6.3" textLength="10.1" lengthAdjust="spacingAndGlyphs">16.8</text>
<clipPath id="cp13"><rect x="95.2" y="174.7" width="51.0" height="50.5"/></clipPath>
<g clip-path="url(#cp13)">
<path d="M116.7 202.2h.9M120.1 192.0h.9M125.0 218.9h.9M118.5 208.3h.9M115.2 198.3h.9M112.0 208.7h.9M131.2 200.9h.9M104.2 203.3h.9M138.7 199.8h.9M131.7 210.6h.9M128.4 188.7h.9M124.6 188.1h.9M115.0 224.3h.9M124.5 196.2h.9M116.0 198.7h.9M115.0 215.1h.9M120.2 203.2h.9M116.5 190.1h.9M122.0 201.5h.9M116.7 205.6h.9M135.2 198.8h.9M120.8 212.6h.9M121.7 188.5h.9M110.5 199.0h.9M119.2 205.4h.9M120.5 213.2h.9M122.5 221.1h.9M119.0 203.3h.9M118.5 188.3h.9M124.3 192.0h.9M132.6 199.5h.9M134.8 201.0h.9M114.4 211.0h.9M117.0 215.6h.9M110.8 205.7h.9M115.0 204.8h.9M113.8 189.6h.9M116.0 204.8h.9M116.3 190.1h.9M109.4 190.8h.9M134.1 201.8h.9M111.9 183.0h.9M113.9 194.0h.9M118.2 210.5h.9M113.8 205.6h.9M116.7 207.4h.9M124.1 212.4h.9M105.0 202.8h.9M127.0 180.2h.9M124.0 201.0h.9M119.0 180.5h.9M122.3 206.1h.9M124.2 204.8h.9M136.9 202.5h.9M120.1 202.9h.9M126.1 218.6h.9M110.9 210.6h.9M111.8 207.1h.9M116.2 180.5h.9M125.2 209.0h.9M124.4 185.1h.9M118.4 194.8h.9M124.6 205.5h.9M109.0 188.2h.9M114.7 191.7h.9M106.3 207.9h.9M129.0 203.8h.9M118.5 190.7h.9M110.4 221.6h.9M124.8 209.4h.9M130.9 200.5h.9M114.3 204.2h.9M106.6 208.9h.9M121.1 188.6h.9M127.9 202.4h.9M112.1 213.3h.9M133.1 200.7h.9M134.7 192.7h.9M129.4 208.6h.9M113.9 215.8h.9M130.5 187.5h.9M118.7 211.3h.9M120.8 219.7h.9M122.6 189.7h.9M110.8 192.3h.9M114.9 201.6h.9M134.1 203.1h.9M110.5 198.0h.9M118.4 209.0h.9M128.0 211.2h.9M125.2 196.5h.9M118.4 212.3h.9M110.5 215.7h.9M116.8 209.1h.9M103.4 206.5h.9M121.2 197.2h.9M120.4 205.0h.9M120.2 188.1h.9M120.0 209.8h.9M122.5 200.3h.9M126.3 184.4h.9M119.5 193.8h.9M128.5 181.1h.9M112.6 193.1h.9M112.3 183.4h.9M131.6 204.7h.9M116.1 200.6h.9M112.1 199.2h.9M120.8 190.9h.9M117.4 208.2h.9M125.5 190.2h.9M123.3 196.4h.9M115.9 201.9h.9M119.7 210.9h.9M106.9 222.9h.9M123.7 211.9h.9M127.8 218.3h.9M126.3 218.1h.9M113.6 208.5h.9M124.9 213.2h.9M126.9 212.4h.9M115.0 197.9h.9M118.7 187.4h.9M131.0 216.8h.9M134.5 194.9h.9M127.7 200.9h.9M122.1 211.5h.9M132.7 199.6h.9M124.9 215.9h.9M127.3 193.9h.9M118.1 183.2h.9M105.2 204.1h.9M111.7 189.8h.9M124.3 198.9h.9M118.4 214.9h.9M113.6 206.6h.9M127.8 205.7h.9M127.5 205.3h.9M117.5 211.2h.9M119.2 200.1h.9M119.7 213.7h.9M107.7 209.1h.9M120.7 205.2h.9M134.0 198.9h.9M118.4 189.5h.9M119.2 207.5h.9M107.5 201.8h.9M110.5 200.6h.9M130.6 219.8h.9M116.3 211.2h.9M135.6 184.1h.9M111.2 206.8h.9M128.6 195.2h.9M121.7 208.0h.9M119.4 202.5h.9M130.7 216.0h.9M133.7 190.5h.9M114.1 208.9h.9M122.7 201.9h.9M112.1 202.6h.9M126.0 188.0h.9M139.3 209.9h.9M113.2 183.5h.9M117.6 196.6h.9M114.4 199.0h.9M135.1 198.3h.9M124.7 213.8h.9M118.0 186.2h.9M121.4 214.2h.9M123.1 210.8h.9M112.6 206.5h.9M109.9 204.5h.9M123.5 212.3h.9M127.0 213.1h.9M127.0 208.1h.9M132.5 208.3h.9M133.7 201.9h.9M110.9 201.1h.9M121.8 198.4h.9M111.1 207.8h.9M119.6 212.6h.9M115.8 204.9h.9M115.8 193.8h.9M122.6 212.9h.9M116.0 214.3h.9M109.1 212.8h.9M119.7 201.4h.9M107.6 212.2h.9M107.3 212.3h.9M138.0 191.2h.9M124.5 192.5h.9M116.7 201.1h.9M115.3 208.1h.9M130.8 188.6h.9M116.8 186.8h.9M108.1 203.1h.9M118.7 202.8h.9M106.5 192.5h.9M104.2 195.0h.9M113.7 204.6h.9M120.4 212.0h.9M116.8 205.5h.9M103.5 219.5h.9M125.8 193.4h.9M115.9 212.9h.9M109.9 210.6h.9M112.3 213.5h.9M124.0 195.0h.9M116.3 214.3h.9M110.4 187.5h.9M127.4 194.1h.9M107.0 196.7h.9M117.7 198.4h.9M115.9 203.8h.9M120.4 185.3h.9M119.5 199.0h.9M118.4 202.4h.9M121.5 185.9h.9M117.1 217.3h.9M123.1 205.4h.9M125.8 201.3h.9M117.9 180.3h.9M125.5 192.4h.9M111.5 202.9h.9M121.0 218.5h.9M108.7 194.4h.9M114.3 200.4h.9M117.7 206.5h.9M123.3 190.8h.9M97.5 211.4h.9M112.5 206.3h.9M117.6 209.7h.9M115.0 212.9h.9M110.5 203.6h.9M126.8 196.4h.9M116.4 192.1h.9M131.1 202.4h.9M127.9 201.3h.9M119.0 208.6h.9M123.4 198.7h.9M108.5 217.4h.9M127.9 212.3h.9M114.1 204.1h.9M136.3 202.3h.9M118.7 207.1h.9M117.9 199.6h.9M127.3 202.1h.9M117.7 204.3h.9M110.3 198.5h.9M123.2 215.7h.9M107.3 194.3h.9M137.0 199.1h.9M112.3 202.2h.9M118.5 192.7h.9M113.9 201.5h.9M120.4 206.3h.9M116.3 182.1h.9M126.0 203.8h.9M119.1 206.1h.9M125.8 217.2h.9" stroke="#5577f5" stroke-opacity="0.45" stroke-width="0.9" fill="none"/>
<path d="M113.4 216.7h.9M115.8 221.5h.9M115.4 226.0h.9M124.5 219.3h.9M112.5 215.1h.9M114.3 212.7h.9M122.1 213.0h.9M111.1 208.2h.9M116.7 205.0h.9M118.0 217.6h.9M115.6 219.8h.9M111.9 223.4h.9M115.9 218.8h.9M113.3 215.0h.9M118.3 208.4h.9M119.9 210.4h.9M124.0 208.3h.9M107.2 216.8h.9M120.0 213.7h.9M111.4 207.9h.9M113.8 223.5h.9M111.1 220.9h.9M107.2 218.7h.9M121.0 212.1h.9M121.8 216.8h.9M114.9 211.2h.9M121.4 213.1h.9M114.7 212.2h.9M119.1 208.2h.9M118.2 225.0h.9M115.5 216.3h.9M118.5 209.0h.9M120.4 210.1h.9M112.7 209.0h.9M119.4 212.8h.9M118.6 218.8h.9M117.6 222.3h.9M113.5 216.7h.9M118.6 217.0h.9M113.9 215.8h.9M116.0 217.9h.9M117.8 211.6h.9M111.9 211.4h.9M123.1 218.2h.9M118.7 210.7h.9M118.0 215.2h.9M118.2 213.4h.9M115.0 208.5h.9M116.8 208.8h.9M112.4 213.7h.9M118.0 211.9h.9M114.1 219.0h.9M111.2 215.1h.9M106.1 218.0h.9M114.2 224.8h.9M123.2 218.0h.9M118.3 217.4h.9M107.8 215.2h.9M118.1 219.4h.9M120.4 209.4h.9M122.5 196.1h.9M119.4 211.2h.9M112.5 218.1h.9M123.0 201.3h.9M123.6 209.2h.9M114.7 207.4h.9M124.2 210.2h.9M116.9 217.4h.9M106.2 216.8h.9M110.8 220.4h.9M112.2 220.1h.9M129.2 207.7h.9M113.8 209.3h.9M116.9 223.3h.9M116.4 216.5h.9M121.8 211.1h.9M114.4 213.6h.9M123.4 213.1h.9M121.0 211.7h.9M112.4 212.6h.9" stroke="#5577f5" stroke-opacity="0.45" stroke-width="0.9" fill="none"/>
<path d="M107.0,186.0 L118.0,181.0 L134.5,180.0 L137.5,186.0 L135.0,198.0 L131.0,208.5 L123.0,214.0 L118.0,217.0 L111.0,213.0 L110.0,203.0 L112.0,194.0 Z" fill="#5f7ef6" fill-opacity="0.65" filter="url(#bl16)"/>
<path d="M108.0,186.0 L118.0,181.5 L134.0,180.5 L136.5,186.0 L134.0,198.0 L130.0,208.0 L123.0,213.0 L118.0,216.0 L112.0,212.0 L111.0,203.0 L113.0,194.0 Z" fill="#2a4cf2" fill-opacity="0.9" filter="url(#bl12)"/>
<path d="M117.5,183.5 L134.0,181.5 L136.0,186.0 L134.0,195.0 L130.5,202.5 L123.5,208.0 L117.5,208.0 L116.0,204.0 L121.5,198.0 L124.5,192.0 L118.5,189.5 Z" fill="#2ec4ea" fill-opacity="1" filter="url(#bl8)"/>
<path d="M119.0,184.5 L133.5,182.5 L135.0,186.0 L133.0,194.0 L129.5,201.0 L123.0,205.5 L119.0,205.5 L118.5,203.5 L123.0,198.0 L126.5,192.0 L121.0,189.0 Z" fill="#44e23e" fill-opacity="1" filter="url(#bl7)"/>
<ellipse cx="126.7" cy="186.8" rx="3.8" ry="2.2" transform="rotate(-5 126.7 186.8)" fill="#e6ee22" fill-opacity="1" filter="url(#bl5)"/>
<ellipse cx="126.7" cy="186.8" rx="2.7" ry="1.5" transform="rotate(-5 126.7 186.8)" fill="#f22a14" fill-opacity="1" filter="url(#bl4)"/>
<line x1="119.3" y1="189.8" x2="132.3" y2="189.8" stroke="#1a2040" stroke-width="0.6" />
</g>
<rect x="95.2" y="174.7" width="51.0" height="50.5" fill="none" stroke="#111" stroke-width="1.3"/>
<path d="M93.9 178.3h1.3M93.9 181.9h1.3M93.9 185.5h1.3M93.9 189.1h1.3M93.9 192.7h1.3M93.9 196.3h1.3M93.9 199.9h1.3M93.9 203.6h1.3M93.9 207.2h1.3M93.9 210.8h1.3M93.9 214.4h1.3M93.9 218.0h1.3M93.9 221.6h1.3M98.8 225.2v1.3M102.5 225.2v1.3M106.1 225.2v1.3M109.8 225.2v1.3M113.4 225.2v1.3M117.1 225.2v1.3M120.7 225.2v1.3M124.3 225.2v1.3M128.0 225.2v1.3M131.6 225.2v1.3M135.3 225.2v1.3M138.9 225.2v1.3M142.6 225.2v1.3" stroke="#222" stroke-width="0.7"/>
<text x="119.1" y="181.4" font-size="6.4" fill="#333" textLength="9.5" lengthAdjust="spacingAndGlyphs">53.4</text>
<path d="M129.5,176.5 L133,177.5 L133.5,180" fill="none" stroke="#777" stroke-width="0.5"/>
<clipPath id="cp14"><rect x="95.2" y="235.3" width="51.2" height="50.3"/></clipPath>
<g clip-path="url(#cp14)">
<path d="M123.0 257.8h.9M111.6 259.0h.9M119.0 241.2h.9M108.8 253.4h.9M130.0 267.6h.9M113.7 255.4h.9M118.7 261.0h.9M111.2 254.0h.9M133.3 267.8h.9M118.3 251.5h.9M131.5 250.0h.9M123.3 254.4h.9M116.1 245.3h.9M119.7 257.1h.9M120.4 260.9h.9M136.3 232.5h.9M110.2 250.0h.9M118.3 253.5h.9M127.9 250.9h.9M120.4 259.4h.9M143.4 253.7h.9M131.2 264.0h.9M108.8 247.3h.9M113.6 271.4h.9M119.9 251.4h.9M119.0 271.0h.9M109.7 251.7h.9M127.6 254.4h.9M121.5 278.0h.9M113.1 257.7h.9M112.9 260.3h.9M130.5 245.9h.9M122.1 248.1h.9M138.5 260.2h.9M138.7 266.3h.9M110.0 241.4h.9M107.1 261.5h.9M128.0 254.0h.9M124.6 258.2h.9M117.8 259.7h.9M116.7 261.9h.9M136.9 266.4h.9M131.0 248.0h.9M114.7 257.9h.9M112.8 277.4h.9M130.5 255.6h.9M125.8 263.2h.9M136.8 262.0h.9M125.1 286.8h.9M124.8 273.2h.9M120.7 275.2h.9M148.2 248.9h.9M131.7 270.4h.9M121.4 259.8h.9M116.3 260.3h.9M117.7 251.9h.9M132.5 253.3h.9M106.9 260.3h.9M118.4 256.1h.9M125.9 240.5h.9M120.3 257.2h.9M123.9 264.1h.9M122.0 250.1h.9M119.5 264.7h.9M117.3 254.5h.9M110.8 271.3h.9M121.0 265.2h.9M115.7 261.8h.9M107.3 245.8h.9M123.3 260.3h.9M120.9 259.5h.9M119.1 233.3h.9M108.9 259.4h.9M111.6 259.3h.9M108.5 263.9h.9M120.3 249.7h.9M131.6 260.4h.9M129.0 254.7h.9M105.2 269.7h.9M91.8 262.2h.9M107.7 232.3h.9M122.2 249.1h.9M135.1 264.4h.9M113.9 250.6h.9M117.4 244.1h.9M120.8 257.4h.9M118.2 237.6h.9M134.7 271.3h.9M132.2 273.9h.9M117.7 239.5h.9M127.6 257.3h.9M114.2 260.8h.9M118.0 283.1h.9M122.9 252.3h.9M137.3 264.1h.9M119.7 258.4h.9M124.7 252.8h.9M141.5 254.6h.9M120.0 253.5h.9M97.6 263.1h.9M137.4 243.5h.9M117.8 234.7h.9M117.3 273.3h.9M120.3 239.5h.9M101.9 259.7h.9M107.3 240.0h.9M126.7 238.5h.9M129.1 262.1h.9M120.3 258.6h.9M130.5 275.9h.9M128.6 249.3h.9M117.0 260.7h.9M100.2 268.4h.9M125.7 271.8h.9M118.0 247.4h.9M114.2 272.3h.9M129.3 261.7h.9M123.7 260.5h.9M133.7 272.0h.9M114.4 250.3h.9M133.0 258.2h.9M127.4 270.6h.9M120.7 248.5h.9M125.0 276.3h.9M120.6 242.6h.9M124.7 280.5h.9M149.5 249.2h.9M118.3 255.7h.9M137.7 264.4h.9M123.0 253.9h.9M101.3 257.0h.9M99.4 250.1h.9M121.7 251.8h.9M141.8 254.5h.9M134.5 273.4h.9M126.6 249.8h.9M117.2 252.3h.9M116.8 261.0h.9M115.5 257.5h.9M120.1 260.0h.9M130.3 247.7h.9M122.0 265.1h.9M115.6 247.7h.9M118.2 258.8h.9M120.7 269.2h.9M120.1 251.3h.9M132.5 253.3h.9M123.2 259.7h.9M132.4 257.8h.9M117.8 265.2h.9M118.3 256.2h.9M125.8 268.7h.9M138.5 277.3h.9M122.5 268.9h.9M127.4 247.7h.9M129.2 265.9h.9M134.8 245.1h.9M122.2 261.7h.9M124.3 250.2h.9M131.2 256.0h.9M115.4 250.1h.9M112.6 236.0h.9M101.8 250.3h.9M116.8 258.6h.9M114.0 254.9h.9M114.1 237.8h.9M111.4 270.3h.9M133.1 253.0h.9M99.6 251.3h.9M127.4 256.3h.9M112.9 246.9h.9M106.9 280.6h.9M140.6 252.9h.9M128.4 258.1h.9M117.9 257.1h.9M116.1 250.9h.9M115.6 245.6h.9M131.9 272.0h.9M127.2 241.4h.9M131.7 256.8h.9M131.5 255.0h.9M126.8 268.8h.9M121.7 241.5h.9M119.6 254.9h.9M113.7 265.4h.9M105.3 244.3h.9M136.8 245.9h.9M121.5 260.5h.9M108.6 257.4h.9M131.6 243.4h.9M110.1 271.6h.9M123.2 246.2h.9M124.9 272.0h.9M120.0 242.3h.9M115.0 257.7h.9M111.0 248.9h.9M112.6 250.8h.9M127.9 254.6h.9M115.2 258.7h.9M123.3 268.0h.9M129.0 259.6h.9M109.4 276.8h.9M117.4 255.1h.9M117.6 275.9h.9M133.0 247.9h.9M115.1 253.3h.9M128.0 253.1h.9M124.0 272.5h.9M126.9 256.7h.9M118.8 256.2h.9M111.4 259.0h.9M122.6 268.1h.9M123.3 275.6h.9M125.3 245.8h.9M103.7 249.4h.9M132.2 257.8h.9M135.5 249.5h.9M122.1 252.7h.9M115.7 270.9h.9M118.1 259.6h.9M118.3 266.7h.9M99.9 259.1h.9M133.2 255.5h.9M115.2 266.0h.9M130.6 263.4h.9M136.0 258.7h.9M129.2 276.5h.9M125.6 263.1h.9M135.3 265.5h.9M118.4 238.0h.9M109.2 266.0h.9M121.4 270.4h.9M141.3 258.2h.9M116.5 268.5h.9M133.0 257.4h.9M145.7 272.6h.9M130.1 255.9h.9M127.6 256.6h.9M118.1 260.4h.9M107.6 256.1h.9M115.9 250.4h.9M112.0 256.6h.9M94.7 244.3h.9M134.8 264.2h.9M118.1 251.1h.9M132.1 253.5h.9M109.9 266.1h.9M115.7 250.7h.9M115.7 243.1h.9M125.8 263.4h.9M110.3 274.6h.9M122.1 245.7h.9M110.8 263.8h.9M119.6 256.4h.9M111.1 251.1h.9M102.2 263.9h.9M133.0 257.8h.9M125.0 251.7h.9M112.9 257.7h.9M113.1 246.1h.9" stroke="#5577f5" stroke-opacity="0.45" stroke-width="0.9" fill="none"/>
<ellipse cx="119.0" cy="245.5" rx="6.0" ry="4.2" transform="rotate(-10 119.0 245.5)" fill="#5f7ef6" fill-opacity="0.65" filter="url(#bl14)"/>
<ellipse cx="119.3" cy="245.0" rx="4.4" ry="3.2" transform="rotate(-10 119.3 245.0)" fill="#2a4cf2" fill-opacity="0.95" filter="url(#bl10)"/>
<path d="M124.0,246.0 L134.0,243.0 L138.0,248.0 L135.0,258.0 L132.0,264.0 L126.0,262.0 L124.0,254.0 Z" fill="#5f7ef6" fill-opacity="0.7" filter="url(#bl13)"/>
<path d="M125.0,247.0 L133.5,244.0 L136.5,248.5 L134.0,257.0 L131.5,262.0 L127.0,260.5 L125.5,253.0 Z" fill="#2a4cf2" fill-opacity="1" filter="url(#bl9)"/>
<path d="M126.7,248.7 L132.3,246.5 L134.2,249.3 L132.3,254.9 L130.6,258.5 L128.6,257.5 L128.0,253.8 Z" fill="#44e23e" fill-opacity="1" filter="url(#bl6)"/>
<ellipse cx="122.0" cy="263.0" rx="11.0" ry="6.0" transform="rotate(-30 122.0 263.0)" fill="#5f7ef6" fill-opacity="0.7" filter="url(#bl14)"/>
<ellipse cx="122.0" cy="263.0" rx="9.5" ry="5.2" transform="rotate(-30 122.0 263.0)" fill="#2a4cf2" fill-opacity="1" filter="url(#bl10)"/>
<ellipse cx="122.1" cy="262.8" rx="7.5" ry="3.9" transform="rotate(-30 122.1 262.8)" fill="#2ec4ea" fill-opacity="1" filter="url(#bl8)"/>
<ellipse cx="122.1" cy="262.8" rx="6.6" ry="3.4" transform="rotate(-30 122.1 262.8)" fill="#44e23e" fill-opacity="1" filter="url(#bl7)"/>
<ellipse cx="122.3" cy="262.6" rx="3.9" ry="2.2" transform="rotate(-30 122.3 262.6)" fill="#e6ee22" fill-opacity="1" filter="url(#bl5)"/>
<ellipse cx="122.3" cy="262.6" rx="2.6" ry="1.4" transform="rotate(-30 122.3 262.6)" fill="#f22a14" fill-opacity="1" filter="url(#bl4)"/>
<path d="M106.3,241.9 L121.6,240.2 L123.8,245.3 L120.4,251 L107.4,250.4 Z M123.8,244.5 L135.7,244 L137.2,250 L131.5,262 M123,246 L131,262 M128.9,258.9 L140.8,259.4 L142.5,271.3 L136.8,275.8 L129.5,273.6 Z" fill="none" stroke="#666" stroke-width="0.6"/>
</g>
<rect x="95.2" y="235.3" width="51.2" height="50.3" fill="none" stroke="#111" stroke-width="1.3"/>
<path d="M93.9 238.9h1.3M93.9 242.5h1.3M93.9 246.1h1.3M93.9 249.7h1.3M93.9 253.3h1.3M93.9 256.9h1.3M93.9 260.5h1.3M93.9 264.0h1.3M93.9 267.6h1.3M93.9 271.2h1.3M93.9 274.8h1.3M93.9 278.4h1.3M93.9 282.0h1.3M98.9 285.6v1.3M102.5 285.6v1.3M106.2 285.6v1.3M109.8 285.6v1.3M113.5 285.6v1.3M117.1 285.6v1.3M120.8 285.6v1.3M124.5 285.6v1.3M128.1 285.6v1.3M131.8 285.6v1.3M135.4 285.6v1.3M139.1 285.6v1.3M142.7 285.6v1.3" stroke="#222" stroke-width="0.7"/>
<text x="98.9" y="241.3" font-size="6.3" textLength="10.7" lengthAdjust="spacingAndGlyphs">4.68</text>
<text x="133.6" y="282.7" font-size="6.3" textLength="10.1" lengthAdjust="spacingAndGlyphs">2.28</text>
<rect x="151.4" y="174.3" width="50.4" height="50.4" fill="#fff"/>
<path d="M161,224.6 C166,223.5 169,216 172,205 C175,194 178,184 181.5,178.5 C183,177 185.5,177 186.5,179 C188.5,185 190.5,205 192,215 C193,221 194.5,224 196,224.6 Z" fill="#0a34c0"/>
<path d="M174,224.6 C180,224.3 184,222 185.5,210 C187,195 188,178 189.6,177 C191,177 192,190 193.5,205 C194.5,216 195.5,223 198,224.6" fill="none" stroke="#e01828" stroke-width="1.4"/>
<rect x="151.4" y="174.3" width="50.4" height="50.4" fill="none" stroke="#111" stroke-width="1.3"/>
<path d="M150.1 177.9h1.3M150.1 181.5h1.3M150.1 185.1h1.3M150.1 188.7h1.3M150.1 192.3h1.3M150.1 195.9h1.3M150.1 199.5h1.3M150.1 203.1h1.3M150.1 206.7h1.3M150.1 210.3h1.3M150.1 213.9h1.3M150.1 217.5h1.3M150.1 221.1h1.3M155.0 224.7v1.3M158.6 224.7v1.3M162.2 224.7v1.3M165.8 224.7v1.3M169.4 224.7v1.3M173.0 224.7v1.3M176.6 224.7v1.3M180.2 224.7v1.3M183.8 224.7v1.3M187.4 224.7v1.3M191.0 224.7v1.3M194.6 224.7v1.3M198.2 224.7v1.3" stroke="#222" stroke-width="0.7"/>
<path d="M160,285 C162,282 162.8,260 163.5,240 C163.8,237 164.4,237 164.8,240 C165.5,260 166,278 168,281 C170,283.5 172,284.5 174,285 Z" fill="#0a36b0"/>
<path d="M160.5,285 C162,282 162.8,260 163.6,240 C164,236.5 164.6,237 165,240 C166,258 166.5,270 169,276 C172,281 175,281 178,283 C182,285 186,284.5 190,285" fill="none" stroke="#22ee22" stroke-width="0.9" stroke-dasharray="1.2 1"/>
<path d="M172,284.8 C178,284.5 184,284 186,276 C188,265 190,240 191.5,238.5 C193,240 194.5,262 196,274 C197,282 198,284.5 200,285" fill="none" stroke="#e01828" stroke-width="1.4"/>
<rect x="151.6" y="234.3" width="50.7" height="50.7" fill="none" stroke="#111" stroke-width="1.3"/>
<path d="M150.3 237.9h1.3M150.3 241.5h1.3M150.3 245.2h1.3M150.3 248.8h1.3M150.3 252.4h1.3M150.3 256.0h1.3M150.3 259.6h1.3M150.3 263.3h1.3M150.3 266.9h1.3M150.3 270.5h1.3M150.3 274.1h1.3M150.3 277.8h1.3M150.3 281.4h1.3M155.2 285.0v1.3M158.8 285.0v1.3M162.5 285.0v1.3M166.1 285.0v1.3M169.7 285.0v1.3M173.3 285.0v1.3M176.9 285.0v1.3M180.6 285.0v1.3M184.2 285.0v1.3M187.8 285.0v1.3M191.4 285.0v1.3M195.1 285.0v1.3M198.7 285.0v1.3" stroke="#222" stroke-width="0.7"/>
<text x="153.3" y="296.2" font-size="8.5" class="q" textLength="14.5" lengthAdjust="spacingAndGlyphs">Ki67</text>
<path d="M173.8,293.7 H195" stroke="#111" stroke-width="1.5"/><path d="M194.5,291.3 L199.6,293.7 L194.5,296.1 Z" fill="#111"/>
<line x1="211.2" y1="187.9" x2="224.6" y2="187.9" stroke="#e01828" stroke-width="1.1" />
<text x="230.0" y="190.0" font-size="7.6" class="l" textLength="39.4" lengthAdjust="spacingAndGlyphs">DP TetIL-7R</text>
<text x="269.6" y="187.6" font-size="4.9" textLength="9.5" lengthAdjust="spacingAndGlyphs">ON</text>
<rect x="216.3" y="197.9" width="5.8" height="6.3" fill="#0a36b0"/>
<text x="230.0" y="203.8" font-size="7.6" class="l" textLength="43.1" lengthAdjust="spacingAndGlyphs">DP C57Bl6/J</text>
<line x1="211.2" y1="248.5" x2="224.6" y2="248.5" stroke="#e01828" stroke-width="1.1" />
<text x="227.8" y="251.5" font-size="7.6" class="l" textLength="41.4" lengthAdjust="spacingAndGlyphs">DP TetIL-7R</text>
<text x="269.6" y="249.4" font-size="4.9" textLength="8.0" lengthAdjust="spacingAndGlyphs">ON</text>
<line x1="211.2" y1="258.5" x2="225.0" y2="258.5" stroke="#22ee22" stroke-width="1" stroke-dasharray="1.2 1"/>
<text x="227.8" y="261.3" font-size="7.6" class="l" textLength="45.2" lengthAdjust="spacingAndGlyphs">CD4 TetIL-7R</text>
<text x="273.3" y="259.2" font-size="4.9" textLength="9.0" lengthAdjust="spacingAndGlyphs">ON</text>
<rect x="216.3" y="264.8" width="5.8" height="6.6" fill="#0a36b0"/>
<text x="227.8" y="270.4" font-size="7.6" class="l" textLength="55.3" lengthAdjust="spacingAndGlyphs">CD4 T C57Bl6/J</text>
<text x="69.2" y="321.0" font-size="9" class="q" textLength="33.5" lengthAdjust="spacingAndGlyphs">Thymus</text>
<text x="131.9" y="321.0" font-size="9" class="q" textLength="30.0" lengthAdjust="spacingAndGlyphs">Spleen</text>
<text x="181.5" y="322.2" font-size="9" class="q" textLength="60.0" lengthAdjust="spacingAndGlyphs">Bone marrow</text>
<text x="16.6" y="352.6" font-size="8.9" textLength="33.2" lengthAdjust="spacingAndGlyphs">F5 control</text>
<text x="7.8" y="417.5" font-size="10" textLength="36.0" lengthAdjust="spacingAndGlyphs">F5 TetIL-7R</text>
<text x="44.2" y="414.3" font-size="4.6" textLength="7.0" lengthAdjust="spacingAndGlyphs">ON</text>
<text x="57.9" y="439.2" font-size="6.2" fill="#333" textLength="11.5" lengthAdjust="spacingAndGlyphs" transform="rotate(-90 57.9 439.2)">CD4</text>
<path d="M55.2,444 V450.3 H60.5" stroke="#111" stroke-width="1.4" fill="none"/>
<path d="M53,444.6 L55.2,440.6 L57.4,444.6 Z M60,448.1 L64,450.3 L60,452.5 Z" fill="#111"/>
<text x="67.9" y="451.3" font-size="6.4" class="q" fill="#333" textLength="10.2" lengthAdjust="spacingAndGlyphs">CD8</text>
<clipPath id="cp15"><rect x="61.8" y="326.7" width="53.5" height="53.5"/></clipPath>
<g clip-path="url(#cp15)">
<path d="M81.2 361.6h.9M72.4 366.8h.9M84.3 331.9h.9M74.3 355.4h.9M57.1 363.7h.9M86.6 362.6h.9M76.7 372.8h.9M78.7 360.2h.9M82.3 369.4h.9M62.7 367.0h.9M81.0 372.5h.9M79.8 355.9h.9M71.9 357.4h.9M72.8 362.6h.9M78.4 348.5h.9M84.1 356.2h.9M74.4 372.1h.9M81.9 361.8h.9M71.3 371.0h.9M83.2 343.8h.9M75.4 370.8h.9M86.6 355.8h.9M79.9 359.0h.9M57.0 364.8h.9M90.9 350.9h.9M79.0 367.6h.9M80.2 368.5h.9M78.3 354.3h.9M71.8 356.0h.9M66.3 343.8h.9M78.8 346.9h.9M79.2 355.9h.9M76.6 363.0h.9M73.8 345.4h.9M75.5 354.7h.9M89.9 368.1h.9M66.0 337.1h.9M66.9 363.0h.9M61.4 366.7h.9M75.1 369.3h.9M80.0 346.7h.9M74.2 359.0h.9M88.3 353.9h.9M72.7 358.2h.9M70.9 362.5h.9M81.3 366.6h.9M70.2 369.5h.9M103.4 372.4h.9M78.7 355.7h.9M63.9 362.1h.9M96.3 362.9h.9M81.3 356.2h.9M67.5 382.9h.9M74.8 374.6h.9M78.3 356.0h.9M70.0 358.3h.9M79.6 353.0h.9M77.0 354.9h.9M70.0 349.2h.9M101.7 342.7h.9M84.1 341.7h.9M69.4 367.3h.9M64.8 365.3h.9M91.1 354.6h.9M84.9 368.1h.9M59.2 352.4h.9M74.1 367.0h.9M73.8 342.9h.9M65.8 357.6h.9M78.5 361.7h.9M67.8 362.3h.9M76.8 346.0h.9M66.4 380.9h.9M83.2 352.9h.9M83.0 349.1h.9M93.2 363.3h.9M57.5 352.7h.9M75.6 358.3h.9M67.2 367.7h.9M79.3 373.0h.9M79.8 373.2h.9M92.1 358.3h.9M80.5 367.4h.9M82.1 356.0h.9M99.1 370.2h.9M82.5 343.8h.9M68.1 355.1h.9M67.8 341.1h.9M83.5 364.8h.9M72.7 356.9h.9M88.0 367.0h.9M94.4 355.0h.9M74.7 366.1h.9M94.7 355.4h.9M75.0 354.5h.9M88.2 370.4h.9M69.1 369.0h.9M85.0 371.4h.9M73.7 356.5h.9M82.7 363.0h.9M69.2 365.5h.9M83.5 354.6h.9M81.8 369.7h.9M78.2 358.1h.9M68.7 356.6h.9M71.8 346.3h.9M86.7 362.3h.9M81.0 359.4h.9M90.4 338.4h.9M92.1 352.2h.9M69.9 348.5h.9M70.2 355.6h.9M85.0 348.2h.9M85.3 351.6h.9M78.0 372.7h.9M75.0 344.8h.9M78.7 361.5h.9M74.7 352.7h.9M83.7 346.9h.9M76.8 348.4h.9M83.6 352.5h.9M81.3 356.8h.9M77.4 347.8h.9M89.4 351.4h.9M76.9 343.2h.9M78.7 348.1h.9M68.4 368.2h.9M84.9 360.3h.9M79.8 363.5h.9M78.0 359.5h.9M69.2 353.0h.9M76.6 329.1h.9M67.2 347.8h.9M96.2 339.8h.9M61.2 364.7h.9M69.1 362.5h.9M77.6 375.2h.9M77.9 366.6h.9M76.5 357.7h.9M78.2 356.6h.9M90.8 374.5h.9M78.3 354.7h.9M79.7 368.1h.9M84.5 357.9h.9M63.8 382.5h.9M91.2 362.5h.9M81.0 372.0h.9M93.0 358.3h.9M80.9 355.2h.9M95.6 353.3h.9M74.3 368.8h.9M83.7 357.2h.9M85.7 360.5h.9M78.0 361.2h.9M83.3 359.7h.9M82.5 359.1h.9M83.0 347.1h.9M93.4 368.5h.9M81.0 363.9h.9M94.5 362.7h.9M66.8 361.7h.9M60.4 355.4h.9M91.2 345.6h.9M64.4 353.6h.9M81.7 378.5h.9M76.0 356.7h.9M67.4 380.4h.9M76.8 362.4h.9M87.5 355.9h.9M70.4 352.3h.9M77.5 366.7h.9M87.5 351.8h.9M75.1 342.2h.9M78.5 380.9h.9M82.3 354.0h.9M91.8 362.3h.9M88.6 374.9h.9M67.2 358.1h.9M76.2 370.8h.9M77.4 358.8h.9M60.2 352.1h.9M72.9 346.3h.9M79.6 354.2h.9M80.0 367.3h.9M81.9 357.7h.9M81.1 345.2h.9M74.8 351.2h.9M95.1 343.6h.9M74.8 363.2h.9M73.8 364.4h.9M67.9 368.2h.9M80.0 333.5h.9M65.5 343.5h.9M75.8 353.4h.9M81.1 364.1h.9M83.4 362.3h.9M70.8 341.1h.9M67.3 361.3h.9M69.4 344.0h.9M70.3 361.5h.9M66.2 355.1h.9M84.5 366.2h.9M62.8 356.8h.9M73.0 384.1h.9M75.9 341.9h.9M72.5 356.9h.9M73.8 365.0h.9M74.5 357.6h.9M108.6 362.0h.9M85.6 357.5h.9M56.2 375.6h.9M74.0 364.6h.9M65.4 358.5h.9M87.8 345.2h.9M95.2 367.9h.9M81.5 354.2h.9M86.5 334.9h.9M89.3 335.6h.9M73.5 371.6h.9M81.0 336.5h.9" stroke="#5577f5" stroke-opacity="0.45" stroke-width="0.9" fill="none"/>
<path d="M58.4 343.7h.9M66.3 345.8h.9M76.8 348.3h.9M82.3 356.7h.9M61.4 356.4h.9M79.2 344.3h.9M67.7 345.9h.9M63.0 349.8h.9M72.2 346.0h.9M58.8 353.2h.9M79.3 355.7h.9M60.1 347.5h.9M67.8 346.6h.9M77.5 345.5h.9M67.9 351.9h.9M70.5 351.3h.9M69.0 352.6h.9M72.3 350.3h.9M73.9 352.1h.9M75.0 352.4h.9M73.2 351.8h.9M64.1 347.6h.9M67.9 346.7h.9M66.7 346.7h.9M65.2 351.7h.9M90.9 359.6h.9M70.0 350.4h.9M68.2 348.9h.9M74.0 352.2h.9M72.0 354.6h.9M66.9 353.7h.9M71.2 345.2h.9M78.8 345.4h.9M75.6 346.5h.9M65.2 355.6h.9M72.8 350.0h.9M64.5 341.5h.9M66.6 349.2h.9M76.2 349.9h.9M77.0 347.3h.9M76.4 354.2h.9M68.3 354.1h.9M81.7 343.2h.9M60.9 346.7h.9M66.1 345.3h.9M71.1 343.2h.9M82.6 349.6h.9M71.5 349.1h.9M66.1 350.6h.9M69.1 351.8h.9M75.2 345.9h.9M57.7 346.7h.9M71.7 340.0h.9M73.1 350.5h.9M60.8 351.1h.9M76.5 349.6h.9M73.4 352.9h.9M78.2 355.9h.9M64.9 348.9h.9M70.3 345.1h.9M70.9 351.8h.9M72.3 340.7h.9M65.6 337.7h.9M70.7 349.9h.9M75.5 354.4h.9M63.5 349.5h.9M71.2 353.8h.9M78.1 349.1h.9M59.9 353.9h.9M68.6 341.1h.9M71.3 345.8h.9M70.3 355.9h.9M69.6 346.1h.9M73.0 348.6h.9M70.7 354.9h.9M71.6 352.4h.9M69.7 350.6h.9M62.9 346.2h.9M77.1 356.4h.9M62.5 353.3h.9M76.2 346.1h.9M74.9 352.8h.9M78.4 358.6h.9M70.2 351.9h.9M64.0 351.4h.9M70.3 349.0h.9M71.0 354.3h.9M76.5 353.8h.9M82.5 343.0h.9M69.1 349.6h.9M67.4 347.8h.9M60.5 348.4h.9M78.6 347.9h.9M69.9 352.1h.9M70.1 345.3h.9M66.6 355.8h.9M65.5 344.0h.9M83.3 350.7h.9M62.5 341.4h.9M65.0 343.6h.9M69.2 354.6h.9M75.6 348.2h.9M74.6 347.9h.9M52.6 353.5h.9M64.6 345.3h.9M77.0 350.3h.9M76.1 354.7h.9M75.4 349.5h.9M84.4 345.1h.9M76.8 359.2h.9M69.0 347.1h.9M76.0 355.4h.9M74.1 346.9h.9M71.3 342.9h.9M77.6 355.6h.9M69.0 353.0h.9M68.2 350.3h.9M71.3 349.0h.9M90.4 348.6h.9M77.3 345.7h.9" stroke="#5577f5" stroke-opacity="0.5" stroke-width="0.9" fill="none"/>
<path d="M89.2 367.8h.9M84.9 374.6h.9M91.2 378.4h.9M89.8 360.1h.9M91.4 370.4h.9M95.4 349.6h.9M87.5 368.9h.9M92.3 358.9h.9M92.6 370.4h.9M80.0 386.5h.9M79.7 360.0h.9M84.8 371.7h.9M86.3 367.4h.9M85.1 371.9h.9M91.4 381.7h.9M82.3 362.3h.9M85.7 364.5h.9M87.5 373.0h.9M85.6 363.0h.9M93.1 378.8h.9M95.5 383.9h.9M85.2 378.6h.9M91.0 367.4h.9M90.6 363.0h.9M83.7 366.1h.9M82.1 364.9h.9M88.4 360.2h.9M85.2 352.7h.9M83.5 367.4h.9M85.5 369.2h.9M85.6 364.1h.9M81.6 381.2h.9M87.1 375.0h.9M85.0 358.9h.9M89.2 364.6h.9M87.8 373.0h.9M90.5 374.2h.9M88.9 353.0h.9M90.0 379.9h.9M89.7 376.1h.9M90.1 372.2h.9M90.5 356.3h.9M79.7 368.6h.9M90.6 372.3h.9M87.0 364.3h.9M84.0 370.7h.9M89.4 373.7h.9M87.7 378.0h.9M85.3 376.8h.9M85.0 379.2h.9M92.0 360.3h.9M90.3 360.3h.9M95.4 376.6h.9M88.5 371.0h.9M88.0 364.4h.9M83.8 367.5h.9M92.2 370.8h.9M92.7 376.1h.9M90.3 361.0h.9M84.3 365.1h.9M79.4 355.8h.9M88.5 378.7h.9M96.9 369.5h.9M92.0 370.9h.9M84.6 375.5h.9M88.0 373.0h.9M80.8 365.5h.9M92.1 366.4h.9M88.1 375.0h.9M94.0 379.0h.9M88.7 363.9h.9M92.0 363.1h.9M83.3 361.8h.9M88.0 362.5h.9M84.9 376.0h.9M83.6 358.6h.9M88.4 373.2h.9M86.1 360.5h.9M97.9 364.9h.9M98.9 362.4h.9" stroke="#5577f5" stroke-opacity="0.5" stroke-width="0.9" fill="none"/>
<path d="M62.0,340.0 L80.0,339.5 L80.0,359.0 L62.0,359.0 Z" fill="#5f7ef6" fill-opacity="0.65" filter="url(#bl22)"/>
<path d="M64.0,343.0 L79.0,342.0 L80.0,357.0 L64.0,356.0 Z" fill="#2a4cf2" fill-opacity="0.7" filter="url(#bl20)"/>
<path d="M76.0,343.0 L93.0,339.0 L92.0,355.0 L92.5,381.0 L78.0,381.0 L78.0,356.0 Z" fill="#5f7ef6" fill-opacity="0.75" filter="url(#bl18)"/>
<path d="M79.0,351.0 L91.0,350.0 L91.0,381.0 L80.0,381.0 Z" fill="#2a4cf2" fill-opacity="0.95" filter="url(#bl13)"/>
<ellipse cx="86.0" cy="367.0" rx="1.5" ry="6.0" transform="rotate(0 86.0 367.0)" fill="#2ec4ea" fill-opacity="0.6" filter="url(#bl9)"/>
<path d="M75.5,342.5 L91.5,339.0 L92.0,346.5 L86.0,356.5 L77.5,353.5 Z" fill="#2a4cf2" fill-opacity="1" filter="url(#bl10)"/>
<path d="M76.5,344.0 L80.0,341.5 L90.0,340.0 L91.3,346.3 L86.0,355.3 L78.2,352.5 Z" fill="#2ec4ea" fill-opacity="1" filter="url(#bl12)"/>
<path d="M78.0,344.5 L81.0,342.5 L89.5,341.3 L90.2,346.5 L85.6,353.7 L79.5,351.5 Z" fill="#44e23e" fill-opacity="1" filter="url(#bl11)"/>
<ellipse cx="85.5" cy="346.6" rx="2.8" ry="2.6" transform="rotate(0 85.5 346.6)" fill="#e6ee22" fill-opacity="1" filter="url(#bl6)"/>
<ellipse cx="85.5" cy="346.6" rx="2.0" ry="1.9" transform="rotate(0 85.5 346.6)" fill="#f22a14" fill-opacity="1" filter="url(#bl4)"/>
<line x1="77.5" y1="326.7" x2="77.5" y2="380.2" stroke="#8e9898" stroke-width="1" />
<line x1="61.8" y1="356.5" x2="115.3" y2="356.5" stroke="#8e9898" stroke-width="1" />
</g>
<rect x="61.8" y="326.7" width="53.5" height="53.5" fill="none" stroke="#111" stroke-width="1.3"/>
<path d="M60.5 330.5h1.3M60.5 334.3h1.3M60.5 338.2h1.3M60.5 342.0h1.3M60.5 345.8h1.3M60.5 349.6h1.3M60.5 353.4h1.3M60.5 357.3h1.3M60.5 361.1h1.3M60.5 364.9h1.3M60.5 368.7h1.3M60.5 372.6h1.3M60.5 376.4h1.3M65.6 380.2v1.3M69.4 380.2v1.3M73.3 380.2v1.3M77.1 380.2v1.3M80.9 380.2v1.3M84.7 380.2v1.3M88.5 380.2v1.3M92.4 380.2v1.3M96.2 380.2v1.3M100.0 380.2v1.3M103.8 380.2v1.3M107.7 380.2v1.3M111.5 380.2v1.3" stroke="#222" stroke-width="0.7"/>
<text x="63.8" y="334.1" font-size="6.6" class="q" textLength="12.8" lengthAdjust="spacingAndGlyphs">5.44</text>
<text x="114.0" y="334.1" font-size="6.6" class="q" text-anchor="end" textLength="12.8" lengthAdjust="spacingAndGlyphs">82.9</text>
<text x="63.8" y="378.4" font-size="6.6" class="q" textLength="16.5" lengthAdjust="spacingAndGlyphs">0.516</text>
<text x="114.0" y="378.4" font-size="6.6" class="q" text-anchor="end" textLength="12.8" lengthAdjust="spacingAndGlyphs">11.1</text>
<clipPath id="cp16"><rect x="123.5" y="326.7" width="53.9" height="53.5"/></clipPath>
<g clip-path="url(#cp16)">
<path d="M156.7 341.9h.9M160.6 362.9h.9M145.6 349.8h.9M160.2 372.6h.9M143.6 359.3h.9M135.7 364.7h.9M139.7 363.3h.9M121.6 362.2h.9M154.3 359.0h.9M160.6 347.9h.9M156.1 358.7h.9M144.2 362.5h.9M158.3 336.1h.9M143.9 356.0h.9M151.9 357.1h.9M138.3 360.1h.9M152.6 349.1h.9M145.3 355.7h.9M136.9 357.1h.9M165.1 351.5h.9M149.7 363.5h.9M156.6 353.2h.9M129.8 365.7h.9M121.1 360.2h.9M154.1 364.5h.9M144.3 354.5h.9M137.8 367.6h.9M125.1 342.9h.9M137.5 354.7h.9M148.8 353.8h.9M143.9 350.5h.9M154.9 366.9h.9M124.8 369.7h.9M146.8 358.1h.9M152.4 362.5h.9M145.2 362.2h.9M123.7 361.9h.9M144.8 344.3h.9M137.1 363.6h.9M138.2 345.2h.9M140.5 350.3h.9M144.3 370.9h.9M165.4 356.9h.9M148.4 345.2h.9M150.7 362.9h.9M136.2 365.2h.9M136.4 358.6h.9M146.1 357.8h.9M146.6 362.2h.9M136.7 359.4h.9M150.8 368.6h.9M133.9 352.1h.9M138.2 341.8h.9M147.8 379.1h.9M136.5 353.2h.9M138.6 356.0h.9M133.8 379.4h.9M131.9 364.9h.9M153.6 358.6h.9M158.8 337.0h.9M111.1 364.6h.9M147.3 355.2h.9M145.6 347.8h.9M132.1 347.7h.9M143.3 363.8h.9M164.1 353.9h.9M124.7 367.6h.9M138.6 345.0h.9M150.5 334.9h.9M128.9 378.6h.9M137.2 362.6h.9M157.1 342.3h.9M144.5 370.4h.9M152.4 373.2h.9M170.2 380.8h.9M150.6 349.6h.9M152.3 349.0h.9M123.2 339.7h.9M143.3 356.2h.9M136.8 369.8h.9M141.4 348.0h.9M142.7 356.4h.9M149.5 356.2h.9M152.8 351.7h.9M141.3 363.6h.9M134.4 359.3h.9M144.8 368.8h.9M116.1 371.9h.9M139.1 357.7h.9M158.2 362.9h.9M127.5 353.2h.9M150.9 353.4h.9M146.9 367.1h.9M164.3 348.8h.9M125.4 348.1h.9M137.8 368.5h.9M145.6 371.7h.9M145.0 341.0h.9M147.1 349.1h.9M146.2 337.8h.9M151.2 344.7h.9M138.3 367.1h.9M140.2 346.2h.9M158.9 352.9h.9M153.5 355.8h.9M123.1 354.5h.9M147.0 355.0h.9M160.9 336.9h.9M134.8 364.3h.9M155.1 366.9h.9M132.4 360.8h.9M148.4 378.0h.9M166.4 362.6h.9M149.8 365.7h.9M141.6 360.2h.9M146.9 358.5h.9M150.2 357.0h.9M136.6 370.1h.9M153.0 348.1h.9M149.3 346.6h.9M146.3 348.5h.9M136.2 361.8h.9M132.8 365.7h.9M160.3 353.9h.9M134.6 361.5h.9M140.2 339.1h.9M166.4 351.1h.9M162.9 367.3h.9M150.1 361.6h.9M139.3 364.3h.9M136.3 361.5h.9M133.3 357.3h.9M111.4 350.4h.9M146.8 357.8h.9M146.1 363.0h.9M161.6 350.8h.9M103.4 362.9h.9M145.1 357.0h.9M150.6 375.5h.9M146.1 346.0h.9M150.8 348.6h.9M126.3 344.2h.9M142.8 340.6h.9M138.6 362.2h.9M117.8 371.3h.9M164.5 354.9h.9M141.7 353.9h.9M110.3 359.0h.9M126.2 354.9h.9M131.0 346.4h.9M134.7 344.5h.9M118.6 370.6h.9M130.7 367.3h.9M150.8 353.1h.9M143.1 357.3h.9M148.2 361.5h.9M139.6 356.2h.9M153.7 347.1h.9M124.4 332.1h.9M138.7 368.0h.9M165.2 349.8h.9M144.4 346.6h.9M143.8 354.6h.9M152.3 366.0h.9M147.3 357.6h.9M152.1 354.4h.9M156.6 373.9h.9M151.7 376.6h.9M135.8 362.5h.9M145.5 348.1h.9M146.2 354.9h.9M147.7 358.4h.9M150.2 353.0h.9M142.6 367.4h.9M156.6 358.7h.9M123.6 367.4h.9M149.5 344.2h.9M121.1 338.2h.9M125.2 377.6h.9M137.8 354.9h.9M150.6 374.0h.9M144.3 355.9h.9M153.8 372.3h.9M145.4 350.3h.9M131.0 366.8h.9M132.1 350.1h.9M119.1 342.4h.9M149.2 349.9h.9M150.9 354.9h.9M136.7 367.5h.9M144.0 352.9h.9M159.0 345.3h.9M130.2 357.0h.9M142.2 334.6h.9M139.2 353.7h.9M133.0 359.1h.9M119.3 361.7h.9M153.6 383.2h.9M128.3 367.8h.9M133.7 337.6h.9" stroke="#5577f5" stroke-opacity="0.45" stroke-width="0.9" fill="none"/>
<path d="M136.2 347.0h.9M131.1 346.9h.9M140.5 349.5h.9M140.0 351.1h.9M140.2 350.4h.9M125.6 352.8h.9M132.9 350.4h.9M137.6 350.7h.9M130.4 347.9h.9M128.1 349.0h.9M142.7 346.7h.9M138.7 357.0h.9M123.7 350.4h.9M139.1 349.3h.9M131.4 353.1h.9M135.3 351.1h.9M126.4 355.0h.9M153.6 349.1h.9M140.1 348.1h.9M147.2 351.9h.9M138.4 349.8h.9M127.7 351.1h.9M139.5 343.0h.9M137.3 342.9h.9M150.0 350.7h.9M140.7 347.2h.9M152.6 351.7h.9M137.3 349.5h.9M128.9 348.8h.9M133.5 345.5h.9M146.1 344.0h.9M140.0 355.1h.9M138.6 351.6h.9M132.6 346.1h.9M151.9 344.5h.9M140.1 345.9h.9M141.2 352.7h.9M146.7 350.3h.9M136.7 349.0h.9M136.6 349.9h.9M143.7 349.4h.9M134.6 359.1h.9M126.0 350.7h.9M158.4 345.1h.9M149.1 351.0h.9M145.8 352.8h.9M123.4 353.8h.9M133.5 344.3h.9M140.7 346.2h.9M134.8 351.4h.9M123.3 353.3h.9M143.2 350.6h.9M144.5 349.8h.9M149.8 348.5h.9M138.2 352.9h.9M140.6 344.1h.9M133.7 354.7h.9M131.8 344.4h.9M140.3 346.4h.9M147.6 347.7h.9M115.0 345.3h.9M126.8 347.4h.9M138.9 350.4h.9M144.4 346.9h.9M131.9 351.6h.9M140.6 353.4h.9M123.1 350.9h.9M140.0 352.2h.9M133.6 351.1h.9M121.1 346.1h.9M146.3 346.7h.9M139.1 358.7h.9M121.9 346.1h.9M137.4 351.3h.9M137.5 350.7h.9M125.5 348.9h.9M144.9 345.9h.9M134.4 350.0h.9M144.2 347.5h.9M147.9 351.2h.9M138.6 349.2h.9M130.5 345.4h.9M142.9 350.0h.9M143.5 353.0h.9M128.5 350.6h.9M130.3 342.8h.9M144.8 350.5h.9M137.0 354.9h.9M126.2 354.6h.9M131.8 351.4h.9M136.9 346.8h.9M123.5 354.2h.9M132.5 351.6h.9M132.1 351.0h.9M134.5 349.8h.9M143.5 356.6h.9M127.5 347.8h.9M139.6 348.7h.9M135.5 353.1h.9M136.2 346.1h.9M143.9 350.8h.9M140.2 350.7h.9M119.9 354.9h.9M129.7 354.6h.9M125.5 350.4h.9M138.7 347.8h.9M140.1 352.2h.9M131.5 352.6h.9M137.0 352.6h.9M129.2 347.7h.9M132.1 348.2h.9M132.8 352.2h.9M139.4 347.2h.9M134.5 352.0h.9M129.4 348.7h.9M132.2 346.4h.9M127.1 347.1h.9M142.1 348.6h.9M139.5 347.9h.9M123.1 348.0h.9M143.6 350.5h.9M131.6 351.3h.9M136.0 348.1h.9M130.8 351.2h.9M132.4 344.0h.9M138.8 345.3h.9M120.6 344.6h.9M117.1 354.9h.9M133.7 354.0h.9M138.9 348.8h.9M122.5 352.2h.9M134.2 349.5h.9M124.0 355.2h.9M128.6 351.3h.9M136.1 356.6h.9M150.6 351.9h.9M133.9 354.5h.9M143.9 343.7h.9M136.7 347.6h.9M147.6 356.3h.9M129.2 348.7h.9M128.7 352.3h.9M144.2 344.3h.9M122.2 352.6h.9M138.4 347.0h.9M139.9 354.5h.9M149.6 352.3h.9M130.8 353.4h.9M140.9 348.1h.9M149.5 355.7h.9M155.9 350.6h.9M133.4 349.4h.9M137.3 346.9h.9M124.2 357.0h.9M143.1 351.9h.9M145.3 348.0h.9M133.7 349.5h.9M148.8 349.8h.9M138.8 348.5h.9M140.4 352.5h.9" stroke="#5577f5" stroke-opacity="0.5" stroke-width="0.9" fill="none"/>
<path d="M152.3 345.0h.9M161.5 341.8h.9M148.7 351.5h.9M147.3 341.6h.9M154.4 352.6h.9M163.4 358.6h.9M154.5 358.5h.9M146.3 346.3h.9M144.8 355.5h.9M149.4 348.5h.9M150.4 348.6h.9M150.6 351.3h.9M157.3 345.2h.9M152.0 345.7h.9M148.3 356.7h.9M142.6 336.6h.9M144.0 354.5h.9M155.2 353.5h.9M146.6 346.4h.9M162.3 339.6h.9M142.2 338.9h.9M150.7 352.3h.9M156.3 346.3h.9M153.9 346.8h.9M150.2 355.2h.9M152.7 346.2h.9M152.3 348.3h.9M154.5 353.6h.9M152.2 350.0h.9M150.7 344.1h.9M161.7 344.8h.9M160.9 338.7h.9M160.8 340.7h.9M151.9 347.8h.9M152.4 347.3h.9M148.8 352.0h.9M150.8 341.1h.9M156.4 350.1h.9M149.0 339.7h.9M157.2 348.0h.9M151.4 343.4h.9M146.6 355.4h.9M154.3 342.9h.9M155.2 349.0h.9M153.0 337.1h.9M154.8 351.2h.9M146.9 350.3h.9M151.2 348.5h.9M147.2 351.8h.9M152.3 346.8h.9M153.7 341.2h.9M154.5 357.3h.9M155.4 347.2h.9M147.9 348.5h.9M152.0 345.5h.9M149.7 346.7h.9M155.4 347.7h.9M154.0 348.8h.9M140.2 361.4h.9M155.8 346.5h.9M152.3 353.0h.9M155.0 356.2h.9M145.1 348.1h.9M148.8 348.8h.9M153.9 349.7h.9M147.6 351.4h.9M157.1 348.3h.9M152.9 356.1h.9M156.9 344.6h.9M158.0 350.0h.9M147.6 343.6h.9M143.2 342.6h.9M152.4 352.7h.9M152.0 344.8h.9M150.8 343.6h.9M150.1 357.6h.9M152.7 340.8h.9M151.8 343.3h.9M147.0 342.2h.9M161.1 342.1h.9" stroke="#5577f5" stroke-opacity="0.45" stroke-width="0.9" fill="none"/>
<path d="M123.0,338.0 L146.0,338.0 L154.0,343.0 L148.0,348.0 L123.0,348.0 Z" fill="#5f7ef6" fill-opacity="0.75" filter="url(#bl15)"/>
<path d="M123.0,340.0 L144.0,340.0 L149.0,342.5 L144.0,345.5 L123.0,345.5 Z" fill="#2a4cf2" fill-opacity="0.8" filter="url(#bl10)"/>
<path d="M123.0,347.0 L145.0,347.0 L150.0,354.0 L123.0,354.0 Z" fill="#8aa2f8" fill-opacity="0.45" filter="url(#bl20)"/>
<path d="M123.0,354.0 L145.0,353.5 L146.0,381.0 L123.0,381.0 Z" fill="#5f7ef6" fill-opacity="0.8" filter="url(#bl15)"/>
<path d="M123.0,357.0 L144.0,357.0 L145.0,381.0 L123.0,381.0 Z" fill="#2a4cf2" fill-opacity="0.85" filter="url(#bl14)"/>
<ellipse cx="135.0" cy="365.0" rx="8.0" ry="6.0" transform="rotate(0 135.0 365.0)" fill="#2ec4ea" fill-opacity="0.6" filter="url(#bl20)"/>
<ellipse cx="135.0" cy="364.5" rx="6.5" ry="4.8" transform="rotate(0 135.0 364.5)" fill="#44e23e" fill-opacity="0.7" filter="url(#bl18)"/>
<path d="M145.0,358.0 L149.0,356.0 L153.5,360.0 L153.5,381.0 L145.0,381.0 Z" fill="#5f7ef6" fill-opacity="0.8" filter="url(#bl10)"/>
<path d="M145.5,359.0 L149.0,357.0 L153.0,361.0 L153.0,381.0 L145.5,381.0 Z" fill="#2a4cf2" fill-opacity="1" filter="url(#bl8)"/>
<path d="M146.2,361.0 L149.0,358.5 L152.2,362.0 L151.8,381.0 L146.5,381.0 Z" fill="#2ec4ea" fill-opacity="1" filter="url(#bl7)"/>
<path d="M146.6,361.5 L149.0,359.2 L151.6,362.5 L151.3,381.0 L147.0,381.0 Z" fill="#44e23e" fill-opacity="1" filter="url(#bl6)"/>
<ellipse cx="148.8" cy="365.5" rx="2.3" ry="6.0" transform="rotate(0 148.8 365.5)" fill="#e6ee22" fill-opacity="1" filter="url(#bl5)"/>
<ellipse cx="148.8" cy="365.5" rx="1.5" ry="4.2" transform="rotate(0 148.8 365.5)" fill="#f22a14" fill-opacity="1" filter="url(#bl4)"/>
<line x1="144.5" y1="326.7" x2="144.5" y2="380.2" stroke="#8e9898" stroke-width="1" />
<line x1="123.5" y1="354.5" x2="177.4" y2="354.5" stroke="#8e9898" stroke-width="1" />
</g>
<rect x="123.5" y="326.7" width="53.9" height="53.5" fill="none" stroke="#111" stroke-width="1.3"/>
<path d="M122.2 330.5h1.3M122.2 334.3h1.3M122.2 338.2h1.3M122.2 342.0h1.3M122.2 345.8h1.3M122.2 349.6h1.3M122.2 353.4h1.3M122.2 357.3h1.3M122.2 361.1h1.3M122.2 364.9h1.3M122.2 368.7h1.3M122.2 372.6h1.3M122.2 376.4h1.3M127.3 380.2v1.3M131.2 380.2v1.3M135.1 380.2v1.3M138.9 380.2v1.3M142.8 380.2v1.3M146.6 380.2v1.3M150.5 380.2v1.3M154.3 380.2v1.3M158.2 380.2v1.3M162.0 380.2v1.3M165.9 380.2v1.3M169.7 380.2v1.3M173.6 380.2v1.3" stroke="#222" stroke-width="0.7"/>
<text x="125.5" y="333.6" font-size="6.6" class="q" textLength="13.5" lengthAdjust="spacingAndGlyphs">5.36</text>
<text x="176.1" y="333.6" font-size="6.6" class="q" text-anchor="end" textLength="16.5" lengthAdjust="spacingAndGlyphs">0.815</text>
<rect x="124.2" y="372" width="9" height="7.6" fill="#fff"/>
<text x="125.5" y="378.4" font-size="6.6" class="q" textLength="7.5" lengthAdjust="spacingAndGlyphs">42</text>
<text x="176.1" y="378.4" font-size="6.6" class="q" text-anchor="end" textLength="12.5" lengthAdjust="spacingAndGlyphs">51.8</text>
<clipPath id="cp17"><rect x="184.8" y="326.7" width="54.7" height="53.5"/></clipPath>
<g clip-path="url(#cp17)">
<path d="M194.9 349.1h.9M215.3 369.6h.9M210.0 354.4h.9M199.7 348.9h.9M218.4 344.4h.9M210.6 342.3h.9M202.3 349.0h.9M213.0 334.3h.9M186.9 350.5h.9M204.8 357.3h.9M188.0 359.1h.9M209.8 348.6h.9M218.4 345.5h.9M215.3 362.3h.9M202.2 352.3h.9M198.7 352.4h.9M208.7 346.5h.9M203.2 353.6h.9M190.0 351.1h.9M205.1 364.1h.9M208.8 347.7h.9M202.5 356.0h.9M192.8 354.7h.9M194.7 359.2h.9M215.0 343.6h.9M212.3 357.4h.9M190.4 347.6h.9M202.7 358.8h.9M196.3 360.6h.9M214.9 349.3h.9M200.6 352.7h.9M208.3 355.2h.9M188.3 345.6h.9M187.5 360.9h.9M213.3 349.2h.9M210.6 341.1h.9M203.6 354.9h.9M186.5 351.1h.9M191.0 359.0h.9M202.4 347.3h.9M192.2 359.3h.9M205.0 345.6h.9M197.4 343.5h.9M216.2 346.7h.9M222.4 347.3h.9M193.6 348.3h.9M202.1 357.0h.9M229.7 366.7h.9M210.6 338.4h.9M220.1 366.7h.9M187.8 348.6h.9M208.0 369.5h.9M214.0 352.1h.9M179.0 359.6h.9M190.2 345.5h.9M188.1 355.5h.9M225.0 352.7h.9M213.3 344.5h.9M190.3 353.3h.9M185.1 343.0h.9M204.5 341.8h.9M208.8 370.5h.9M212.8 362.7h.9M194.7 348.7h.9M203.0 355.0h.9M191.1 344.3h.9M214.6 356.2h.9M222.8 365.0h.9M208.0 344.8h.9M196.3 342.2h.9M213.1 359.5h.9M219.6 346.2h.9M217.2 345.7h.9M203.9 345.5h.9M208.4 352.1h.9M204.3 330.9h.9M208.2 358.9h.9M213.8 339.6h.9M181.3 362.1h.9M203.6 347.1h.9M191.8 344.1h.9M191.1 343.9h.9M208.2 335.0h.9M221.9 361.6h.9M184.2 352.1h.9M205.2 358.4h.9M169.2 361.7h.9M219.4 345.2h.9M198.8 358.7h.9M207.0 366.0h.9M190.2 339.0h.9M201.2 351.0h.9M197.7 355.8h.9M195.8 355.3h.9M190.6 364.9h.9M212.7 352.0h.9M194.4 347.3h.9M193.0 337.6h.9M192.4 360.9h.9M199.4 359.1h.9M204.9 346.0h.9M190.5 347.1h.9M203.6 343.6h.9M195.5 340.5h.9M218.4 336.5h.9M208.4 339.7h.9M199.0 366.4h.9M194.8 354.1h.9M190.9 366.2h.9M217.2 363.7h.9M194.8 336.2h.9M189.4 336.7h.9M215.8 352.5h.9M200.7 342.7h.9M207.7 347.6h.9M197.1 352.4h.9M191.5 336.9h.9M214.6 366.0h.9M181.6 354.9h.9M186.2 344.7h.9M198.7 358.5h.9M184.0 363.2h.9M202.8 365.1h.9M193.5 330.5h.9M211.4 340.5h.9M230.3 353.3h.9M214.4 340.5h.9M201.5 352.0h.9M182.6 337.6h.9M204.7 354.7h.9M197.5 368.0h.9M218.8 332.6h.9M196.0 339.5h.9M190.6 345.6h.9M181.0 353.1h.9M216.9 362.3h.9M184.0 352.5h.9M208.4 346.0h.9M222.3 356.1h.9M217.3 351.1h.9M209.9 357.2h.9M191.7 334.6h.9M203.3 341.0h.9M213.3 340.3h.9M208.2 338.3h.9M224.9 352.2h.9M189.4 350.0h.9M204.2 327.6h.9M190.2 353.1h.9M193.2 346.7h.9M218.9 361.1h.9M204.7 354.0h.9M220.7 353.5h.9M186.0 352.0h.9M188.8 342.8h.9M203.3 349.5h.9M201.6 356.9h.9M200.0 352.1h.9M210.9 345.5h.9M199.8 347.3h.9M189.9 342.5h.9M207.7 350.9h.9M186.4 356.5h.9M210.9 358.5h.9M216.5 351.2h.9M209.2 348.3h.9M191.3 349.2h.9M207.7 352.4h.9M195.7 343.7h.9M195.8 346.3h.9M199.3 354.8h.9M201.3 330.1h.9M210.8 345.8h.9M224.4 366.5h.9M213.8 348.0h.9M201.8 337.0h.9M218.8 345.8h.9M213.9 353.5h.9M223.8 351.8h.9M203.1 345.6h.9M184.2 354.1h.9M194.9 359.0h.9M216.2 352.6h.9M228.3 353.6h.9M212.1 343.4h.9M210.5 349.4h.9M219.0 349.6h.9M178.5 358.2h.9M215.6 339.2h.9M202.5 353.7h.9M211.8 341.7h.9M194.0 345.6h.9M197.5 344.7h.9M205.1 337.7h.9M207.3 341.3h.9M196.9 344.2h.9M211.7 351.5h.9M196.9 353.3h.9M191.5 352.0h.9M204.9 350.5h.9M188.5 353.3h.9M209.0 353.5h.9M197.6 359.2h.9M223.0 360.9h.9M206.0 365.2h.9M194.4 334.5h.9M193.3 344.0h.9M196.0 348.8h.9M206.3 347.3h.9M191.6 347.1h.9M208.1 341.2h.9M186.8 346.0h.9M199.0 379.7h.9M205.9 344.7h.9M199.2 344.3h.9M211.0 369.5h.9M207.8 345.0h.9M205.1 373.8h.9M193.0 344.3h.9M197.4 346.2h.9M177.0 340.7h.9M199.5 356.9h.9M191.7 339.9h.9M199.1 338.0h.9M181.6 350.3h.9M206.6 346.1h.9M207.5 354.6h.9M211.5 347.8h.9M208.5 344.9h.9M204.9 357.6h.9M221.8 353.8h.9M197.6 345.1h.9M190.0 357.0h.9M216.4 343.3h.9M197.9 348.6h.9M186.5 339.0h.9M208.6 344.0h.9M209.2 353.3h.9M218.1 344.0h.9M218.5 346.1h.9M203.1 361.5h.9M197.3 339.8h.9M210.5 347.2h.9M185.6 361.6h.9M195.3 357.0h.9M202.1 343.0h.9M204.0 337.7h.9M215.2 341.0h.9M203.4 371.7h.9M200.2 350.0h.9M188.1 363.9h.9M205.4 352.0h.9M186.9 346.4h.9M201.2 346.1h.9M195.5 330.2h.9M190.8 369.2h.9M206.8 357.5h.9M189.3 361.4h.9M197.2 346.8h.9M204.7 348.8h.9" stroke="#5577f5" stroke-opacity="0.45" stroke-width="0.9" fill="none"/>
<path d="M203.0 335.6h.9M198.7 334.9h.9M216.7 332.8h.9M208.9 349.3h.9M196.0 341.0h.9M196.7 344.8h.9M202.4 344.7h.9M204.0 344.0h.9M190.8 345.7h.9M193.2 335.7h.9M200.8 340.7h.9M177.0 346.7h.9M197.9 344.6h.9M187.5 340.7h.9M192.9 341.5h.9M206.8 336.4h.9M194.8 339.7h.9M200.6 332.5h.9M203.1 338.4h.9M209.1 349.1h.9M195.3 338.2h.9M194.3 337.7h.9M205.5 353.5h.9M187.8 337.1h.9M199.0 343.3h.9M201.3 334.4h.9M204.2 339.9h.9M202.8 340.7h.9M186.6 347.3h.9M196.1 338.5h.9M186.9 339.5h.9M207.6 349.2h.9M203.5 338.6h.9M199.1 343.3h.9M193.1 339.8h.9M199.6 336.3h.9M195.7 335.3h.9M192.7 338.9h.9M200.9 345.3h.9M192.2 342.7h.9M209.6 329.0h.9M196.7 333.1h.9M207.7 344.8h.9M201.8 344.0h.9M184.7 349.0h.9M195.6 341.0h.9M186.0 342.4h.9M184.5 332.7h.9M216.7 340.5h.9M216.1 350.7h.9M208.2 330.1h.9M211.2 342.5h.9M193.2 354.5h.9M204.8 347.0h.9M189.3 340.1h.9M203.1 341.5h.9M182.3 343.0h.9M197.5 340.1h.9M200.5 338.9h.9M208.7 331.7h.9M192.0 345.3h.9M205.8 351.6h.9M206.1 334.9h.9M205.1 339.8h.9M209.2 347.8h.9M190.9 340.3h.9M199.3 334.8h.9M185.7 339.7h.9M203.8 350.4h.9M201.7 343.2h.9M194.6 350.1h.9M186.8 345.2h.9M206.6 350.4h.9M191.3 336.2h.9M194.9 346.7h.9M201.6 341.8h.9M205.3 341.8h.9M196.5 352.3h.9M194.9 343.8h.9M192.2 345.0h.9M193.1 346.3h.9M196.1 341.8h.9M216.5 346.0h.9M205.6 339.8h.9M195.3 346.8h.9M204.8 344.5h.9M207.0 329.1h.9M198.6 348.8h.9M203.2 349.0h.9M190.4 345.2h.9M191.6 332.6h.9M212.0 346.3h.9M210.4 338.0h.9M197.4 337.9h.9M208.0 338.7h.9M193.3 339.7h.9M194.0 338.2h.9M212.6 335.3h.9M190.9 333.9h.9M207.3 336.7h.9M204.0 350.6h.9M201.2 353.1h.9M193.2 356.9h.9M205.0 333.4h.9M202.9 339.8h.9M209.8 334.3h.9M205.7 333.0h.9M202.5 331.8h.9M178.0 344.7h.9M188.1 349.0h.9M198.8 338.2h.9M206.4 353.3h.9M194.5 337.8h.9M198.4 335.0h.9M194.8 335.8h.9M210.3 335.3h.9M208.9 348.5h.9M195.4 341.4h.9M190.1 351.5h.9M193.5 343.3h.9" stroke="#5577f5" stroke-opacity="0.4" stroke-width="0.9" fill="none"/>
<path d="M186.0,336.0 L208.0,337.0 L222.0,350.0 L215.0,356.0 L186.0,354.0 Z" fill="#8aa2f8" fill-opacity="0.35" filter="url(#bl30)"/>
<path d="M184.0,348.0 L200.0,346.5 L213.0,348.5 L213.0,360.0 L207.0,372.0 L208.0,381.0 L186.0,381.0 L184.0,372.0 Z" fill="#5f7ef6" fill-opacity="0.8" filter="url(#bl16)"/>
<path d="M184.0,350.0 L200.0,348.0 L212.0,350.0 L211.0,360.0 L206.0,371.0 L206.5,381.0 L188.0,381.0 L184.0,374.0 Z" fill="#2a4cf2" fill-opacity="1" filter="url(#bl12)"/>
<path d="M186.0,356.0 L200.0,352.0 L209.0,354.0 L206.0,363.0 L201.0,371.0 L197.0,371.0 L188.0,364.0 Z" fill="#2ec4ea" fill-opacity="0.9" filter="url(#bl12)"/>
<path d="M187.5,356.5 L200.0,353.0 L208.0,355.0 L205.5,363.0 L200.5,370.0 L197.5,370.0 L189.0,364.0 Z" fill="#44e23e" fill-opacity="1" filter="url(#bl10)"/>
<ellipse cx="202.0" cy="362.5" rx="4.6" ry="4.0" transform="rotate(-20 202.0 362.5)" fill="#e6ee22" fill-opacity="1" filter="url(#bl8)"/>
<ellipse cx="202.3" cy="362.5" rx="2.8" ry="2.6" transform="rotate(0 202.3 362.5)" fill="#f47a18" fill-opacity="1" filter="url(#bl6)"/>
<ellipse cx="202.3" cy="362.7" rx="1.6" ry="1.6" transform="rotate(0 202.3 362.7)" fill="#f22a14" fill-opacity="1" filter="url(#bl5)"/>
<path d="M210.0,354.0 L215.0,354.0 L216.0,381.0 L210.0,381.0 Z" fill="#5f7ef6" fill-opacity="0.85" filter="url(#bl10)"/>
<path d="M210.8,356.0 L214.5,356.0 L215.0,381.0 L211.0,381.0 Z" fill="#2a4cf2" fill-opacity="1" filter="url(#bl8)"/>
<ellipse cx="212.5" cy="364.5" rx="1.9" ry="5.2" transform="rotate(0 212.5 364.5)" fill="#2ec4ea" fill-opacity="1" filter="url(#bl6)"/>
<ellipse cx="212.5" cy="364.5" rx="1.5" ry="4.5" transform="rotate(0 212.5 364.5)" fill="#44e23e" fill-opacity="1" filter="url(#bl5)"/>
<line x1="209.5" y1="326.7" x2="209.5" y2="380.2" stroke="#707878" stroke-width="1" />
<line x1="184.8" y1="359.5" x2="239.5" y2="359.5" stroke="#707878" stroke-width="1" />
</g>
<rect x="184.8" y="326.7" width="54.7" height="53.5" fill="none" stroke="#111" stroke-width="1.3"/>
<path d="M183.5 330.5h1.3M183.5 334.3h1.3M183.5 338.2h1.3M183.5 342.0h1.3M183.5 345.8h1.3M183.5 349.6h1.3M183.5 353.4h1.3M183.5 357.3h1.3M183.5 361.1h1.3M183.5 364.9h1.3M183.5 368.7h1.3M183.5 372.6h1.3M183.5 376.4h1.3M188.7 380.2v1.3M192.6 380.2v1.3M196.5 380.2v1.3M200.4 380.2v1.3M204.3 380.2v1.3M208.2 380.2v1.3M212.2 380.2v1.3M216.1 380.2v1.3M220.0 380.2v1.3M223.9 380.2v1.3M227.8 380.2v1.3M231.7 380.2v1.3M235.6 380.2v1.3" stroke="#222" stroke-width="0.7"/>
<text x="186.8" y="333.6" font-size="6.6" class="q" textLength="13.0" lengthAdjust="spacingAndGlyphs">27.9</text>
<text x="238.2" y="333.6" font-size="6.6" class="q" text-anchor="end" textLength="12.5" lengthAdjust="spacingAndGlyphs">3.79</text>
<rect x="185.5" y="372" width="14" height="7.6" fill="#fff"/>
<text x="186.8" y="378.4" font-size="6.6" class="q" textLength="12.5" lengthAdjust="spacingAndGlyphs">60.1</text>
<text x="238.2" y="378.4" font-size="6.6" class="q" text-anchor="end" textLength="12.5" lengthAdjust="spacingAndGlyphs">9.03</text>
<clipPath id="cp18"><rect x="61.8" y="388.7" width="53.5" height="53.5"/></clipPath>
<g clip-path="url(#cp18)">
<ellipse cx="83.7" cy="414.0" rx="10.0" ry="10.0" transform="rotate(15 83.7 414.0)" fill="#8aa2f8" fill-opacity="0.35" filter="url(#bl30)"/>
<path d="M80.6 417.2h.9M88.8 417.8h.9M91.0 413.6h.9M83.7 404.2h.9M76.6 404.8h.9M89.5 413.8h.9M73.5 415.0h.9M89.7 424.6h.9M81.0 419.7h.9M81.0 434.7h.9M77.7 424.1h.9M80.9 411.0h.9M96.6 426.2h.9M90.3 414.1h.9M89.0 409.5h.9M78.3 409.4h.9M80.0 415.0h.9M83.0 410.6h.9M73.9 399.9h.9M96.1 418.1h.9M87.4 415.8h.9M72.1 410.6h.9M79.8 413.5h.9M84.7 411.0h.9M69.5 426.4h.9M80.9 420.3h.9M84.2 421.0h.9M86.8 410.9h.9M85.5 415.8h.9M80.6 407.1h.9M79.2 417.5h.9M76.5 403.0h.9M88.7 414.1h.9M79.5 410.7h.9M78.5 417.9h.9M95.5 420.5h.9M83.9 416.6h.9M86.8 420.6h.9M92.6 419.0h.9M85.8 422.8h.9M68.1 413.4h.9M88.5 420.1h.9M80.7 424.1h.9M81.7 415.5h.9M82.0 413.1h.9M89.4 410.7h.9M80.7 422.6h.9M75.9 418.4h.9M77.9 417.1h.9M72.3 416.8h.9M73.0 421.5h.9M82.2 409.0h.9M71.9 413.7h.9M81.1 427.7h.9M86.7 409.3h.9M89.3 416.0h.9M71.6 408.1h.9M75.6 409.0h.9M76.9 413.9h.9M81.2 403.1h.9M95.1 407.9h.9M74.7 412.9h.9M79.4 425.7h.9M71.6 401.8h.9M79.4 421.3h.9M75.6 418.1h.9M94.3 418.2h.9M77.5 423.8h.9M82.5 413.4h.9M94.8 406.2h.9M86.9 411.4h.9M75.2 408.2h.9M87.2 416.3h.9M92.6 406.2h.9M90.8 409.5h.9M75.5 420.6h.9M88.6 411.9h.9M95.6 424.3h.9M94.3 413.6h.9M82.0 429.1h.9M84.5 412.5h.9M77.1 422.0h.9M96.9 415.1h.9M77.9 419.4h.9M82.1 419.7h.9M91.3 400.5h.9M84.6 412.7h.9M84.6 412.9h.9M80.5 427.4h.9M80.4 413.9h.9M92.5 418.3h.9M88.7 408.8h.9M83.2 421.3h.9M76.7 410.5h.9M75.5 414.1h.9M72.4 415.2h.9M82.2 422.8h.9M76.0 417.1h.9M78.3 411.3h.9M75.8 417.9h.9M87.6 414.4h.9M76.9 426.4h.9M83.6 415.0h.9M72.9 416.7h.9M96.2 413.3h.9M87.7 429.4h.9M90.7 411.0h.9M75.0 411.7h.9M80.8 411.9h.9M85.6 409.0h.9M87.2 405.3h.9M75.4 427.4h.9M77.5 419.7h.9M87.7 415.4h.9M93.0 417.5h.9M83.6 415.8h.9M92.4 412.6h.9M91.4 418.5h.9M80.8 420.9h.9M100.3 402.7h.9M84.6 400.4h.9M80.8 413.7h.9M87.3 415.8h.9M71.9 411.0h.9M81.2 411.7h.9M82.3 417.3h.9M86.8 425.3h.9M86.5 417.5h.9M81.6 426.9h.9M91.4 414.2h.9M83.4 419.1h.9M93.4 419.7h.9M81.5 423.1h.9M81.9 411.4h.9M83.4 421.7h.9M94.9 409.3h.9M80.5 417.8h.9M77.7 408.3h.9M89.4 406.5h.9M81.5 417.1h.9M83.9 421.3h.9M73.3 409.9h.9M85.1 414.6h.9M77.7 423.4h.9M81.3 404.6h.9M86.3 418.8h.9M86.5 409.4h.9M82.0 415.6h.9M85.1 409.7h.9M82.0 413.8h.9M80.7 411.0h.9M88.2 421.2h.9M92.2 412.0h.9M86.0 415.3h.9M83.5 407.9h.9M75.8 429.4h.9M98.9 405.0h.9M90.2 415.5h.9M89.7 405.8h.9M89.7 428.9h.9M95.6 403.4h.9M83.2 413.8h.9M98.6 416.7h.9M79.8 421.2h.9M79.7 407.5h.9M82.6 422.9h.9M73.7 430.9h.9M90.4 419.9h.9M72.3 424.3h.9M74.3 407.9h.9M79.2 419.7h.9M89.8 433.3h.9M94.7 422.7h.9M88.9 415.8h.9M90.4 432.5h.9M78.8 409.2h.9M86.7 414.5h.9M80.9 407.3h.9M78.2 416.9h.9M81.9 418.9h.9M94.0 415.0h.9M85.7 412.5h.9M75.4 421.4h.9M82.1 411.4h.9M80.4 422.8h.9M87.3 413.9h.9M85.3 403.9h.9M86.3 425.2h.9M82.1 418.4h.9M82.9 418.8h.9M73.6 408.8h.9M90.7 416.9h.9M87.8 407.5h.9M84.8 414.3h.9M66.5 411.9h.9M90.8 425.6h.9M84.3 428.1h.9M78.2 422.4h.9M78.7 409.1h.9M87.7 409.5h.9M88.9 420.6h.9M77.5 413.0h.9M82.7 415.6h.9M97.0 415.8h.9M79.8 418.4h.9M82.1 415.7h.9M91.2 417.2h.9M83.4 421.8h.9M91.5 417.2h.9M83.5 427.2h.9M91.5 406.9h.9M91.3 418.8h.9M88.9 419.4h.9M81.7 414.9h.9M111.2 427.5h.9M80.0 433.7h.9M88.8 414.7h.9M93.1 422.7h.9M85.7 418.8h.9M90.8 406.7h.9M75.3 422.7h.9M92.9 409.8h.9M85.5 412.0h.9M83.3 415.2h.9M94.0 400.0h.9M76.5 408.8h.9M90.8 428.8h.9M63.4 402.3h.9M87.5 413.7h.9M83.2 416.5h.9M82.8 413.8h.9M81.2 417.5h.9M79.0 414.6h.9M89.7 418.9h.9M93.0 421.0h.9M90.3 427.5h.9M87.7 416.2h.9M72.5 428.4h.9M86.3 414.1h.9M72.6 417.8h.9M76.8 417.6h.9M85.4 414.6h.9M82.3 415.3h.9M95.0 404.6h.9M85.6 408.8h.9M84.4 424.2h.9M76.9 418.0h.9M79.6 428.2h.9M87.8 420.0h.9M85.7 423.1h.9M76.6 422.7h.9M72.4 429.4h.9M78.6 414.3h.9M92.5 412.5h.9M86.2 411.3h.9M83.3 423.5h.9M78.1 414.0h.9M86.8 412.5h.9M73.2 418.3h.9M92.8 407.2h.9M75.8 425.3h.9M79.1 413.4h.9M97.9 411.8h.9M77.8 422.5h.9M87.6 435.1h.9M85.5 412.9h.9M80.3 416.4h.9M80.7 422.6h.9M92.4 398.6h.9M85.0 419.7h.9M86.1 422.8h.9M90.5 414.4h.9M82.0 424.1h.9M77.7 413.4h.9M82.7 417.8h.9M79.4 415.5h.9M87.8 422.8h.9M76.9 411.8h.9M74.2 417.5h.9M86.2 419.4h.9M77.9 408.8h.9M77.7 425.4h.9M90.0 419.5h.9M90.1 414.2h.9M77.9 410.2h.9M83.3 414.0h.9M74.8 414.6h.9M76.3 422.6h.9M87.7 424.6h.9M83.6 414.2h.9M89.3 416.2h.9M69.7 420.8h.9M71.3 410.5h.9M79.4 426.2h.9M94.0 409.1h.9M89.3 419.9h.9M90.4 427.9h.9M81.3 412.7h.9M72.7 413.4h.9M78.5 403.2h.9" stroke="#5577f5" stroke-opacity="0.5" stroke-width="0.9" fill="none"/>
<path d="M81.1 419.6h.9M59.4 426.4h.9M67.5 427.5h.9M68.7 440.5h.9M67.7 434.1h.9M62.6 439.4h.9M70.0 431.3h.9M60.9 424.6h.9M71.6 421.6h.9M75.6 431.3h.9M44.3 431.1h.9M79.9 424.4h.9M74.8 439.9h.9M70.9 429.2h.9M85.9 432.1h.9M84.3 424.3h.9M70.4 433.1h.9M76.8 435.6h.9M79.8 428.2h.9M68.7 428.0h.9M78.3 435.0h.9M65.2 432.7h.9M68.8 426.4h.9M72.6 435.8h.9M68.5 424.6h.9M88.5 444.4h.9M64.1 427.6h.9M71.4 430.3h.9M69.1 428.9h.9M74.8 421.4h.9M65.3 438.7h.9M68.8 436.6h.9M68.9 426.8h.9M60.6 432.4h.9M74.1 412.7h.9M66.4 438.7h.9M79.9 433.8h.9M63.8 431.9h.9M64.2 429.4h.9M78.5 437.0h.9M56.8 436.5h.9M88.0 424.7h.9M72.0 435.7h.9M71.3 435.4h.9M72.5 434.4h.9M97.6 437.4h.9M70.2 425.6h.9M75.4 423.9h.9M59.6 426.4h.9M73.2 427.4h.9M73.4 424.1h.9M81.1 431.3h.9M70.3 424.6h.9M70.3 427.6h.9M69.6 421.6h.9M77.5 430.5h.9M86.7 436.1h.9M59.5 425.5h.9M76.0 432.0h.9M73.1 429.3h.9M77.2 437.4h.9M60.5 429.8h.9M61.2 421.8h.9M63.4 435.5h.9M84.6 439.4h.9M74.0 428.5h.9M71.2 432.7h.9M67.4 429.5h.9M64.0 427.3h.9M72.6 430.4h.9M76.1 437.5h.9M78.1 433.7h.9M65.2 435.7h.9M91.0 428.0h.9M52.3 418.8h.9M82.2 434.9h.9M72.3 429.0h.9M84.6 427.0h.9M77.9 428.5h.9M78.8 437.7h.9M78.1 436.6h.9M69.5 433.2h.9M77.9 441.7h.9M74.0 432.2h.9M66.6 432.5h.9M57.2 428.4h.9M83.9 426.3h.9M69.2 434.4h.9M64.8 432.0h.9M62.6 427.8h.9M82.5 422.5h.9M54.7 420.3h.9M77.4 427.1h.9M84.3 420.1h.9M74.5 416.9h.9M91.9 434.3h.9M68.5 426.8h.9M71.3 417.4h.9M53.1 422.3h.9M66.7 422.8h.9M84.2 416.6h.9M77.0 423.3h.9M69.2 425.8h.9M73.3 432.7h.9M60.8 437.5h.9M63.2 420.8h.9M70.0 435.1h.9M75.0 427.9h.9M85.0 423.2h.9M64.1 439.9h.9M82.8 427.2h.9M72.4 426.8h.9M74.2 429.5h.9M62.0 422.3h.9M70.7 425.6h.9M67.0 427.4h.9M70.4 440.0h.9M74.4 426.3h.9M75.4 422.5h.9M63.1 431.1h.9M63.6 424.1h.9M85.5 440.2h.9M80.0 423.3h.9M56.1 424.7h.9M60.2 424.9h.9M67.6 432.0h.9M91.4 424.1h.9M69.2 420.5h.9M84.8 435.5h.9M74.7 425.1h.9M70.2 431.7h.9M51.2 430.0h.9M76.4 423.9h.9M82.6 426.6h.9M76.4 435.1h.9M77.4 422.6h.9M74.5 433.6h.9M67.0 423.3h.9M72.4 434.1h.9M84.5 438.5h.9M75.5 419.4h.9M71.1 427.8h.9M84.3 434.4h.9M60.3 421.7h.9M73.0 423.7h.9M55.7 419.8h.9M83.7 432.3h.9M61.3 428.7h.9M66.6 424.9h.9M81.1 437.6h.9M81.4 427.6h.9M83.1 421.3h.9M54.8 425.7h.9M66.9 434.9h.9M61.7 430.4h.9M74.2 432.2h.9M66.9 427.4h.9M63.6 429.2h.9M64.5 433.0h.9M73.9 429.2h.9M72.7 430.6h.9M79.0 436.6h.9M54.6 437.5h.9M74.9 435.2h.9M81.5 427.4h.9M63.8 435.8h.9M87.9 426.8h.9M56.6 435.4h.9M79.8 429.1h.9M61.3 440.9h.9M68.7 431.3h.9M66.0 438.8h.9M74.7 437.5h.9M79.4 433.9h.9M69.8 428.0h.9M65.9 427.9h.9M59.1 433.4h.9M81.4 430.5h.9M47.1 425.1h.9M53.4 427.9h.9M85.1 421.8h.9M66.7 429.6h.9M71.0 432.6h.9M80.5 432.7h.9M68.5 420.9h.9M72.5 426.0h.9M73.2 431.1h.9M64.2 430.0h.9M71.2 419.9h.9M68.4 434.1h.9M53.8 429.7h.9M82.9 423.7h.9M68.5 421.4h.9M85.5 431.5h.9M73.5 430.1h.9M72.5 435.0h.9M73.1 420.7h.9M76.4 446.0h.9M82.6 431.0h.9M73.7 427.4h.9" stroke="#5577f5" stroke-opacity="0.5" stroke-width="0.9" fill="none"/>
<path d="M61.8,418.4 L77.7,416.9 L93.7,415.9 L90.2,442.2 L61.8,442.2 Z" fill="#5f7ef6" fill-opacity="0.75" filter="url(#bl18)"/>
<path d="M61.8,420.9 L77.7,418.9 L92.2,417.4 L89.2,442.2 L61.8,442.2 Z" fill="#2a4cf2" fill-opacity="0.9" filter="url(#bl15)"/>
<path d="M72.7,425.0 L78.7,421.0 L88.7,419.5 L89.2,427.0 L85.2,441.5 L80.7,441.5 L75.7,432.0 Z" fill="#2ec4ea" fill-opacity="1" filter="url(#bl12)"/>
<path d="M74.2,425.0 L79.2,421.8 L87.9,420.4 L88.3,427.0 L84.7,439.5 L81.2,439.5 L76.7,431.0 Z" fill="#44e23e" fill-opacity="1" filter="url(#bl10)"/>
<ellipse cx="83.7" cy="426.3" rx="3.8" ry="4.6" transform="rotate(0 83.7 426.3)" fill="#e6ee22" fill-opacity="1" filter="url(#bl9)"/>
<ellipse cx="83.7" cy="426.0" rx="2.8" ry="3.2" transform="rotate(0 83.7 426.0)" fill="#f47a18" fill-opacity="1" filter="url(#bl6)"/>
<ellipse cx="83.7" cy="426.0" rx="2.2" ry="2.6" transform="rotate(0 83.7 426.0)" fill="#f22a14" fill-opacity="1" filter="url(#bl5)"/>
<line x1="78.5" y1="388.7" x2="78.5" y2="442.2" stroke="#b8c2c2" stroke-width="1" />
<line x1="61.8" y1="416.5" x2="115.3" y2="416.5" stroke="#b8c2c2" stroke-width="1" />
</g>
<rect x="61.8" y="388.7" width="53.5" height="53.5" fill="none" stroke="#111" stroke-width="1.3"/>
<path d="M60.5 392.5h1.3M60.5 396.3h1.3M60.5 400.2h1.3M60.5 404.0h1.3M60.5 407.8h1.3M60.5 411.6h1.3M60.5 415.4h1.3M60.5 419.3h1.3M60.5 423.1h1.3M60.5 426.9h1.3M60.5 430.7h1.3M60.5 434.6h1.3M60.5 438.4h1.3M65.6 442.2v1.3M69.4 442.2v1.3M73.3 442.2v1.3M77.1 442.2v1.3M80.9 442.2v1.3M84.7 442.2v1.3M88.5 442.2v1.3M92.4 442.2v1.3M96.2 442.2v1.3M100.0 442.2v1.3M103.8 442.2v1.3M107.7 442.2v1.3M111.5 442.2v1.3" stroke="#222" stroke-width="0.7"/>
<text x="63.8" y="395.6" font-size="6.6" class="q" textLength="17.0" lengthAdjust="spacingAndGlyphs">0.156</text>
<text x="114.0" y="395.6" font-size="6.6" class="q" text-anchor="end" textLength="12.0" lengthAdjust="spacingAndGlyphs">1.02</text>
<rect x="62.5" y="433.5" width="14" height="8" fill="#fff"/>
<text x="63.8" y="440.4" font-size="6.6" class="q" textLength="12.5" lengthAdjust="spacingAndGlyphs">20.1</text>
<text x="114.0" y="440.4" font-size="6.6" class="q" text-anchor="end" textLength="12.5" lengthAdjust="spacingAndGlyphs">78.7</text>
<clipPath id="cp19"><rect x="123.7" y="388.7" width="53.7" height="53.5"/></clipPath>
<g clip-path="url(#cp19)">
<ellipse cx="143.3" cy="414.0" rx="11.0" ry="10.0" transform="rotate(15 143.3 414.0)" fill="#8aa2f8" fill-opacity="0.35" filter="url(#bl30)"/>
<path d="M138.1 413.3h.9M141.6 416.1h.9M139.7 407.5h.9M140.0 419.0h.9M149.9 418.8h.9M139.9 421.9h.9M146.2 423.2h.9M142.7 426.6h.9M142.5 417.3h.9M144.1 416.4h.9M138.1 422.6h.9M143.1 425.1h.9M139.7 409.1h.9M126.9 413.6h.9M148.9 414.1h.9M152.4 418.4h.9M144.8 406.4h.9M141.8 409.1h.9M152.2 408.6h.9M144.5 412.1h.9M149.6 425.0h.9M149.3 425.4h.9M122.7 417.2h.9M135.1 420.6h.9M139.2 430.5h.9M145.5 418.4h.9M159.1 404.4h.9M142.7 420.2h.9M140.2 420.4h.9M134.1 422.2h.9M135.8 422.3h.9M138.4 426.3h.9M139.6 420.8h.9M136.9 422.3h.9M120.3 400.1h.9M139.8 424.6h.9M152.7 424.0h.9M141.9 408.0h.9M144.8 419.3h.9M139.9 420.3h.9M146.3 408.9h.9M153.2 405.6h.9M139.9 416.5h.9M140.1 410.2h.9M153.6 412.2h.9M137.3 411.0h.9M147.1 416.1h.9M139.6 419.6h.9M157.2 411.0h.9M134.4 423.4h.9M154.5 410.9h.9M139.5 421.6h.9M143.5 422.8h.9M146.6 416.5h.9M142.4 422.4h.9M143.4 411.9h.9M145.0 411.2h.9M153.0 413.4h.9M144.3 420.9h.9M138.0 415.0h.9M152.8 424.0h.9M143.5 401.7h.9M145.1 422.7h.9M138.1 419.4h.9M144.2 424.2h.9M151.7 419.0h.9M131.1 434.1h.9M142.6 417.3h.9M132.8 415.0h.9M149.1 407.1h.9M146.8 421.1h.9M145.1 427.1h.9M135.3 416.5h.9M143.2 404.2h.9M140.5 419.5h.9M148.1 420.9h.9M142.3 420.9h.9M153.2 414.8h.9M135.3 421.5h.9M158.5 405.9h.9M139.8 421.8h.9M139.9 411.0h.9M147.9 424.3h.9M148.2 422.9h.9M141.3 410.8h.9M150.8 413.4h.9M154.1 419.0h.9M146.7 416.1h.9M135.3 400.8h.9M141.0 414.6h.9M142.8 422.1h.9M138.7 411.3h.9M146.2 407.0h.9M150.6 416.0h.9M153.2 423.9h.9M155.0 416.1h.9M148.2 429.8h.9M145.4 416.9h.9M140.0 413.4h.9M155.7 421.7h.9M148.0 403.7h.9M145.2 404.4h.9M135.9 429.6h.9M150.0 428.4h.9M151.9 401.8h.9M135.6 431.8h.9M136.1 416.6h.9M150.2 422.6h.9M145.7 405.8h.9M144.0 416.3h.9M152.5 408.8h.9M155.4 420.6h.9M142.7 414.4h.9M157.0 424.0h.9M130.7 407.0h.9M144.3 420.1h.9M137.2 406.6h.9M139.7 422.5h.9M138.4 425.8h.9M144.9 414.6h.9M123.8 408.3h.9M144.5 418.9h.9M152.4 424.3h.9M143.3 415.2h.9M149.9 424.3h.9M144.8 426.3h.9M143.8 392.1h.9M151.9 426.4h.9M147.1 424.3h.9M144.8 419.0h.9M142.2 417.5h.9M130.5 412.2h.9M139.2 426.1h.9M151.8 415.6h.9M146.4 407.0h.9M141.3 421.5h.9M131.8 407.4h.9M132.1 431.4h.9M143.0 416.6h.9M149.2 425.0h.9M131.5 413.3h.9M145.4 431.3h.9M129.8 410.7h.9M141.7 412.2h.9M152.3 414.3h.9M146.5 426.2h.9M126.5 411.4h.9M147.9 403.5h.9M138.7 414.5h.9M157.6 413.0h.9M148.5 421.8h.9M139.3 425.6h.9M140.5 399.3h.9M132.9 411.1h.9M149.3 417.2h.9M155.1 417.2h.9M126.9 408.5h.9M136.2 418.8h.9M126.5 412.3h.9M141.4 407.7h.9M143.7 416.6h.9M132.4 425.0h.9M150.0 411.9h.9M145.4 416.4h.9M142.4 403.3h.9M140.7 410.2h.9M135.7 407.9h.9M137.5 408.5h.9M152.7 407.0h.9M137.5 423.4h.9M151.2 410.4h.9M146.5 414.4h.9M141.9 417.6h.9M149.0 415.6h.9M142.3 413.2h.9M155.7 421.1h.9M136.9 419.4h.9M149.4 412.6h.9M148.0 427.9h.9M142.7 407.6h.9M137.8 411.8h.9M142.1 417.9h.9M144.5 413.3h.9M131.4 414.1h.9M148.2 414.1h.9M142.3 414.9h.9M155.1 410.7h.9M145.7 411.9h.9M146.4 407.3h.9M147.9 418.8h.9M140.4 414.9h.9M152.8 429.1h.9M153.8 411.6h.9M151.9 404.4h.9M147.9 423.8h.9M142.7 420.4h.9M150.1 411.4h.9M144.6 398.1h.9M143.5 418.4h.9M135.9 411.4h.9M142.0 417.4h.9M143.5 416.4h.9M119.8 421.5h.9M148.3 417.3h.9M151.8 420.4h.9M158.1 409.8h.9M173.1 410.2h.9M140.4 408.0h.9M146.0 424.1h.9M157.8 414.7h.9M139.6 423.0h.9M132.4 409.8h.9M153.9 407.6h.9M152.3 407.0h.9M142.7 407.8h.9M153.8 423.3h.9M142.9 413.6h.9M132.0 409.5h.9M151.5 409.0h.9M137.9 424.1h.9M142.6 418.6h.9M136.2 421.7h.9M131.2 421.4h.9M144.4 420.5h.9M135.8 419.4h.9M174.4 412.9h.9M126.8 411.3h.9M150.9 410.5h.9M143.4 418.5h.9M144.9 421.0h.9M137.4 423.1h.9M151.5 405.1h.9M135.0 413.4h.9M152.8 401.4h.9M137.5 408.1h.9M146.8 419.9h.9M149.3 406.5h.9M140.1 427.4h.9M145.4 416.9h.9M127.4 419.0h.9M123.1 422.7h.9M146.8 418.8h.9M145.0 422.9h.9M151.7 411.9h.9M152.4 424.2h.9M154.8 400.6h.9M152.6 423.2h.9M147.6 406.7h.9M145.5 415.3h.9M144.5 415.3h.9M134.0 418.2h.9M147.5 420.6h.9M152.1 413.8h.9M144.4 410.9h.9M143.4 416.4h.9M136.2 426.6h.9M141.5 430.2h.9M154.1 412.3h.9M147.2 415.5h.9M140.3 402.3h.9M139.6 408.6h.9M148.0 414.0h.9M137.6 422.2h.9M152.1 412.5h.9M134.0 424.4h.9M153.4 416.4h.9M158.2 405.0h.9M137.0 421.9h.9M136.4 420.8h.9M145.1 421.4h.9M147.7 414.7h.9M136.4 413.2h.9M148.9 415.9h.9M142.8 415.7h.9M141.4 423.9h.9M141.8 423.3h.9M155.4 412.8h.9M142.9 419.0h.9M131.7 409.5h.9M154.2 414.3h.9M146.0 424.8h.9M143.1 405.8h.9M141.6 413.1h.9M149.1 408.9h.9M144.8 422.0h.9M138.1 416.1h.9M151.9 416.0h.9M146.8 413.2h.9M135.0 419.9h.9M149.5 403.9h.9M144.3 419.9h.9M145.5 415.8h.9M151.9 423.9h.9M137.3 414.6h.9M148.0 408.1h.9M144.0 432.8h.9M149.2 405.2h.9M146.2 421.0h.9M154.9 418.1h.9M135.8 414.5h.9" stroke="#5577f5" stroke-opacity="0.5" stroke-width="0.9" fill="none"/>
<path d="M140.3 430.6h.9M124.4 433.3h.9M134.8 424.5h.9M126.0 431.5h.9M138.6 431.3h.9M125.1 418.0h.9M124.1 422.2h.9M130.4 423.7h.9M134.6 421.5h.9M133.7 438.2h.9M129.7 424.0h.9M133.6 441.7h.9M127.6 422.6h.9M142.7 429.9h.9M118.5 425.8h.9M141.6 421.8h.9M124.1 437.5h.9M126.9 422.0h.9M130.4 436.6h.9M115.9 436.6h.9M133.6 432.7h.9M137.2 429.4h.9M114.0 429.7h.9M137.2 443.0h.9M126.2 423.4h.9M139.1 422.9h.9M128.0 425.7h.9M125.2 427.7h.9M130.2 420.4h.9M123.9 433.4h.9M131.0 423.9h.9M126.2 434.7h.9M135.0 416.2h.9M140.4 435.2h.9M127.6 433.1h.9M135.2 444.5h.9M128.0 412.0h.9M132.7 430.6h.9M106.7 428.8h.9M137.3 431.4h.9M129.2 426.6h.9M127.5 433.9h.9M140.6 430.1h.9M124.6 429.0h.9M121.0 429.3h.9M139.9 428.7h.9M138.4 419.1h.9M152.6 432.4h.9M124.4 429.0h.9M120.3 430.0h.9M123.5 438.4h.9M138.6 432.9h.9M127.0 424.7h.9M123.9 438.2h.9M119.5 431.1h.9M127.5 430.1h.9M136.2 435.0h.9M138.6 431.0h.9M124.4 424.4h.9M126.4 432.3h.9M139.0 431.5h.9M139.4 430.5h.9M123.4 424.9h.9M143.5 432.4h.9M133.2 428.4h.9M135.4 431.5h.9M126.5 430.1h.9M126.4 426.2h.9M132.3 423.7h.9M137.9 427.8h.9M139.7 423.9h.9M123.3 441.4h.9M144.6 431.7h.9M144.9 433.3h.9M135.5 432.1h.9M145.4 436.2h.9M120.7 430.9h.9M116.1 427.9h.9M129.3 434.4h.9M139.2 427.9h.9M131.6 437.2h.9M131.8 426.8h.9M129.4 438.9h.9M132.3 431.3h.9M131.4 433.1h.9M130.8 437.3h.9M144.2 432.0h.9M117.6 437.4h.9M133.4 430.5h.9M111.9 433.9h.9M135.2 411.9h.9M136.8 445.7h.9M145.5 432.4h.9M129.7 426.4h.9M146.1 434.3h.9M125.8 422.3h.9M137.1 427.8h.9M149.2 436.0h.9M133.1 433.8h.9M135.0 424.5h.9M136.3 436.9h.9M126.8 427.7h.9M135.2 429.0h.9M142.9 435.2h.9M141.1 431.8h.9M130.7 438.4h.9M136.1 433.1h.9M144.2 425.7h.9M117.5 428.2h.9M134.8 436.2h.9M129.7 427.5h.9M126.2 429.6h.9M127.8 438.1h.9M154.6 429.4h.9M132.2 428.4h.9M134.1 425.9h.9M130.5 426.2h.9M130.5 426.3h.9M138.3 423.7h.9M144.4 431.0h.9M120.6 422.0h.9M124.6 420.9h.9M131.1 442.6h.9M130.2 434.2h.9M133.2 429.0h.9M148.0 432.9h.9M120.0 430.5h.9M120.3 428.9h.9M133.0 437.9h.9M133.4 425.9h.9M133.3 432.6h.9M125.3 429.3h.9M141.9 445.3h.9M135.8 425.8h.9M139.6 426.0h.9M125.1 429.1h.9M116.1 451.9h.9M134.6 430.4h.9M137.7 423.1h.9M107.5 433.2h.9M137.9 429.6h.9M124.8 432.1h.9M126.1 437.4h.9M131.0 434.5h.9M115.6 425.2h.9M124.6 432.5h.9M123.1 426.1h.9M119.9 428.1h.9M116.3 423.1h.9M136.0 434.1h.9M146.4 437.0h.9M143.6 433.5h.9M125.0 424.9h.9M138.5 436.1h.9M123.1 436.2h.9M132.5 432.7h.9M123.0 417.7h.9M119.5 428.2h.9M138.2 428.5h.9M142.7 422.8h.9M146.4 431.8h.9M126.3 427.4h.9M139.9 424.0h.9M120.3 430.0h.9M137.0 428.8h.9M129.0 436.8h.9M131.3 430.1h.9M147.2 440.0h.9M123.1 424.1h.9M121.1 433.5h.9M136.8 428.3h.9M130.0 425.6h.9M133.7 435.8h.9M119.0 426.2h.9M138.4 431.7h.9M129.0 429.1h.9M107.6 422.7h.9M128.4 428.4h.9M124.1 428.4h.9M131.0 422.9h.9M131.2 430.1h.9M131.1 431.9h.9M137.9 442.2h.9M110.5 442.3h.9M132.3 434.2h.9M128.8 431.9h.9M127.8 429.7h.9M149.9 432.7h.9M122.4 437.2h.9M129.4 423.6h.9M119.3 434.8h.9M131.5 434.1h.9M117.4 422.0h.9M129.7 433.6h.9M127.4 437.7h.9M130.0 423.9h.9M136.3 434.0h.9M135.2 431.7h.9M118.4 432.9h.9M128.5 420.9h.9" stroke="#5577f5" stroke-opacity="0.5" stroke-width="0.9" fill="none"/>
<path d="M123.7,417.7 L136.7,416.2 L154.3,415.2 L150.5,442.2 L123.7,442.2 Z" fill="#5f7ef6" fill-opacity="0.75" filter="url(#bl18)"/>
<path d="M123.7,420.2 L136.7,418.2 L152.7,416.7 L149.4,442.2 L123.7,442.2 Z" fill="#2a4cf2" fill-opacity="0.9" filter="url(#bl15)"/>
<path d="M131.2,425.0 L137.8,421.0 L148.8,419.5 L149.4,427.0 L145.0,441.5 L140.0,441.5 L134.5,432.0 Z" fill="#2ec4ea" fill-opacity="1" filter="url(#bl12)"/>
<path d="M132.9,425.0 L138.4,421.8 L147.9,420.4 L148.4,427.0 L144.4,439.5 L140.6,439.5 L135.6,431.0 Z" fill="#44e23e" fill-opacity="1" filter="url(#bl10)"/>
<ellipse cx="143.3" cy="426.3" rx="4.2" ry="5.1" transform="rotate(0 143.3 426.3)" fill="#e6ee22" fill-opacity="1" filter="url(#bl9)"/>
<ellipse cx="143.3" cy="426.0" rx="3.1" ry="3.5" transform="rotate(0 143.3 426.0)" fill="#f47a18" fill-opacity="1" filter="url(#bl6)"/>
<ellipse cx="143.3" cy="426.0" rx="2.4" ry="2.9" transform="rotate(0 143.3 426.0)" fill="#f22a14" fill-opacity="1" filter="url(#bl5)"/>
<line x1="139.5" y1="388.7" x2="139.5" y2="442.2" stroke="#b8c2c2" stroke-width="1" />
<line x1="123.7" y1="416.5" x2="177.4" y2="416.5" stroke="#b8c2c2" stroke-width="1" />
</g>
<rect x="123.7" y="388.7" width="53.7" height="53.5" fill="none" stroke="#111" stroke-width="1.3"/>
<path d="M122.4 392.5h1.3M122.4 396.3h1.3M122.4 400.2h1.3M122.4 404.0h1.3M122.4 407.8h1.3M122.4 411.6h1.3M122.4 415.4h1.3M122.4 419.3h1.3M122.4 423.1h1.3M122.4 426.9h1.3M122.4 430.7h1.3M122.4 434.6h1.3M122.4 438.4h1.3M127.5 442.2v1.3M131.4 442.2v1.3M135.2 442.2v1.3M139.0 442.2v1.3M142.9 442.2v1.3M146.7 442.2v1.3M150.6 442.2v1.3M154.4 442.2v1.3M158.2 442.2v1.3M162.1 442.2v1.3M165.9 442.2v1.3M169.7 442.2v1.3M173.6 442.2v1.3" stroke="#222" stroke-width="0.7"/>
<text x="125.7" y="395.6" font-size="6.6" class="q" textLength="17.0" lengthAdjust="spacingAndGlyphs">0.201</text>
<text x="176.1" y="395.6" font-size="6.6" class="q" text-anchor="end" textLength="16.0" lengthAdjust="spacingAndGlyphs">0.561</text>
<rect x="124.4" y="433.5" width="14" height="8" fill="#fff"/>
<text x="125.7" y="440.4" font-size="6.6" class="q" textLength="12.5" lengthAdjust="spacingAndGlyphs">29.1</text>
<text x="176.1" y="440.4" font-size="6.6" class="q" text-anchor="end" textLength="12.5" lengthAdjust="spacingAndGlyphs">70.1</text>
<clipPath id="cp20"><rect x="185.2" y="388.7" width="53.9" height="53.5"/></clipPath>
<g clip-path="url(#cp20)">
<ellipse cx="208.0" cy="412.5" rx="10.0" ry="10.0" transform="rotate(15 208.0 412.5)" fill="#8aa2f8" fill-opacity="0.35" filter="url(#bl30)"/>
<path d="M207.7 413.9h.9M205.0 420.2h.9M201.1 409.5h.9M217.5 413.6h.9M217.8 419.3h.9M213.4 422.9h.9M194.6 417.8h.9M217.6 401.6h.9M194.8 415.6h.9M202.7 411.5h.9M204.9 411.3h.9M209.3 412.9h.9M211.7 411.4h.9M206.2 417.2h.9M200.2 415.3h.9M210.0 410.3h.9M213.2 410.5h.9M208.2 416.5h.9M209.1 414.3h.9M195.8 419.0h.9M219.7 397.0h.9M202.9 412.2h.9M208.4 407.5h.9M205.0 412.7h.9M198.2 418.1h.9M216.7 412.4h.9M206.9 413.3h.9M201.0 405.5h.9M209.6 419.1h.9M191.1 406.7h.9M213.4 425.2h.9M218.0 413.5h.9M205.6 429.2h.9M206.1 409.1h.9M204.1 425.4h.9M210.0 420.7h.9M202.2 420.1h.9M205.4 423.0h.9M199.8 425.1h.9M201.4 414.6h.9M203.6 427.1h.9M207.5 414.8h.9M202.1 413.5h.9M207.3 413.8h.9M207.1 416.9h.9M216.4 416.2h.9M209.3 414.7h.9M204.1 422.0h.9M198.3 413.7h.9M212.1 398.6h.9M205.9 415.8h.9M212.6 419.9h.9M217.0 434.0h.9M201.7 411.8h.9M203.3 419.3h.9M217.8 414.4h.9M208.7 419.3h.9M216.2 422.0h.9M197.7 419.6h.9M216.2 413.4h.9M202.0 422.0h.9M205.5 417.5h.9M222.0 406.3h.9M206.8 419.6h.9M204.1 419.4h.9M202.8 419.7h.9M199.4 432.5h.9M215.5 413.1h.9M221.0 412.4h.9M206.3 409.3h.9M208.2 410.5h.9M196.4 398.1h.9M211.3 416.9h.9M209.7 405.1h.9M203.8 403.3h.9M212.2 409.4h.9M200.1 410.7h.9M204.3 421.1h.9M199.0 409.0h.9M211.4 401.3h.9M205.9 415.4h.9M207.7 420.6h.9M205.4 417.0h.9M210.6 426.2h.9M214.1 422.0h.9M209.9 408.3h.9M207.7 416.6h.9M202.0 404.7h.9M207.2 411.1h.9M209.6 411.5h.9M208.4 406.5h.9M200.3 415.9h.9M210.6 408.5h.9M201.2 409.6h.9M193.1 425.0h.9M200.4 404.7h.9M211.0 414.6h.9M222.8 414.1h.9M215.5 414.8h.9M220.5 411.9h.9M213.6 414.4h.9M200.7 406.8h.9M217.6 416.1h.9M217.1 405.0h.9M192.9 425.6h.9M191.3 418.0h.9M199.0 411.9h.9M193.2 413.7h.9M197.9 418.1h.9M203.0 417.6h.9M201.7 433.6h.9M219.3 413.3h.9M215.5 422.4h.9M201.3 417.2h.9M214.4 394.2h.9M212.9 415.9h.9M207.2 419.5h.9M209.5 410.3h.9M210.8 411.7h.9M215.7 415.3h.9M208.4 429.3h.9M206.6 417.8h.9M209.1 422.9h.9M201.2 411.3h.9M207.7 403.1h.9M208.9 419.4h.9M215.6 400.7h.9M196.4 413.6h.9M213.5 418.9h.9M207.6 424.0h.9M204.9 419.3h.9M210.5 426.9h.9M220.0 419.0h.9M200.6 405.4h.9M204.0 412.2h.9M201.5 411.6h.9M206.5 418.8h.9M218.7 418.6h.9M213.3 397.0h.9M218.4 429.3h.9M217.3 417.6h.9M214.0 411.6h.9M205.1 411.9h.9M204.3 414.2h.9M207.4 426.5h.9M214.8 419.5h.9M220.3 412.5h.9M213.2 407.7h.9M212.5 418.5h.9M202.1 422.5h.9M207.5 411.3h.9M217.9 412.2h.9M210.0 420.6h.9M201.0 406.7h.9M216.7 419.8h.9M205.3 417.9h.9M209.3 416.5h.9M215.8 413.2h.9M215.3 418.7h.9M207.2 418.0h.9M205.6 414.8h.9M215.2 406.4h.9M213.1 411.9h.9M205.7 417.0h.9M200.7 405.6h.9M217.4 417.2h.9M202.3 407.6h.9M206.1 428.7h.9M200.5 412.6h.9M216.6 396.5h.9M198.5 411.1h.9M199.4 402.1h.9M206.2 405.6h.9M200.1 420.3h.9M203.1 419.8h.9M207.0 427.6h.9M201.2 419.5h.9M204.2 426.8h.9M195.2 417.1h.9M208.3 411.7h.9M206.0 411.9h.9M205.5 418.0h.9M222.3 413.4h.9M209.9 409.5h.9M202.7 417.5h.9M207.8 427.5h.9M212.2 425.4h.9M209.8 423.1h.9M202.7 430.2h.9M200.7 419.4h.9M207.0 414.4h.9M211.6 406.8h.9M208.0 403.2h.9M200.5 423.6h.9M215.0 404.8h.9M211.4 411.2h.9M220.2 413.4h.9M219.7 407.8h.9M219.7 406.2h.9M221.9 415.4h.9M201.3 425.6h.9M212.1 420.3h.9M201.7 414.3h.9M203.9 428.8h.9M202.5 399.0h.9M214.3 414.0h.9M225.9 406.5h.9M210.9 411.0h.9M190.1 429.0h.9M206.8 421.1h.9M203.3 399.3h.9M209.9 421.2h.9M217.6 418.9h.9M202.0 407.8h.9M208.5 406.6h.9M217.1 410.3h.9M214.6 415.3h.9M215.5 415.6h.9M212.0 415.1h.9M199.2 405.8h.9M200.1 426.9h.9M204.8 419.3h.9M194.7 416.9h.9M228.5 422.8h.9M213.8 414.9h.9M218.5 427.3h.9M200.6 418.1h.9M198.1 396.2h.9M211.9 421.6h.9M202.0 408.9h.9M216.5 407.5h.9M205.7 412.2h.9M207.3 416.8h.9M215.6 415.5h.9M220.4 401.8h.9M210.0 412.9h.9M220.5 398.0h.9M210.5 421.5h.9M203.3 417.1h.9M210.7 417.6h.9M207.2 406.6h.9M208.2 396.5h.9M199.9 411.4h.9M207.8 416.4h.9M235.9 416.5h.9M208.9 417.0h.9M219.7 415.2h.9M202.6 401.9h.9M195.4 423.5h.9M216.0 411.4h.9M226.7 410.6h.9M201.7 421.1h.9M204.2 426.0h.9M205.0 413.0h.9M211.8 425.0h.9M201.9 427.2h.9M221.8 416.8h.9M210.9 421.6h.9M203.1 410.7h.9M213.0 401.8h.9M210.0 410.4h.9M206.1 415.7h.9M208.1 425.0h.9M200.6 409.2h.9M199.3 418.6h.9M209.5 414.1h.9M206.7 406.9h.9M213.0 419.7h.9M197.7 416.7h.9M207.5 412.6h.9M201.3 412.6h.9M205.2 428.5h.9M197.1 410.9h.9M198.4 419.9h.9M203.0 421.5h.9M209.9 417.1h.9M213.5 412.8h.9M205.8 416.4h.9M212.8 406.4h.9M210.7 426.7h.9M214.0 422.7h.9M208.8 401.5h.9M202.5 407.0h.9M209.8 413.4h.9M214.0 414.8h.9M208.6 423.6h.9M195.1 406.6h.9M215.7 415.5h.9M210.6 406.9h.9M214.6 417.6h.9M208.7 414.9h.9M208.2 418.3h.9M202.2 427.5h.9M199.4 410.1h.9M216.6 411.3h.9M197.9 420.0h.9M205.5 419.0h.9M199.8 417.2h.9M209.6 427.1h.9M204.0 424.4h.9" stroke="#5577f5" stroke-opacity="0.5" stroke-width="0.9" fill="none"/>
<path d="M204.9 431.2h.9M193.6 432.1h.9M188.6 435.4h.9M180.1 437.5h.9M192.4 425.3h.9M198.8 439.4h.9M195.6 441.6h.9M195.2 431.2h.9M183.6 428.8h.9M195.3 425.2h.9M183.3 425.5h.9M199.5 433.2h.9M212.9 416.2h.9M212.9 434.5h.9M195.9 436.8h.9M199.2 418.8h.9M202.8 420.2h.9M203.0 420.9h.9M180.4 434.7h.9M191.6 424.7h.9M213.1 429.0h.9M210.9 427.3h.9M195.2 416.1h.9M207.9 426.0h.9M205.4 424.7h.9M178.5 430.7h.9M206.1 414.6h.9M185.0 436.5h.9M211.1 426.4h.9M198.6 432.5h.9M200.0 421.7h.9M206.2 439.4h.9M197.6 429.7h.9M190.4 432.1h.9M202.4 425.3h.9M180.4 419.8h.9M201.1 429.8h.9M192.7 415.4h.9M182.2 439.0h.9M186.9 422.6h.9M205.4 436.5h.9M191.2 429.8h.9M200.3 431.7h.9M191.7 428.8h.9M201.5 438.2h.9M200.0 417.6h.9M186.9 422.8h.9M203.2 438.0h.9M200.7 421.1h.9M192.8 428.0h.9M204.1 429.9h.9M203.2 425.8h.9M214.0 420.8h.9M195.0 435.2h.9M203.6 421.5h.9M189.9 426.3h.9M204.0 434.0h.9M181.9 427.0h.9M197.9 435.0h.9M201.7 436.7h.9M192.0 424.4h.9M197.6 430.3h.9M218.4 428.8h.9M194.6 422.1h.9M198.2 425.7h.9M201.9 427.8h.9M188.2 422.7h.9M190.0 428.3h.9M170.4 423.9h.9M195.0 420.1h.9M201.8 426.4h.9M202.0 429.9h.9M192.3 436.3h.9M203.9 420.8h.9M193.9 420.1h.9M190.2 427.7h.9M190.9 427.1h.9M200.5 435.3h.9M201.2 434.4h.9M190.2 426.1h.9M205.0 425.0h.9M200.5 429.2h.9M201.4 435.7h.9M197.3 425.1h.9M188.8 439.5h.9M204.4 420.6h.9M182.5 413.8h.9M196.2 424.5h.9M172.8 429.8h.9M196.2 440.2h.9M196.8 419.6h.9M196.6 428.8h.9M185.6 420.2h.9M190.0 428.1h.9M205.5 423.8h.9M199.2 438.8h.9M187.0 421.7h.9M190.1 431.6h.9M186.7 434.9h.9M190.0 424.4h.9M199.5 433.6h.9M191.9 427.6h.9M204.0 439.4h.9M190.9 433.7h.9M205.4 432.4h.9M197.5 430.0h.9M185.8 427.4h.9M188.5 425.2h.9M197.8 440.6h.9M198.7 426.1h.9M207.0 422.5h.9M204.2 423.6h.9M199.1 440.5h.9M194.9 424.2h.9M194.4 432.0h.9M175.8 441.0h.9M186.1 431.2h.9M201.6 423.5h.9M193.3 435.1h.9M192.0 432.5h.9M195.4 428.1h.9M197.3 430.5h.9M193.4 435.1h.9M196.4 429.2h.9M175.1 418.4h.9M203.0 432.7h.9M198.7 435.8h.9M179.1 427.5h.9M202.4 433.6h.9M205.8 433.1h.9M194.9 437.0h.9M189.7 426.2h.9M211.5 426.6h.9M208.7 423.6h.9M195.8 434.5h.9M180.9 427.8h.9M175.6 423.9h.9M194.8 428.4h.9M204.9 422.3h.9M211.2 426.3h.9M186.2 430.5h.9M202.2 433.7h.9M201.0 423.3h.9M178.9 438.6h.9M197.5 430.8h.9M206.2 434.1h.9M185.4 418.4h.9M179.0 419.2h.9M201.4 428.9h.9M196.0 422.9h.9M196.7 426.0h.9M195.3 432.1h.9M196.1 432.3h.9M194.1 436.6h.9M212.3 427.0h.9M197.1 427.6h.9M191.9 435.4h.9M198.0 413.6h.9M207.2 432.6h.9M182.5 429.4h.9M193.0 430.0h.9M196.0 444.4h.9M205.5 441.7h.9M206.0 426.9h.9M207.8 438.9h.9M192.0 431.8h.9M202.3 432.5h.9M203.8 417.3h.9M205.7 435.2h.9M193.6 438.8h.9M197.7 441.2h.9M199.1 432.1h.9M202.5 431.8h.9M208.5 424.8h.9M189.6 424.1h.9M204.8 426.2h.9M199.7 426.0h.9M188.2 425.8h.9M195.4 425.2h.9M208.5 432.6h.9M202.8 429.9h.9M195.9 417.8h.9M196.0 424.1h.9M203.2 428.0h.9M198.0 418.7h.9M202.8 430.6h.9M174.8 425.7h.9M189.2 430.7h.9M219.9 425.1h.9M211.4 434.6h.9M192.3 421.6h.9M188.8 430.5h.9M194.8 432.8h.9M199.2 428.7h.9M195.8 431.7h.9M190.7 428.5h.9M189.2 430.8h.9M201.9 434.0h.9M195.4 423.8h.9M191.3 432.5h.9" stroke="#5577f5" stroke-opacity="0.5" stroke-width="0.9" fill="none"/>
<path d="M185.2,417.7 L202.0,416.2 L218.0,415.2 L214.5,442.2 L185.2,442.2 Z" fill="#5f7ef6" fill-opacity="0.75" filter="url(#bl18)"/>
<path d="M185.2,420.2 L202.0,418.2 L216.5,416.7 L213.5,442.2 L185.2,442.2 Z" fill="#2a4cf2" fill-opacity="0.9" filter="url(#bl15)"/>
<path d="M197.0,423.5 L203.0,419.5 L213.0,418.0 L213.5,425.5 L209.5,440.0 L205.0,440.0 L200.0,430.5 Z" fill="#2ec4ea" fill-opacity="1" filter="url(#bl12)"/>
<path d="M198.5,423.5 L203.5,420.3 L212.2,418.9 L212.6,425.5 L209.0,438.0 L205.5,438.0 L201.0,429.5 Z" fill="#44e23e" fill-opacity="1" filter="url(#bl10)"/>
<ellipse cx="208.0" cy="424.8" rx="3.8" ry="4.6" transform="rotate(0 208.0 424.8)" fill="#e6ee22" fill-opacity="1" filter="url(#bl9)"/>
<ellipse cx="208.0" cy="424.5" rx="2.8" ry="3.2" transform="rotate(0 208.0 424.5)" fill="#f47a18" fill-opacity="1" filter="url(#bl6)"/>
<ellipse cx="208.0" cy="424.5" rx="2.2" ry="2.6" transform="rotate(0 208.0 424.5)" fill="#f22a14" fill-opacity="1" filter="url(#bl5)"/>
<line x1="202.5" y1="388.7" x2="202.5" y2="442.2" stroke="#b8c2c2" stroke-width="1" />
<line x1="185.2" y1="416.5" x2="239.1" y2="416.5" stroke="#b8c2c2" stroke-width="1" />
</g>
<rect x="185.2" y="388.7" width="53.9" height="53.5" fill="none" stroke="#111" stroke-width="1.3"/>
<path d="M183.9 392.5h1.3M183.9 396.3h1.3M183.9 400.2h1.3M183.9 404.0h1.3M183.9 407.8h1.3M183.9 411.6h1.3M183.9 415.4h1.3M183.9 419.3h1.3M183.9 423.1h1.3M183.9 426.9h1.3M183.9 430.7h1.3M183.9 434.6h1.3M183.9 438.4h1.3M189.0 442.2v1.3M192.9 442.2v1.3M196.8 442.2v1.3M200.6 442.2v1.3M204.4 442.2v1.3M208.3 442.2v1.3M212.2 442.2v1.3M216.0 442.2v1.3M219.8 442.2v1.3M223.7 442.2v1.3M227.6 442.2v1.3M231.4 442.2v1.3M235.2 442.2v1.3" stroke="#222" stroke-width="0.7"/>
<text x="187.2" y="395.6" font-size="6.6" class="q" textLength="17.0" lengthAdjust="spacingAndGlyphs">0.152</text>
<text x="237.8" y="395.6" font-size="6.6" class="q" text-anchor="end" textLength="12.0" lengthAdjust="spacingAndGlyphs">1.15</text>
<rect x="185.9" y="433.5" width="14" height="8" fill="#fff"/>
<text x="187.2" y="440.4" font-size="6.6" class="q" textLength="12.5" lengthAdjust="spacingAndGlyphs">13.5</text>
<text x="237.8" y="440.4" font-size="6.6" class="q" text-anchor="end" textLength="12.5" lengthAdjust="spacingAndGlyphs">85.2</text>
<text x="255.9" y="322.4" font-size="10.8" class="q" font-weight="bold">F</text>
<text x="278.8" y="322.6" font-size="9" class="q" textLength="33.5" lengthAdjust="spacingAndGlyphs">Thymus</text>
<text x="341.9" y="323.5" font-size="9" class="q" textLength="30.0" lengthAdjust="spacingAndGlyphs">Spleen</text>
<text x="387.4" y="323.5" font-size="9" class="q" textLength="60.0" lengthAdjust="spacingAndGlyphs">Bone marrow</text>
<text x="266.1" y="378.0" font-size="7.2" fill="#333" textLength="13.0" lengthAdjust="spacingAndGlyphs" transform="rotate(-90 266.1 378.0)">CD4</text>
<path d="M262.9,384 V388.9 H268" stroke="#111" stroke-width="1.4" fill="none"/>
<path d="M260.7,384.6 L262.9,380.6 L265.1,384.6 Z M267.5,386.7 L271.5,388.9 L267.5,391.1 Z" fill="#111"/>
<text x="273.9" y="390.7" font-size="6.8" class="q" fill="#333" textLength="13.0" lengthAdjust="spacingAndGlyphs">CD8</text>
<clipPath id="cp21"><rect x="268.3" y="328.2" width="53.2" height="52.9"/></clipPath>
<g clip-path="url(#cp21)">
<path d="M287.6 363.1h.9M297.5 371.3h.9M284.7 378.9h.9M278.6 375.0h.9M298.0 377.2h.9M290.4 365.1h.9M285.7 353.6h.9M277.2 363.1h.9M289.4 376.5h.9M313.2 345.4h.9M308.6 365.9h.9M282.9 337.0h.9M294.5 354.3h.9M305.7 352.4h.9M311.4 339.5h.9M294.9 364.6h.9M311.9 371.6h.9M289.4 367.8h.9M298.7 365.8h.9M288.8 352.2h.9M282.0 343.7h.9M297.4 368.8h.9M287.6 371.8h.9M281.6 352.3h.9M288.6 345.0h.9M282.4 363.7h.9M290.1 359.5h.9M293.2 347.3h.9M307.2 355.7h.9M311.7 392.6h.9M306.8 352.8h.9M337.6 359.3h.9M301.9 349.0h.9M272.5 356.4h.9M299.2 360.4h.9M308.8 370.7h.9M302.9 389.0h.9M291.6 369.2h.9M304.9 356.0h.9M299.0 377.9h.9M278.9 364.0h.9M298.4 373.4h.9M297.1 366.5h.9M301.5 383.0h.9M293.7 365.0h.9M290.4 372.1h.9M288.0 338.7h.9M281.8 353.1h.9M283.0 354.3h.9M294.5 362.3h.9M286.9 377.4h.9M302.9 362.8h.9M304.7 358.4h.9M296.5 376.1h.9M299.8 361.2h.9M278.8 355.1h.9M286.6 369.5h.9M295.8 364.1h.9M277.4 366.2h.9M299.7 379.8h.9M305.4 331.0h.9M313.4 388.4h.9M306.1 364.5h.9M290.7 344.9h.9M293.3 378.5h.9M300.0 362.8h.9M296.6 347.2h.9M274.1 365.3h.9M281.9 360.0h.9M305.6 352.4h.9M283.0 360.9h.9M288.4 357.2h.9M297.6 359.0h.9M302.4 382.9h.9M278.8 321.1h.9M288.3 334.4h.9M281.9 377.1h.9M292.5 359.4h.9M290.6 373.3h.9M310.7 338.0h.9M305.8 358.6h.9M277.1 343.8h.9M295.3 364.0h.9M284.1 372.3h.9M291.6 365.7h.9M281.0 358.0h.9M313.4 338.7h.9M297.1 358.2h.9M301.9 368.6h.9M304.6 363.4h.9M275.3 377.4h.9M316.6 348.0h.9M289.5 366.6h.9M279.0 361.8h.9M297.5 360.1h.9M292.6 372.8h.9M292.1 378.4h.9M290.5 349.9h.9M304.0 370.4h.9M278.9 344.1h.9M292.9 371.0h.9M291.5 354.9h.9M292.2 377.9h.9M273.9 353.3h.9M285.0 366.2h.9M310.8 377.4h.9M296.7 356.5h.9M306.8 356.1h.9M286.9 369.2h.9M302.3 372.8h.9M278.1 355.0h.9M290.8 363.1h.9M295.8 343.5h.9M279.7 344.8h.9M278.3 383.8h.9M295.1 333.0h.9M283.8 361.4h.9M303.7 380.7h.9M303.1 345.6h.9M299.6 345.5h.9M298.1 358.1h.9M309.9 350.1h.9M307.7 371.1h.9M281.3 340.7h.9M296.9 365.8h.9M280.6 365.4h.9M275.0 380.1h.9M284.8 365.3h.9M289.4 370.0h.9M302.3 337.9h.9M299.2 361.9h.9M286.9 370.3h.9M299.7 373.2h.9M273.9 364.7h.9M290.6 359.7h.9M313.4 367.5h.9M307.6 350.7h.9M290.8 348.9h.9M291.6 357.4h.9M306.6 350.5h.9M308.3 352.1h.9M315.1 353.6h.9M288.1 363.7h.9M293.6 351.5h.9M304.0 369.0h.9M306.5 342.2h.9M306.3 334.1h.9M298.0 354.6h.9M287.0 366.3h.9M284.2 352.4h.9M285.2 374.5h.9M306.5 360.6h.9M296.0 352.8h.9M306.7 371.9h.9M288.7 346.6h.9M308.8 344.9h.9M301.6 375.9h.9M278.6 365.3h.9M301.5 374.9h.9M310.9 350.4h.9M300.4 366.8h.9M309.4 365.7h.9M301.1 344.4h.9M299.5 361.2h.9M299.6 343.3h.9M287.7 362.8h.9M287.4 375.6h.9M303.7 357.1h.9M309.9 366.8h.9M300.8 365.8h.9M315.1 350.2h.9M306.5 369.1h.9M286.6 370.5h.9M293.7 351.2h.9M292.0 363.2h.9M289.4 349.4h.9M295.7 360.4h.9M286.7 349.0h.9M283.9 352.4h.9M305.6 367.0h.9M285.6 360.6h.9M292.6 365.2h.9M299.1 336.1h.9M281.9 364.2h.9M291.7 371.6h.9M286.4 333.7h.9M322.2 384.1h.9M290.3 380.4h.9M289.3 349.1h.9M303.3 330.8h.9M282.4 341.3h.9M311.2 343.9h.9M296.0 361.7h.9M297.7 365.0h.9M305.9 365.4h.9M289.6 362.3h.9M298.4 367.8h.9M308.4 357.4h.9M289.1 330.0h.9M301.2 357.5h.9M304.2 346.4h.9M293.2 350.6h.9M285.0 344.0h.9M292.7 351.3h.9M303.8 366.8h.9M302.2 354.9h.9M301.2 358.0h.9M280.4 347.8h.9M293.6 369.2h.9M281.1 386.4h.9M294.4 350.4h.9M296.6 354.3h.9M296.7 338.5h.9M300.9 365.5h.9M320.1 358.1h.9M299.3 381.0h.9M287.3 372.7h.9M298.0 352.5h.9M285.5 392.5h.9M295.8 370.6h.9M299.9 333.1h.9M294.4 356.1h.9M310.5 373.0h.9M282.2 360.0h.9M269.6 362.7h.9M292.3 376.1h.9M305.9 346.1h.9M299.4 358.0h.9M294.0 359.8h.9M293.3 376.9h.9M292.1 394.9h.9M272.6 353.4h.9M292.4 349.9h.9M270.1 338.7h.9M295.3 347.2h.9M317.5 355.0h.9M297.9 345.4h.9M282.9 381.8h.9M282.6 360.0h.9M299.6 359.3h.9M304.1 376.2h.9M293.2 371.7h.9M308.2 364.6h.9M312.7 348.9h.9M312.0 350.3h.9M298.5 369.0h.9M305.0 402.3h.9M294.0 376.6h.9M274.8 365.7h.9M277.0 327.6h.9M283.6 374.3h.9M294.7 357.8h.9M291.6 345.7h.9M284.7 361.9h.9M265.9 370.7h.9M292.0 357.5h.9M288.1 376.1h.9M290.5 374.7h.9M281.6 364.0h.9M301.6 364.9h.9M292.2 343.5h.9M310.2 339.8h.9M311.8 389.0h.9M285.2 369.4h.9M308.7 342.1h.9M286.7 383.3h.9M306.2 377.7h.9M290.2 356.1h.9M286.7 331.0h.9M294.1 386.2h.9M298.6 376.2h.9M291.8 344.4h.9M286.9 332.9h.9M285.5 332.3h.9M295.3 382.1h.9M290.1 361.9h.9M294.0 358.6h.9M290.9 364.8h.9M272.4 362.3h.9M274.7 363.9h.9M279.3 364.0h.9M295.4 366.1h.9M286.6 356.6h.9M294.3 351.3h.9M284.7 373.3h.9M290.1 363.2h.9M289.8 349.2h.9M312.4 350.8h.9M295.9 362.7h.9M300.3 367.9h.9M278.9 364.5h.9M282.3 357.6h.9M302.0 331.3h.9M302.6 368.6h.9M280.2 379.3h.9M305.7 351.9h.9M282.8 370.1h.9M287.0 331.2h.9M287.1 364.5h.9M307.4 350.5h.9M292.5 358.6h.9M292.7 357.2h.9M303.7 364.9h.9M307.1 336.2h.9M306.0 348.0h.9M284.1 362.1h.9M299.9 374.5h.9M283.4 364.1h.9M306.1 342.4h.9M313.3 357.5h.9M274.4 351.8h.9M302.9 357.0h.9M302.4 367.0h.9M291.7 338.6h.9M298.1 342.6h.9M300.5 366.4h.9M293.9 366.2h.9M298.2 351.4h.9M276.4 331.8h.9M293.4 386.0h.9M288.0 350.5h.9M284.0 360.5h.9M293.0 360.3h.9M295.0 329.4h.9M270.5 365.6h.9M297.7 348.8h.9M295.4 369.5h.9M276.7 360.0h.9M290.5 353.4h.9M288.8 326.3h.9M296.7 364.9h.9M286.1 359.4h.9M288.6 354.5h.9M299.7 353.2h.9M320.4 366.7h.9M279.8 366.1h.9M303.7 327.6h.9M302.0 349.7h.9M291.4 353.9h.9M277.1 353.9h.9M293.3 356.3h.9M280.7 357.0h.9M294.0 344.6h.9M304.7 362.1h.9M304.4 355.8h.9M297.3 378.7h.9M299.1 356.8h.9M291.0 370.0h.9M295.5 350.6h.9M288.2 369.2h.9M285.2 359.1h.9M298.3 332.4h.9M305.2 355.5h.9M287.2 371.4h.9M293.4 360.6h.9M302.0 370.4h.9M296.7 367.0h.9M283.0 349.9h.9M304.0 357.1h.9M286.6 376.5h.9M307.9 366.1h.9M294.0 379.3h.9M290.8 346.5h.9M295.5 354.4h.9M298.2 349.3h.9M311.7 358.7h.9M301.4 371.2h.9M324.6 353.9h.9M291.0 366.5h.9M301.5 365.0h.9M299.0 377.5h.9M307.8 373.0h.9M270.3 354.4h.9M285.4 351.2h.9M289.4 387.1h.9M298.8 343.2h.9M297.1 371.6h.9M310.5 359.2h.9M291.8 346.6h.9M293.5 356.4h.9M279.9 346.8h.9M315.1 374.4h.9M278.6 379.6h.9M304.2 338.6h.9M293.2 364.1h.9M268.3 350.9h.9M289.1 373.3h.9M288.3 363.2h.9M299.3 342.6h.9M279.2 368.1h.9M301.0 371.8h.9M293.2 348.6h.9M274.3 386.5h.9M274.3 360.0h.9M295.4 335.2h.9M292.5 366.3h.9M299.1 349.3h.9M286.7 355.5h.9M296.2 358.9h.9M256.1 341.9h.9M286.5 353.8h.9M298.6 345.8h.9M274.1 358.6h.9M298.2 368.6h.9M306.5 367.7h.9M294.6 374.5h.9M301.4 332.9h.9M317.2 363.0h.9M292.8 352.3h.9M289.6 343.7h.9M299.6 351.9h.9M298.0 338.5h.9M304.1 369.1h.9M305.0 367.1h.9M302.3 361.0h.9M299.4 373.3h.9M296.3 341.6h.9M296.2 362.5h.9M316.2 364.3h.9M281.4 351.9h.9M293.0 388.4h.9M302.6 355.2h.9M286.3 373.8h.9M295.4 365.2h.9M288.4 360.4h.9M311.8 379.5h.9M297.1 351.8h.9M291.4 339.7h.9M299.6 343.9h.9M297.1 354.9h.9M300.6 374.5h.9M298.5 367.0h.9M293.9 337.0h.9M296.3 375.4h.9M305.0 359.7h.9M310.9 343.2h.9M306.8 363.7h.9M296.8 365.6h.9M313.1 347.0h.9M307.1 365.1h.9M293.5 358.8h.9M284.0 358.0h.9M302.5 368.4h.9M291.8 376.8h.9M289.7 360.4h.9M307.8 349.8h.9M295.9 371.1h.9M308.0 371.1h.9M278.5 379.5h.9M287.5 372.8h.9" stroke="#5577f5" stroke-opacity="0.45" stroke-width="0.9" fill="none"/>
<path d="M289.0 365.1h.9M270.5 396.6h.9M290.4 394.2h.9M306.7 372.7h.9M265.7 344.4h.9M310.7 362.7h.9M296.4 392.8h.9M298.9 349.4h.9M290.5 340.1h.9M299.1 366.5h.9M290.0 354.2h.9M293.2 362.6h.9M309.1 356.3h.9M284.3 342.3h.9M289.3 348.2h.9M300.3 344.4h.9M288.5 389.2h.9M284.3 329.7h.9M283.1 353.8h.9M293.4 370.0h.9M303.9 366.3h.9M273.2 386.4h.9M283.5 350.5h.9M293.7 367.4h.9M294.8 330.6h.9M313.4 336.4h.9M275.7 356.2h.9M294.6 358.6h.9M281.0 345.0h.9M281.0 349.8h.9M301.9 372.4h.9M311.9 375.6h.9M254.6 343.6h.9M275.8 364.3h.9M274.0 363.9h.9M318.1 345.3h.9M293.1 377.9h.9M279.3 348.3h.9M310.1 350.8h.9M310.7 333.6h.9M302.8 365.5h.9M269.0 346.2h.9M284.1 368.4h.9M284.1 359.0h.9M272.5 393.4h.9M310.7 365.4h.9M287.6 361.0h.9M266.8 358.0h.9M254.0 341.6h.9M295.1 393.6h.9M311.3 377.3h.9M327.4 359.8h.9M308.1 350.8h.9M304.6 359.8h.9M253.0 354.6h.9M323.9 336.9h.9M304.8 387.8h.9M290.7 363.6h.9M285.0 339.4h.9M311.6 355.7h.9M285.5 375.3h.9M307.0 373.4h.9M333.8 352.0h.9M297.3 345.7h.9M287.6 374.6h.9M305.1 361.8h.9M310.7 344.9h.9M285.3 363.7h.9M288.8 299.4h.9M300.1 375.9h.9M285.2 322.2h.9M317.8 362.7h.9M298.2 363.0h.9M297.2 342.9h.9M288.1 367.4h.9M283.0 350.0h.9M304.5 355.0h.9M293.8 345.1h.9M314.8 345.3h.9M267.0 328.8h.9M295.8 353.8h.9M296.9 363.3h.9M307.5 389.2h.9M290.5 347.3h.9M276.9 382.0h.9M247.0 355.0h.9M324.0 326.6h.9M280.9 359.9h.9M307.8 376.5h.9M286.0 364.9h.9M301.1 353.5h.9M299.1 348.3h.9M293.3 361.0h.9M308.5 347.2h.9M294.3 361.4h.9M285.6 362.5h.9M288.5 368.4h.9M292.3 365.7h.9M286.1 352.9h.9M269.6 323.2h.9M322.2 388.7h.9M287.6 372.4h.9M253.1 366.8h.9M289.6 334.8h.9M307.9 378.6h.9M287.9 362.1h.9M295.0 331.2h.9M275.9 318.2h.9M279.2 347.9h.9M280.8 338.8h.9M295.6 359.9h.9M292.9 353.3h.9M287.7 341.6h.9M323.8 354.8h.9M299.9 376.7h.9M270.6 351.2h.9M307.6 351.0h.9M306.4 373.8h.9M295.2 382.4h.9M315.5 356.0h.9" stroke="#5577f5" stroke-opacity="0.35" stroke-width="0.9" fill="none"/>
<ellipse cx="294.8" cy="360.2" rx="11.0" ry="16.1" transform="rotate(0 294.8 360.2)" fill="#7090f6" fill-opacity="0.5" filter="url(#bl25)"/>
<ellipse cx="294.8" cy="363.2" rx="9.3" ry="13.6" transform="rotate(0 294.8 363.2)" fill="#4a6af4" fill-opacity="0.85" filter="url(#bl22)"/>
<ellipse cx="294.8" cy="363.2" rx="7.2" ry="10.2" transform="rotate(0 294.8 363.2)" fill="#2a4cf2" fill-opacity="1" filter="url(#bl16)"/>
<ellipse cx="294.8" cy="361.2" rx="7.2" ry="6.2" transform="rotate(0 294.8 361.2)" fill="#2ec4ea" fill-opacity="1" filter="url(#bl11)"/>
<ellipse cx="294.8" cy="361.2" rx="6.4" ry="5.5" transform="rotate(0 294.8 361.2)" fill="#44e23e" fill-opacity="1" filter="url(#bl10)"/>
<ellipse cx="294.3" cy="360.9" rx="3.8" ry="3.0" transform="rotate(-20 294.3 360.9)" fill="#e6ee22" fill-opacity="1" filter="url(#bl8)"/>
<ellipse cx="294.3" cy="360.9" rx="2.6" ry="1.9" transform="rotate(-20 294.3 360.9)" fill="#f22a14" fill-opacity="1" filter="url(#bl5)"/>
<path d="M288,381.1 V354.6 H305.1 V381.1" fill="none" stroke="#666" stroke-width="0.6"/>
</g>
<rect x="268.3" y="328.2" width="53.2" height="52.9" fill="none" stroke="#111" stroke-width="1.3"/>
<path d="M267.0 332.0h1.3M267.0 335.8h1.3M267.0 339.5h1.3M267.0 343.3h1.3M267.0 347.1h1.3M267.0 350.9h1.3M267.0 354.6h1.3M267.0 358.4h1.3M267.0 362.2h1.3M267.0 366.0h1.3M267.0 369.8h1.3M267.0 373.5h1.3M267.0 377.3h1.3M272.1 381.1v1.3M275.9 381.1v1.3M279.7 381.1v1.3M283.5 381.1v1.3M287.3 381.1v1.3M291.1 381.1v1.3M294.9 381.1v1.3M298.7 381.1v1.3M302.5 381.1v1.3M306.3 381.1v1.3M310.1 381.1v1.3M313.9 381.1v1.3M317.7 381.1v1.3" stroke="#222" stroke-width="0.7"/>
<rect x="287.7" y="364.6" width="14.3" height="7.3" fill="#fff" fill-opacity="0.95"/>
<text x="294.8" y="370.4" font-size="6.8" class="q" text-anchor="middle" textLength="12.3" lengthAdjust="spacingAndGlyphs">90.3</text>
<clipPath id="cp22"><rect x="329.9" y="328.2" width="53.9" height="52.9"/></clipPath>
<g clip-path="url(#cp22)">
<path d="M364.6 368.4h.9M354.8 348.5h.9M358.2 365.6h.9M347.8 348.1h.9M359.6 366.0h.9M356.8 359.7h.9M352.1 356.0h.9M368.1 343.8h.9M348.9 366.6h.9M361.3 359.2h.9M353.5 362.1h.9M358.1 358.5h.9M349.6 355.8h.9M379.5 355.9h.9M377.6 357.4h.9M358.3 364.0h.9M350.3 361.9h.9M361.7 350.3h.9M352.1 351.1h.9M362.6 356.0h.9M362.9 365.5h.9M350.9 356.0h.9M343.3 370.8h.9M357.8 352.9h.9M359.1 363.5h.9M359.9 349.5h.9M361.7 360.4h.9M365.6 363.7h.9M343.5 355.7h.9M345.7 361.9h.9M354.8 362.3h.9M368.2 345.7h.9M360.4 371.3h.9M355.7 356.6h.9M358.0 350.4h.9M360.6 369.2h.9M361.4 351.4h.9M360.7 357.2h.9M357.2 354.1h.9M371.1 350.8h.9M354.8 373.5h.9M356.6 361.8h.9M367.5 362.0h.9M365.3 361.5h.9M351.9 360.1h.9M350.2 356.7h.9M358.9 354.3h.9M340.1 357.6h.9M357.8 353.3h.9M354.6 353.8h.9M360.0 357.1h.9M363.8 363.3h.9M347.9 360.0h.9M354.8 360.2h.9M355.7 346.7h.9M352.2 375.5h.9M354.5 363.5h.9M357.4 360.8h.9M355.2 357.3h.9M366.2 368.3h.9M355.1 355.5h.9M343.1 377.5h.9M362.2 352.4h.9M346.9 342.7h.9M347.0 361.6h.9M355.3 351.1h.9M365.5 357.3h.9M345.6 358.5h.9M351.2 385.4h.9M364.8 372.7h.9M360.6 368.0h.9M364.7 349.8h.9M350.8 356.5h.9M351.9 363.1h.9M345.8 362.9h.9M361.1 360.7h.9M372.2 353.0h.9M355.5 372.8h.9M361.7 344.6h.9M353.2 359.7h.9M350.2 352.2h.9M344.9 365.2h.9M352.8 367.7h.9M366.3 351.7h.9M357.9 353.2h.9M348.7 363.5h.9M362.9 353.9h.9M357.2 377.9h.9M356.7 364.2h.9M357.6 367.3h.9M350.9 362.8h.9M356.8 345.6h.9M362.8 373.6h.9M358.0 357.6h.9M359.7 349.3h.9M345.9 374.3h.9M359.5 358.3h.9M356.9 358.0h.9M351.8 360.6h.9M365.7 364.1h.9M359.3 361.9h.9M348.3 361.8h.9M355.5 356.4h.9M347.2 344.4h.9M361.7 350.4h.9M357.9 378.7h.9M358.4 349.7h.9M352.3 362.4h.9M360.5 343.8h.9M357.6 359.8h.9M352.5 365.8h.9M357.3 354.2h.9M356.5 343.4h.9M348.7 368.3h.9M363.9 372.5h.9M364.6 349.1h.9M366.8 366.9h.9M344.9 343.9h.9M356.9 341.2h.9M363.0 361.0h.9M352.6 368.9h.9M353.0 364.5h.9M340.2 353.3h.9M343.1 348.8h.9M353.9 362.5h.9M345.2 353.7h.9M358.0 350.4h.9M340.3 358.5h.9M356.4 364.0h.9M359.2 368.9h.9M358.5 342.1h.9M358.3 366.7h.9M358.1 371.0h.9M358.5 356.4h.9M347.8 347.8h.9M361.7 370.2h.9M357.3 355.6h.9M353.6 357.0h.9M355.8 352.6h.9M357.0 362.0h.9M371.4 362.4h.9M355.7 356.0h.9M349.1 359.9h.9M350.3 369.9h.9M348.4 364.6h.9M368.3 349.5h.9M346.3 370.4h.9M355.5 377.8h.9M356.5 350.0h.9M366.0 353.7h.9M363.5 368.6h.9M368.9 361.1h.9M353.7 346.4h.9M348.8 363.2h.9M365.1 347.0h.9M355.6 358.9h.9M350.9 338.8h.9M348.6 364.0h.9M360.3 362.4h.9M361.2 348.9h.9M343.3 350.2h.9M368.6 347.6h.9M354.7 351.7h.9M362.9 347.9h.9M352.6 345.9h.9M359.1 359.9h.9M353.8 356.2h.9M354.5 353.5h.9M372.7 368.8h.9M362.0 360.5h.9M346.1 366.9h.9M359.5 361.8h.9M358.3 370.5h.9M372.4 352.3h.9M359.7 359.3h.9M354.5 357.7h.9M350.7 364.2h.9M361.1 378.1h.9M342.7 359.5h.9M353.2 385.4h.9M357.2 358.0h.9M348.9 347.8h.9M343.8 348.2h.9M363.0 374.0h.9M336.1 357.6h.9M352.7 364.3h.9M341.6 350.1h.9M359.4 369.1h.9M351.4 341.2h.9M353.8 366.7h.9M352.8 354.1h.9M359.4 360.0h.9M345.0 369.4h.9M360.1 352.0h.9M366.0 369.2h.9M377.5 373.9h.9M356.8 352.7h.9M358.4 363.2h.9M360.2 353.9h.9M345.6 349.8h.9M358.0 366.6h.9M354.8 368.4h.9M358.6 354.9h.9M358.3 354.8h.9M349.6 356.7h.9M356.2 364.9h.9M353.7 337.5h.9M358.6 364.4h.9M352.8 358.4h.9M346.8 346.7h.9M363.2 361.5h.9M361.0 354.8h.9M363.5 361.1h.9M344.2 355.3h.9M353.6 359.8h.9M349.1 350.2h.9M348.0 358.7h.9M361.7 365.4h.9M366.6 372.0h.9M356.1 352.2h.9M353.5 352.1h.9M351.5 352.8h.9M355.2 346.8h.9M351.0 377.8h.9M332.8 376.5h.9M353.4 359.9h.9M353.3 356.4h.9M361.1 355.2h.9M350.8 359.0h.9M351.8 358.5h.9M360.0 362.7h.9M356.9 345.6h.9M359.5 369.7h.9M352.1 363.2h.9M361.2 368.8h.9M361.8 361.5h.9M362.1 351.2h.9M361.7 356.4h.9M349.3 345.4h.9M347.3 360.4h.9M342.3 355.1h.9M350.6 358.6h.9M347.0 360.9h.9M349.3 360.6h.9M361.6 349.5h.9M359.2 360.5h.9M364.7 333.9h.9M361.0 353.4h.9M361.4 358.9h.9M357.7 355.7h.9M359.0 378.9h.9M350.9 360.4h.9M359.0 374.6h.9M354.3 364.6h.9M346.9 365.2h.9M352.7 345.6h.9M355.0 363.8h.9M349.4 353.5h.9M353.8 353.9h.9M359.2 350.8h.9M360.8 353.5h.9M372.8 349.2h.9M363.0 352.0h.9M357.2 356.5h.9M353.5 350.6h.9M358.8 367.9h.9M347.7 346.0h.9M368.5 349.8h.9M348.2 362.0h.9M357.4 372.9h.9M356.7 372.8h.9M359.8 361.1h.9M345.8 364.3h.9M341.4 366.4h.9M370.6 364.1h.9M363.5 361.6h.9M348.6 361.2h.9M344.0 366.7h.9M349.7 356.6h.9M348.4 374.7h.9M355.9 364.0h.9M353.4 360.2h.9M351.4 351.5h.9M351.6 370.3h.9M352.5 359.3h.9M370.6 363.3h.9M363.2 357.7h.9M360.4 368.0h.9M353.7 369.7h.9M364.9 340.0h.9M371.7 366.9h.9M367.4 378.3h.9M363.0 361.4h.9M364.9 352.4h.9M343.8 357.5h.9M360.6 352.9h.9M364.0 348.2h.9M352.4 376.0h.9M353.2 367.4h.9M346.4 355.4h.9M366.0 344.8h.9M353.5 346.4h.9M356.1 346.0h.9M351.5 354.6h.9M347.5 360.4h.9M362.8 357.9h.9M350.7 374.9h.9M366.1 355.7h.9M356.4 354.8h.9M353.7 357.2h.9M355.0 343.0h.9M344.4 360.7h.9M351.2 362.6h.9M345.8 369.0h.9M357.7 353.2h.9M354.3 364.9h.9M352.7 359.9h.9M363.5 359.9h.9M360.3 351.5h.9M359.1 359.2h.9M359.1 382.6h.9M359.0 357.6h.9M351.0 369.8h.9M346.5 354.9h.9M363.9 347.0h.9M348.4 356.5h.9M363.2 368.0h.9M358.9 353.2h.9M366.4 366.9h.9M369.0 366.1h.9M351.7 363.3h.9M349.0 376.0h.9M354.8 343.3h.9M350.8 363.6h.9M355.4 366.3h.9M351.4 356.4h.9M360.6 356.6h.9M357.8 351.1h.9M358.2 370.9h.9M357.5 380.8h.9M346.8 347.9h.9M356.4 344.1h.9M351.2 360.3h.9M349.2 358.0h.9M345.9 366.3h.9M358.1 344.5h.9M363.7 354.6h.9M359.9 341.8h.9M346.1 368.1h.9M363.4 365.5h.9M349.4 362.3h.9M370.9 356.7h.9M360.6 355.8h.9M353.8 364.2h.9M348.8 368.1h.9M363.8 357.8h.9M354.6 346.0h.9M358.9 364.8h.9M355.0 354.2h.9M352.9 356.2h.9M377.9 361.8h.9M346.6 368.6h.9M354.8 344.8h.9M373.5 350.2h.9M353.4 361.5h.9M366.7 357.2h.9M367.8 355.4h.9M352.9 354.0h.9M350.7 356.1h.9M369.1 355.8h.9M358.9 361.2h.9M355.4 356.2h.9M359.1 358.6h.9M339.4 354.2h.9M340.9 368.8h.9M353.3 355.6h.9M365.1 350.3h.9M349.0 350.5h.9M360.1 361.0h.9M354.5 365.2h.9M368.0 348.8h.9M357.2 353.0h.9M354.8 361.5h.9M346.6 342.0h.9M363.6 355.9h.9M362.3 351.6h.9M362.7 359.2h.9M364.4 355.3h.9M348.3 348.9h.9M355.7 364.2h.9M348.8 363.7h.9M360.3 348.7h.9M352.9 360.4h.9M360.6 363.3h.9M353.1 357.1h.9M361.3 366.8h.9M356.1 370.5h.9M360.2 353.3h.9M362.7 360.5h.9M361.8 368.0h.9M363.6 366.7h.9M369.3 360.6h.9M347.6 349.7h.9M339.3 343.1h.9M352.4 355.4h.9M355.3 368.7h.9M360.0 371.3h.9M358.5 353.4h.9M361.1 366.4h.9M347.0 358.3h.9M359.4 354.8h.9M369.3 363.6h.9M362.9 357.6h.9M354.9 343.1h.9M352.7 365.2h.9M352.3 357.6h.9M340.8 353.0h.9M356.0 358.4h.9M351.1 356.4h.9M362.0 367.1h.9M361.0 369.7h.9M348.2 366.0h.9M359.6 358.4h.9M357.8 365.4h.9M349.4 376.4h.9M356.5 372.2h.9M349.4 359.5h.9M354.5 346.8h.9M363.7 344.3h.9M361.6 358.4h.9M359.9 352.3h.9M355.9 363.6h.9M350.3 360.4h.9M357.8 352.2h.9M357.0 364.7h.9M354.8 347.2h.9M351.5 353.7h.9M358.2 349.2h.9M361.5 349.9h.9M359.3 347.9h.9M355.2 362.9h.9M353.7 376.2h.9M353.8 344.5h.9M355.9 371.6h.9M350.2 361.0h.9M357.7 365.7h.9M356.0 368.8h.9M348.0 359.5h.9M347.5 356.8h.9M344.5 355.0h.9" stroke="#5577f5" stroke-opacity="0.45" stroke-width="0.9" fill="none"/>
<path d="M346.1 380.4h.9M358.2 385.6h.9M355.6 362.0h.9M363.9 370.5h.9M346.6 352.3h.9M371.8 350.9h.9M356.1 338.3h.9M339.2 351.6h.9M349.5 356.3h.9M371.4 339.0h.9M355.0 349.5h.9M355.6 358.0h.9M343.7 348.3h.9M328.3 380.9h.9M346.0 377.0h.9M341.6 347.7h.9M338.6 367.9h.9M353.8 359.0h.9M323.3 356.9h.9M359.3 350.6h.9M361.2 354.2h.9M372.1 366.2h.9M340.6 350.3h.9M360.1 345.2h.9M358.8 365.3h.9M349.6 359.7h.9M351.2 364.9h.9M320.1 355.8h.9M354.7 349.6h.9M373.1 336.6h.9M359.4 342.9h.9M337.7 353.3h.9M333.5 353.4h.9M386.4 366.0h.9M360.3 336.9h.9M328.2 349.0h.9M340.8 360.9h.9M339.7 350.2h.9M384.5 343.1h.9M366.0 364.0h.9M386.8 339.3h.9M347.9 353.0h.9M362.0 355.8h.9M373.2 361.9h.9M343.2 361.2h.9M376.6 360.4h.9M354.3 370.8h.9M347.4 362.4h.9M372.8 361.0h.9M357.4 371.5h.9M377.1 362.6h.9M386.1 350.7h.9M338.4 360.4h.9M356.9 368.3h.9M384.0 365.9h.9M358.6 369.0h.9M337.0 355.7h.9M354.7 373.7h.9M365.2 362.0h.9M360.2 348.8h.9M343.0 354.9h.9M355.4 364.0h.9M366.6 354.8h.9M357.9 341.0h.9M370.7 331.7h.9M352.5 351.6h.9M348.6 368.8h.9M360.0 383.5h.9M356.5 340.2h.9M373.3 353.7h.9M363.0 378.0h.9M376.8 368.1h.9M348.0 365.1h.9M362.1 335.8h.9M347.0 359.2h.9M367.5 351.7h.9M354.4 322.6h.9M383.2 339.3h.9M359.8 379.7h.9M340.7 371.5h.9M345.3 353.2h.9M339.1 355.3h.9M358.2 363.0h.9M367.9 358.1h.9M340.8 354.0h.9M334.0 337.5h.9M351.6 366.3h.9M347.2 356.4h.9M363.7 354.2h.9M349.1 366.4h.9M359.3 366.4h.9M342.8 356.6h.9M361.9 348.0h.9M362.9 368.6h.9M344.0 365.3h.9M358.1 375.3h.9M334.5 354.1h.9M365.8 371.9h.9M358.5 358.1h.9M350.7 378.8h.9M364.0 367.8h.9M362.4 347.0h.9M375.6 363.2h.9M365.0 343.8h.9M372.4 368.9h.9M371.8 348.1h.9M328.2 352.8h.9M357.9 344.6h.9M351.4 337.5h.9M356.2 348.6h.9M344.1 361.8h.9M344.7 371.1h.9M350.8 353.6h.9M352.2 380.7h.9M359.4 361.9h.9M353.4 351.5h.9M331.8 357.0h.9M374.8 360.1h.9M362.0 364.7h.9M362.0 340.8h.9" stroke="#5577f5" stroke-opacity="0.35" stroke-width="0.9" fill="none"/>
<ellipse cx="357.0" cy="360.2" rx="8.0" ry="10.4" transform="rotate(0 357.0 360.2)" fill="#7090f6" fill-opacity="0.5" filter="url(#bl25)"/>
<path d="M347.7 367.2h.9M344.3 372.7h.9M344.5 364.2h.9M333.1 358.8h.9M360.9 378.0h.9M358.0 352.6h.9M338.2 366.9h.9M336.4 372.8h.9M332.4 361.7h.9M349.0 358.4h.9M334.0 365.8h.9M348.4 368.9h.9M341.2 364.7h.9M341.4 371.4h.9M358.6 356.1h.9M343.6 355.7h.9M357.4 351.8h.9M341.9 374.1h.9M345.8 368.4h.9M340.5 366.1h.9M328.3 369.1h.9M336.7 380.4h.9M344.2 372.4h.9M341.6 374.4h.9M339.6 361.7h.9M340.5 364.4h.9M344.7 373.7h.9M345.7 362.2h.9M345.0 369.9h.9M337.6 365.6h.9M340.3 364.2h.9M333.9 380.5h.9M339.9 366.3h.9M329.8 358.0h.9M332.4 375.2h.9M340.6 377.0h.9M337.3 365.4h.9M338.1 383.0h.9M336.8 372.5h.9M331.8 380.4h.9M341.4 370.5h.9M353.0 359.9h.9M343.2 378.0h.9M347.5 367.9h.9M335.6 380.0h.9M350.5 357.7h.9M344.1 370.8h.9M346.3 375.8h.9M346.6 358.0h.9M337.7 358.6h.9M337.4 355.1h.9M347.2 357.4h.9M330.8 370.5h.9M346.7 371.6h.9M343.0 355.6h.9M351.3 372.7h.9M351.8 363.5h.9M339.0 360.5h.9M351.3 360.6h.9M345.6 379.4h.9M320.1 372.3h.9M342.1 375.0h.9M338.9 369.1h.9M331.0 360.6h.9M368.0 372.6h.9M337.9 364.1h.9M348.4 368.6h.9M337.5 360.6h.9M340.0 382.3h.9M351.6 358.4h.9M351.6 354.0h.9M331.5 360.3h.9M343.5 373.1h.9M325.7 367.5h.9M342.1 373.5h.9M333.9 368.7h.9M351.6 373.1h.9M339.5 366.2h.9M359.1 358.0h.9M337.7 370.4h.9M351.7 371.8h.9M345.7 371.1h.9M333.4 373.9h.9M329.6 359.7h.9M336.3 369.6h.9M326.1 359.2h.9M333.6 367.5h.9M331.6 355.7h.9M352.5 371.7h.9M340.2 363.8h.9M349.0 366.4h.9M330.7 363.5h.9M344.7 373.4h.9M353.3 370.0h.9M357.7 361.0h.9M335.8 380.2h.9M339.8 378.0h.9M322.5 374.7h.9M345.6 384.9h.9M355.0 360.1h.9M334.5 358.6h.9M363.4 375.6h.9M343.4 378.3h.9M351.5 352.4h.9M350.7 358.4h.9M351.6 369.3h.9M339.5 362.6h.9M343.3 376.9h.9M344.6 364.9h.9M355.1 366.9h.9M338.3 356.3h.9M334.2 362.6h.9M332.8 379.9h.9M334.3 383.6h.9M344.0 380.0h.9M345.9 357.5h.9M344.6 358.9h.9M332.5 383.4h.9M354.5 384.7h.9M341.7 362.9h.9M340.7 366.6h.9M353.9 376.0h.9M343.7 370.3h.9M316.7 358.9h.9M327.8 372.9h.9M345.4 371.5h.9M344.8 368.0h.9M346.0 369.9h.9M347.3 365.6h.9M343.2 368.1h.9M326.4 370.5h.9M329.4 361.9h.9M342.6 380.1h.9M337.2 370.2h.9M352.4 367.4h.9M360.1 361.3h.9M346.2 365.6h.9M352.6 378.5h.9M345.4 367.2h.9M347.4 364.3h.9M326.4 362.9h.9M333.4 365.2h.9M357.5 370.3h.9M335.8 365.1h.9M351.8 369.0h.9M360.7 381.3h.9M344.8 368.6h.9M337.5 349.3h.9M337.8 370.4h.9M338.1 380.3h.9M340.4 373.8h.9M348.0 365.0h.9M336.5 369.1h.9M343.4 372.0h.9M326.9 362.9h.9M358.0 369.8h.9M322.7 359.2h.9M347.4 365.0h.9M347.9 374.1h.9M324.6 357.7h.9M345.3 357.4h.9M345.0 365.0h.9M345.1 360.5h.9M320.5 373.6h.9M342.0 368.1h.9M342.0 372.0h.9M332.6 365.3h.9M334.5 368.6h.9M347.9 352.4h.9M353.9 371.1h.9M347.3 368.8h.9M334.0 364.7h.9M331.6 369.8h.9M358.7 360.9h.9M339.1 368.6h.9M340.7 370.8h.9M352.2 379.1h.9M343.1 360.8h.9M344.4 360.5h.9M358.1 369.4h.9M327.0 356.6h.9M341.3 370.1h.9M347.9 361.3h.9M331.2 358.3h.9M348.6 366.4h.9M346.6 376.8h.9M334.3 380.8h.9M347.8 360.2h.9M345.5 360.4h.9M346.2 362.9h.9M364.2 366.4h.9M329.0 376.6h.9M357.7 381.2h.9M343.0 354.6h.9M334.8 370.5h.9M348.3 367.1h.9M345.9 357.5h.9M348.3 361.0h.9M347.7 375.7h.9M343.5 389.2h.9M344.2 361.6h.9M337.3 370.7h.9M351.9 371.0h.9M337.9 366.3h.9M339.7 375.0h.9M340.9 363.9h.9M348.9 354.1h.9M332.5 369.5h.9M341.3 373.5h.9M338.6 383.5h.9M341.0 353.7h.9M344.8 356.6h.9M338.5 371.0h.9M337.1 355.6h.9M349.8 375.7h.9M341.8 367.4h.9M343.7 359.8h.9M345.2 370.0h.9M355.7 367.7h.9M361.5 359.7h.9M345.0 365.5h.9M322.6 365.6h.9M342.9 355.3h.9M342.6 370.4h.9M341.8 366.6h.9M331.7 363.8h.9M330.0 364.0h.9M351.5 363.5h.9M354.7 360.7h.9M333.1 363.7h.9M351.9 378.6h.9M343.9 368.6h.9M344.0 365.0h.9M341.7 383.9h.9M341.9 359.7h.9M333.0 363.2h.9M350.1 359.0h.9M354.6 370.8h.9M340.0 364.0h.9M337.1 372.0h.9M339.9 374.2h.9M344.0 380.4h.9M342.4 362.3h.9M344.0 372.5h.9M347.2 383.1h.9M354.0 365.9h.9M334.9 355.3h.9M330.9 351.6h.9M344.9 370.9h.9M327.4 373.6h.9M332.5 363.1h.9M339.3 376.0h.9M339.6 358.3h.9M350.7 364.9h.9M325.9 385.8h.9M351.3 351.2h.9M326.7 371.3h.9M337.8 368.9h.9M338.5 370.1h.9M326.5 360.2h.9" stroke="#5577f5" stroke-opacity="0.5" stroke-width="0.9" fill="none"/>
<linearGradient id="gF" x1="0" x2="1" y1="0" y2="0"><stop offset="0" stop-color="#2a4cf2" stop-opacity="0.55"/><stop offset="0.6" stop-color="#2a4cf2" stop-opacity="0.85"/><stop offset="1" stop-color="#2a4cf2" stop-opacity="1"/></linearGradient>
<path d="M330.0,355.0 L351.4,349.5 L360.3,343.5 L366.5,355.0 L365.0,381.0 L340.0,381.0 L330.0,376.0 Z" fill="#6a88f6" fill-opacity="0.6" filter="url(#bl22)"/>
<path d="M330,358 L351.4,352 L360,346.5 L365,356 L363.5,381 L342,381 L330,373 Z" fill="url(#gF)" filter="url(#bl18)"/>
<path d="M339.0,360.0 L350.2,354.6 L361.5,354.0 L363.5,361.3 L359.5,372.3 L355.2,373.6 L343.9,363.5 Z" fill="#2ec4ea" fill-opacity="1" filter="url(#bl13)"/>
<path d="M340.1,360.0 L350.2,355.6 L361.5,355.0 L362.8,361.3 L359.0,371.3 L355.2,372.6 L343.9,362.5 Z" fill="#44e23e" fill-opacity="1" filter="url(#bl11)"/>
<ellipse cx="357.1" cy="361.3" rx="4.6" ry="3.2" transform="rotate(-10 357.1 361.3)" fill="#e6ee22" fill-opacity="1" filter="url(#bl8)"/>
<ellipse cx="357.1" cy="361.3" rx="3.2" ry="2.1" transform="rotate(-10 357.1 361.3)" fill="#f22a14" fill-opacity="1" filter="url(#bl5)"/>
<path d="M350.3,381.1 V352.4 H364.7 V381.1" fill="none" stroke="#666" stroke-width="0.6"/>
</g>
<rect x="329.9" y="328.2" width="53.9" height="52.9" fill="none" stroke="#111" stroke-width="1.3"/>
<path d="M328.6 332.0h1.3M328.6 335.8h1.3M328.6 339.5h1.3M328.6 343.3h1.3M328.6 347.1h1.3M328.6 350.9h1.3M328.6 354.6h1.3M328.6 358.4h1.3M328.6 362.2h1.3M328.6 366.0h1.3M328.6 369.8h1.3M328.6 373.5h1.3M328.6 377.3h1.3M333.8 381.1v1.3M337.6 381.1v1.3M341.4 381.1v1.3M345.3 381.1v1.3M349.1 381.1v1.3M353.0 381.1v1.3M356.9 381.1v1.3M360.7 381.1v1.3M364.6 381.1v1.3M368.4 381.1v1.3M372.2 381.1v1.3M376.1 381.1v1.3M379.9 381.1v1.3" stroke="#222" stroke-width="0.7"/>
<rect x="349.9" y="364.6" width="14.3" height="7.3" fill="#fff" fill-opacity="0.95"/>
<text x="357.0" y="370.4" font-size="6.8" class="q" text-anchor="middle" textLength="12.3" lengthAdjust="spacingAndGlyphs">70.2</text>
<clipPath id="cp23"><rect x="391.6" y="328.2" width="53.8" height="52.9"/></clipPath>
<g clip-path="url(#cp23)">
<path d="M411.5 347.1h.9M406.3 349.0h.9M407.8 374.1h.9M426.4 362.8h.9M393.3 352.7h.9M406.0 356.9h.9M418.3 348.4h.9M410.0 363.9h.9M436.2 370.8h.9M407.6 356.0h.9M405.5 366.9h.9M402.7 352.4h.9M406.0 358.5h.9M408.8 364.4h.9M441.4 341.6h.9M427.7 344.3h.9M420.9 337.7h.9M422.8 337.0h.9M435.6 391.9h.9M404.5 359.4h.9M408.1 345.7h.9M407.8 350.8h.9M410.8 382.2h.9M419.6 365.0h.9M423.5 339.1h.9M410.5 351.6h.9M434.9 347.7h.9M415.3 340.6h.9M421.9 365.8h.9M404.6 349.4h.9M422.0 372.4h.9M408.0 344.9h.9M424.1 370.1h.9M425.0 345.2h.9M413.9 368.2h.9M431.3 352.5h.9M432.1 351.5h.9M418.2 351.2h.9M401.3 335.9h.9M419.1 350.9h.9M414.7 355.3h.9M427.8 374.7h.9M409.7 349.6h.9M423.1 334.6h.9M416.4 378.5h.9M418.1 356.5h.9M403.8 365.5h.9M430.3 343.1h.9M424.6 346.5h.9M403.4 377.8h.9M425.2 345.1h.9M401.8 348.8h.9M402.0 351.1h.9M416.7 346.4h.9M438.7 349.8h.9M424.9 374.5h.9M423.4 347.9h.9M425.3 351.0h.9M407.4 366.4h.9M424.8 390.8h.9M423.4 370.6h.9M408.9 364.5h.9M422.1 370.7h.9M428.0 333.6h.9M402.5 360.1h.9M408.6 365.8h.9M425.2 353.6h.9M415.6 365.4h.9M421.0 329.8h.9M440.9 358.6h.9M415.7 344.9h.9M421.1 359.3h.9M430.6 355.3h.9M423.2 359.0h.9M421.5 362.2h.9M426.0 373.3h.9M438.1 371.0h.9M395.0 361.4h.9M428.2 373.2h.9M407.2 347.8h.9M407.4 358.3h.9M435.0 359.1h.9M422.0 369.8h.9M411.1 358.0h.9M411.9 352.4h.9M427.4 354.6h.9M420.1 353.6h.9M415.2 357.0h.9M419.2 336.5h.9M421.4 342.4h.9M431.8 360.6h.9M433.0 329.8h.9M414.2 344.8h.9M426.2 365.5h.9M419.4 368.4h.9M429.2 362.4h.9M413.3 362.8h.9M423.6 335.8h.9M434.1 355.6h.9M417.1 352.6h.9M408.0 339.4h.9M428.4 344.2h.9M419.9 358.9h.9M423.5 328.6h.9M426.4 360.0h.9M423.6 347.0h.9M410.1 354.5h.9M400.7 366.3h.9M426.2 358.1h.9M402.0 360.3h.9M414.7 355.6h.9M414.4 363.8h.9M413.1 351.3h.9M423.8 387.0h.9M424.9 386.7h.9M419.9 361.2h.9M417.0 359.7h.9M425.9 355.3h.9M407.7 360.8h.9M439.4 344.1h.9M404.5 373.6h.9M428.6 339.3h.9M404.3 373.7h.9M426.8 368.1h.9M411.6 366.7h.9M421.5 329.8h.9M427.2 382.8h.9M423.2 362.5h.9M409.7 385.5h.9M434.2 342.4h.9M425.2 359.6h.9M440.6 377.2h.9M416.8 364.8h.9M415.2 357.4h.9M396.7 351.0h.9M418.0 346.8h.9M405.1 352.9h.9M418.5 347.1h.9M419.2 357.0h.9M413.2 350.2h.9M427.1 366.2h.9M416.5 360.8h.9M411.6 338.2h.9M432.6 343.6h.9M422.8 381.9h.9M425.8 368.0h.9M421.3 351.8h.9M421.5 366.7h.9M411.5 370.7h.9M398.8 347.1h.9M426.0 362.8h.9M421.8 355.6h.9M408.0 359.0h.9M411.0 367.7h.9M412.0 365.6h.9M448.4 360.7h.9M425.5 334.1h.9M413.5 343.9h.9M401.8 348.1h.9M404.2 374.2h.9M410.0 365.0h.9M415.1 366.6h.9M426.0 366.3h.9M407.9 369.7h.9M428.4 384.4h.9M440.7 356.0h.9M409.5 359.3h.9M408.0 357.1h.9M422.7 340.8h.9M427.1 346.6h.9M430.1 363.5h.9M424.1 335.0h.9M421.2 350.0h.9M408.5 346.9h.9M418.6 352.9h.9M424.3 370.7h.9M410.7 383.4h.9M417.6 334.9h.9M409.0 371.1h.9M414.3 347.9h.9M414.3 367.3h.9M422.9 339.7h.9M412.4 350.7h.9M412.6 376.3h.9M419.1 363.6h.9M397.8 343.2h.9M425.8 355.3h.9M420.0 360.4h.9M410.6 367.0h.9M424.9 356.9h.9M428.6 336.1h.9M433.2 327.8h.9M408.0 373.7h.9M428.1 356.6h.9M435.3 356.1h.9M412.4 367.2h.9M408.5 360.7h.9M412.8 345.6h.9M426.4 365.8h.9M426.8 364.6h.9M417.9 357.1h.9M415.3 327.0h.9M424.5 372.6h.9M424.3 358.4h.9M418.1 359.3h.9M428.4 357.8h.9M406.3 369.6h.9M414.5 345.6h.9M408.2 359.1h.9M424.3 366.3h.9M403.4 377.9h.9M437.1 354.0h.9M395.9 365.8h.9M423.7 358.2h.9M417.3 368.5h.9M427.8 321.1h.9M401.6 370.8h.9M408.6 377.2h.9M407.3 359.8h.9M413.8 354.6h.9M401.9 343.6h.9M412.8 349.8h.9M415.9 361.6h.9M434.5 363.9h.9M418.7 351.8h.9M412.9 378.7h.9M416.3 339.0h.9M413.2 347.2h.9M420.5 370.6h.9M425.2 352.7h.9M411.7 362.9h.9M405.5 347.7h.9M433.2 352.7h.9M415.0 358.1h.9M401.4 342.0h.9M432.9 332.5h.9M424.7 359.2h.9M420.9 332.8h.9M414.9 349.1h.9M420.0 346.7h.9M433.3 348.9h.9M403.6 369.4h.9M422.5 364.2h.9M424.5 357.4h.9M439.3 373.2h.9M408.4 361.5h.9M424.2 359.0h.9M416.0 372.3h.9M420.3 344.0h.9M420.1 357.3h.9M416.7 364.4h.9M412.0 342.7h.9M426.3 378.7h.9M416.3 356.4h.9M414.5 362.0h.9M426.7 343.1h.9M417.3 350.6h.9M420.7 361.1h.9M404.1 351.1h.9M412.4 343.8h.9M415.1 360.0h.9M430.1 346.2h.9M416.9 347.7h.9M397.2 334.2h.9M403.1 347.5h.9M417.3 357.3h.9M428.9 361.3h.9M420.1 336.6h.9M430.0 375.0h.9M433.0 372.1h.9M411.5 348.6h.9M422.8 365.7h.9M420.9 353.3h.9M424.0 341.1h.9M419.5 343.8h.9M416.3 352.3h.9M413.6 354.9h.9M448.5 363.7h.9M411.1 348.6h.9M432.3 359.7h.9M425.6 366.7h.9M433.3 345.6h.9M407.2 343.5h.9M418.6 356.8h.9M408.0 342.0h.9M415.9 358.2h.9M428.3 353.7h.9M418.6 364.9h.9M413.7 364.7h.9M409.1 360.5h.9M424.3 376.8h.9M420.9 353.3h.9M429.0 353.5h.9M424.5 372.3h.9M416.7 349.7h.9M418.0 375.1h.9M422.5 367.2h.9M420.0 353.0h.9M431.3 320.3h.9M419.6 376.0h.9M405.9 361.6h.9M390.1 374.4h.9M421.6 347.6h.9M430.0 346.9h.9M415.1 348.1h.9M422.0 347.4h.9M430.0 361.2h.9M422.4 335.3h.9M421.5 372.3h.9M416.3 355.1h.9M421.4 366.0h.9M436.2 355.1h.9M413.3 357.6h.9M399.5 361.2h.9M410.3 319.2h.9M407.1 364.8h.9M406.9 367.1h.9M402.9 363.5h.9M433.9 355.1h.9M421.2 358.5h.9M390.7 368.3h.9M403.7 348.2h.9M430.9 351.8h.9M407.4 347.0h.9M428.3 361.8h.9M397.8 358.5h.9M428.0 359.9h.9M407.9 352.4h.9M408.5 355.2h.9M422.0 374.4h.9M415.3 355.9h.9M403.2 358.5h.9M436.4 341.3h.9M414.6 336.4h.9M403.8 356.9h.9M413.8 335.8h.9M421.4 354.8h.9M423.8 353.9h.9M413.7 353.3h.9M412.2 359.7h.9M423.4 356.8h.9M430.4 329.2h.9M406.8 355.7h.9M424.9 378.3h.9M415.5 332.0h.9M422.6 384.8h.9M415.7 372.6h.9M426.2 341.9h.9M442.6 343.6h.9M420.1 350.1h.9M413.4 361.6h.9M417.8 356.5h.9M413.5 351.2h.9M411.5 353.1h.9M401.9 364.4h.9M418.8 360.7h.9M440.7 342.3h.9M420.5 350.4h.9M418.7 332.2h.9M437.4 361.7h.9M416.7 369.8h.9M418.7 368.0h.9M438.2 336.9h.9M414.2 343.2h.9M422.5 359.4h.9M425.2 373.1h.9M412.0 349.6h.9M430.8 369.8h.9M408.9 359.0h.9M406.7 360.9h.9M420.4 367.9h.9M414.8 350.8h.9M399.8 384.6h.9M431.1 344.0h.9M414.9 349.7h.9M405.7 363.6h.9M423.6 341.1h.9M437.8 371.8h.9M414.5 359.3h.9M406.2 345.9h.9M427.0 353.6h.9M407.7 371.3h.9M411.2 353.1h.9M430.7 348.5h.9M423.3 356.6h.9M415.8 363.8h.9M446.9 348.5h.9M396.6 378.2h.9M418.9 329.4h.9M419.6 355.3h.9M421.3 372.4h.9M395.5 366.4h.9M429.5 354.0h.9M410.6 351.7h.9M424.4 350.1h.9M397.2 377.5h.9M417.8 364.6h.9M403.0 351.6h.9M423.4 348.3h.9M415.3 368.1h.9M437.8 350.9h.9M393.6 360.1h.9M416.5 372.7h.9M419.7 344.4h.9M422.5 356.3h.9M420.6 363.8h.9M415.7 353.9h.9M422.6 360.0h.9M430.6 330.7h.9M431.0 349.1h.9M414.6 381.6h.9M420.0 347.2h.9M415.9 363.0h.9M402.3 348.0h.9M416.2 367.5h.9M412.5 369.5h.9M436.3 356.9h.9M422.5 361.4h.9M410.1 357.5h.9M424.0 363.6h.9M406.9 368.1h.9M405.6 351.1h.9M402.6 355.1h.9M421.6 359.9h.9M421.2 357.6h.9M425.8 364.3h.9M428.3 356.1h.9M421.2 347.7h.9M439.8 388.6h.9M429.4 346.5h.9M398.6 359.8h.9M395.9 370.2h.9M422.6 376.2h.9M442.1 365.0h.9M398.1 366.3h.9M425.3 370.2h.9M406.8 365.2h.9M403.4 351.5h.9M422.5 337.7h.9M416.8 365.3h.9M416.0 358.3h.9M418.8 355.9h.9M414.3 351.2h.9M412.3 345.3h.9M429.6 369.8h.9M413.9 367.9h.9M428.3 350.5h.9M405.7 376.0h.9M407.1 363.3h.9M417.7 355.7h.9" stroke="#5577f5" stroke-opacity="0.45" stroke-width="0.9" fill="none"/>
<path d="M398.7 367.7h.9M431.8 388.7h.9M400.9 362.9h.9M434.3 332.4h.9M371.5 344.0h.9M427.7 380.9h.9M398.4 354.7h.9M401.7 300.7h.9M412.4 359.1h.9M435.3 376.5h.9M412.4 331.0h.9M399.6 392.1h.9M431.1 354.8h.9M423.1 347.2h.9M384.2 383.5h.9M440.1 344.2h.9M428.4 358.2h.9M415.1 353.9h.9M410.6 327.9h.9M393.2 327.1h.9M421.4 365.4h.9M414.6 347.7h.9M420.8 371.7h.9M392.7 394.3h.9M392.0 357.8h.9M423.2 345.0h.9M419.9 344.9h.9M456.2 342.1h.9M417.7 368.3h.9M425.2 346.2h.9M429.3 356.9h.9M433.2 368.1h.9M419.8 344.4h.9M393.9 320.4h.9M412.8 364.4h.9M415.9 392.8h.9M405.4 375.6h.9M401.4 345.4h.9M430.5 350.3h.9M425.1 341.9h.9M412.8 370.5h.9M411.2 351.4h.9M415.6 375.6h.9M406.5 353.4h.9M429.4 345.5h.9M407.8 351.0h.9M438.6 377.1h.9M423.7 381.1h.9M420.7 369.6h.9M416.3 335.4h.9M431.5 329.1h.9M422.4 334.7h.9M408.9 380.3h.9M408.0 363.9h.9M430.9 356.7h.9M404.6 362.4h.9M417.3 330.1h.9M427.7 359.1h.9M433.3 358.1h.9M425.3 326.8h.9M410.3 336.0h.9M437.9 391.0h.9M428.6 342.2h.9M411.6 351.9h.9M413.7 358.1h.9M425.0 361.2h.9M396.5 344.8h.9M379.0 377.7h.9M450.9 376.8h.9M430.2 342.6h.9M427.7 350.8h.9M428.0 359.9h.9M408.2 340.1h.9M430.7 335.8h.9M436.1 348.6h.9M421.4 375.7h.9M414.2 374.8h.9M430.3 318.1h.9M448.1 331.4h.9M416.9 348.4h.9M422.1 369.2h.9M428.1 341.9h.9M386.2 327.6h.9M414.4 387.9h.9M404.8 352.1h.9M391.8 382.5h.9M404.9 373.8h.9M434.1 356.8h.9M408.8 351.6h.9M418.6 344.7h.9M398.4 422.2h.9M426.4 337.8h.9M454.7 346.5h.9M421.7 356.2h.9M454.0 363.5h.9M421.0 355.9h.9M392.5 341.3h.9M441.3 302.9h.9M399.2 356.1h.9M406.3 388.8h.9M426.3 360.1h.9M432.6 382.7h.9M423.8 336.7h.9M419.0 377.4h.9M430.8 360.5h.9M446.4 391.1h.9M379.9 378.0h.9M427.4 371.5h.9M367.5 351.2h.9M449.4 402.1h.9M446.1 322.7h.9M414.2 380.2h.9M433.8 328.8h.9M407.8 339.5h.9M415.8 384.5h.9M410.0 357.8h.9M424.4 350.3h.9M392.2 364.7h.9M444.9 354.3h.9M441.9 385.7h.9" stroke="#5577f5" stroke-opacity="0.35" stroke-width="0.9" fill="none"/>
<ellipse cx="419.8" cy="358.4" rx="11.0" ry="15.2" transform="rotate(0 419.8 358.4)" fill="#7090f6" fill-opacity="0.5" filter="url(#bl25)"/>
<ellipse cx="419.8" cy="361.4" rx="9.3" ry="12.8" transform="rotate(0 419.8 361.4)" fill="#4a6af4" fill-opacity="0.85" filter="url(#bl22)"/>
<ellipse cx="419.8" cy="361.4" rx="7.2" ry="9.6" transform="rotate(0 419.8 361.4)" fill="#2a4cf2" fill-opacity="1" filter="url(#bl16)"/>
<ellipse cx="419.8" cy="359.4" rx="7.2" ry="6.2" transform="rotate(0 419.8 359.4)" fill="#2ec4ea" fill-opacity="1" filter="url(#bl11)"/>
<ellipse cx="419.8" cy="359.4" rx="6.4" ry="5.5" transform="rotate(0 419.8 359.4)" fill="#44e23e" fill-opacity="1" filter="url(#bl10)"/>
<ellipse cx="419.3" cy="359.1" rx="3.8" ry="3.0" transform="rotate(-20 419.3 359.1)" fill="#e6ee22" fill-opacity="1" filter="url(#bl8)"/>
<ellipse cx="419.3" cy="359.1" rx="2.6" ry="1.9" transform="rotate(-20 419.3 359.1)" fill="#f22a14" fill-opacity="1" filter="url(#bl5)"/>
<path d="M408.2,381.1 V349.1 H432.2 V381.1" fill="none" stroke="#666" stroke-width="0.6"/>
</g>
<rect x="391.6" y="328.2" width="53.8" height="52.9" fill="none" stroke="#111" stroke-width="1.3"/>
<path d="M390.3 332.0h1.3M390.3 335.8h1.3M390.3 339.5h1.3M390.3 343.3h1.3M390.3 347.1h1.3M390.3 350.9h1.3M390.3 354.6h1.3M390.3 358.4h1.3M390.3 362.2h1.3M390.3 366.0h1.3M390.3 369.8h1.3M390.3 373.5h1.3M390.3 377.3h1.3M395.4 381.1v1.3M399.3 381.1v1.3M403.1 381.1v1.3M407.0 381.1v1.3M410.8 381.1v1.3M414.7 381.1v1.3M418.5 381.1v1.3M422.3 381.1v1.3M426.2 381.1v1.3M430.0 381.1v1.3M433.9 381.1v1.3M437.7 381.1v1.3M441.6 381.1v1.3" stroke="#222" stroke-width="0.7"/>
<rect x="412.7" y="362.8" width="14.3" height="7.3" fill="#fff" fill-opacity="0.95"/>
<text x="419.8" y="368.6" font-size="6.8" class="q" text-anchor="middle" textLength="12.3" lengthAdjust="spacingAndGlyphs">97.3</text>
</svg></body></html>
